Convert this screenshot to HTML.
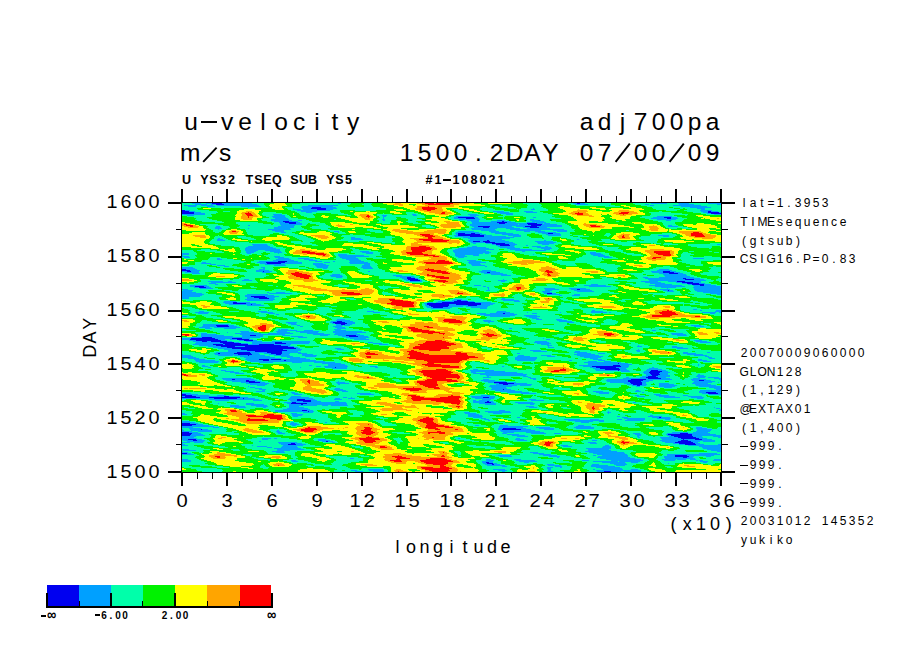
<!DOCTYPE html>
<html><head><meta charset="utf-8"><style>
html,body{margin:0;padding:0;background:#fff;}
body{width:904px;height:654px;position:relative;overflow:hidden;}
.t{position:absolute;white-space:nowrap;font-family:"Liberation Sans", "DejaVu Sans", sans-serif;color:#000;}
.t i{display:inline-block;font-style:normal;text-align:center;}
.t i.inf{font-size:13px;line-height:10px;font-weight:700;transform:translateY(-1px) scaleY(1.25)}
</style></head><body>
<svg width="904" height="654" style="position:absolute;left:0;top:0" shape-rendering="crispEdges"><g fill="none" stroke-width="1"><path stroke="#0000f0" d="M209 202.5h8m500 0h4M212 203.5h10m355 0h3M216 204.5h8M312 207.5h9M311 208.5h15M317 209.5h9M181 210.5h4M181 211.5h8m519 0h3M181 212.5h13m514 0h11M181 213.5h13m517 0h10M458 217.5h16m190 0h7M466 218.5h9m192 0h4M283 221.5h6m213 0h2M285 222.5h11m201 0h10M289 223.5h7m203 0h6m22 0h10M528 224.5h14M531 225.5h10M478 226.5h12m35 0h12M483 227.5h6m41 0h9M458 233.5h7m6 0h4m73 0h5M458 234.5h22M458 235.5h26M470 236.5h14M487 240.5h2M473 241.5h7m3 0h7M485 242.5h10M492 243.5h13M496 244.5h13M500 245.5h10M278 261.5h9M266 262.5h19M267 263.5h14M181 269.5h5M181 270.5h9M187 271.5h4m72 0h1m399 0h7M487 272.5h3m173 0h11M669 273.5h9M407 277.5h4M407 278.5h8m268 0h3M408 279.5h10m267 0h9M410 280.5h10M677 281.5h8M682 282.5h11M687 283.5h12M692 284.5h12M700 285.5h4M195 286.5h9M199 287.5h7M577 289.5h3M668 290.5h1M547 293.5h5M251 296.5h14M254 297.5h13M259 298.5h10M457 300.5h4M454 301.5h14M233 302.5h4m205 0h33M233 303.5h13m181 0h54M251 304.5h1m175 0h22m7 0h25M429 305.5h20m19 0h9M431 306.5h17M433 307.5h10M503 313.5h2M337 321.5h5M333 322.5h12M335 323.5h12M341 324.5h4M216 325.5h12M217 326.5h12M250 335.5h6m90 0h10M349 336.5h9M202 337.5h10M191 338.5h24m17 0h10M190 339.5h28m19 0h12M196 340.5h25m23 0h9M202 341.5h5m4 0h16M220 342.5h14m41 0h7M223 343.5h18m34 0h11M213 344.5h10m2 0h23m11 0h15M216 345.5h65M221 346.5h14m10 0h43M227 347.5h67M232 348.5h64M241 349.5h42M247 350.5h40M255 351.5h27M237 352.5h13m17 0h15M218 353.5h2m14 0h17m20 0h11M238 354.5h14m24 0h5M248 355.5h1M259 359.5h10m2 0h10M263 360.5h6m15 0h2M618 363.5h1M613 365.5h7M592 366.5h29M335 367.5h1m260 0h20M600 368.5h19M605 369.5h15M618 370.5h1m32 0h7M650 371.5h12M649 372.5h11M650 373.5h9M651 374.5h9M652 375.5h6M648 376.5h8M646 377.5h12M648 378.5h13M232 379.5h3m396 0h15M246 380.5h3m379 0h15m56 0h5M246 381.5h9m373 0h13M249 382.5h11m234 0h13m123 0h12M499 383.5h15m117 0h11M503 384.5h5m125 0h9M637 385.5h3M503 389.5h1M706 392.5h10M708 393.5h10M181 394.5h5M182 395.5h10M185 396.5h11m28 0h5M181 397.5h19m9 0h31m243 0h6M214 398.5h23m6 0h1M297 399.5h8M297 400.5h14M303 401.5h8m176 0h2M292 402.5h4m189 0h6M291 403.5h16M301 404.5h2M302 410.5h5M308 411.5h1M659 417.5h2M181 423.5h9M181 424.5h15M181 425.5h11M503 428.5h13M201 429.5h1m300 0h19M181 432.5h8M181 433.5h11m488 0h8M181 434.5h10m477 0h24M181 435.5h9m481 0h21M674 436.5h19M678 437.5h18M681 438.5h18M188 439.5h8m487 0h1m11 0h7M193 440.5h4m484 0h7M326 441.5h2m350 0h13M675 442.5h18M291 443.5h4m384 0h16M288 444.5h8m389 0h11M181 452.5h1M181 453.5h6M675 455.5h12M675 456.5h14M683 457.5h4M486 462.5h3M487 463.5h6M492 464.5h2M604 471.5h7"/><path stroke="#00a0ff" d="M189 202.5h11m3 0h6m8 0h26m3 0h5m83 0h11m229 0h8m66 0h18m10 0h10m15 0h16M192 203.5h9m5 0h6m10 0h30m86 0h3m232 0h4m3 0h5m66 0h16m11 0h11m19 0h13M195 204.5h12m4 0h5m8 0h33m318 0h13m57 0h4m30 0h15m23 0h4M184 205.5h13m4 0h12m4 0h42m49 0h30m271 0h1m40 0h4m19 0h28M188 206.5h8m11 0h8m26 0h20m41 0h31m348 0h26M248 207.5h1m52 0h11m9 0h15m354 0h21M293 208.5h1m8 0h9m15 0h11m196 0h1m163 0h8M181 209.5h1m111 0h8m2 0h14m9 0h7m198 0h4m166 0h4M185 210.5h5m107 0h33m370 0h12M189 211.5h6m106 0h16m176 0h11m20 0h9m168 0h7m3 0h7M194 212.5h7m105 0h6m185 0h12m17 0h11m166 0h5m11 0h2M194 213.5h11m295 0h13m194 0h4M181 214.5h24m68 0h9m130 0h4m52 0h9m29 0h7m201 0h7M187 215.5h7m80 0h11m97 0h5m26 0h4m53 0h9M272 216.5h13m98 0h3m70 0h20m181 0h15M273 217.5h13m97 0h1m70 0h4m16 0h4m55 0h3m117 0h11m7 0h6M275 218.5h13m95 0h1m70 0h12m9 0h4m172 0h16m4 0h7M271 219.5h18m93 0h3m74 0h21m50 0h4m123 0h19M271 220.5h21m6 0h4m81 0h2m82 0h12m18 0h8m25 0h10m126 0h5M274 221.5h9m6 0h9m173 0h8m12 0h11m2 0h7m21 0h12M279 222.5h6m11 0h4m172 0h25m10 0h9m11 0h8m1 0h10M280 223.5h9m7 0h6m170 0h27m6 0h22m10 0h6m1 0h6M280 224.5h22m168 0h48m1 0h9m14 0h15M248 225.5h2m31 0h14m175 0h61m10 0h21m106 0h4M216 226.5h4m58 0h16m178 0h6m12 0h22m4 0h9m12 0h25m106 0h10M215 227.5h6m53 0h20m180 0h9m6 0h25m9 0h7m9 0h8M215 228.5h7m26 0h1m25 0h16m181 0h26m9 0h14m7 0h23M218 229.5h1m49 0h23m181 0h23m15 0h54M272 230.5h12m197 0h15m20 0h25m12 0h14M275 231.5h9m50 0h5m119 0h16m15 0h10m25 0h6m5 0h10m12 0h10M281 232.5h5m52 0h1m117 0h23m12 0h15m32 0h18M455 233.5h3m7 0h6m4 0h7m13 0h18m29 0h6m5 0h7M456 234.5h2m22 0h6m16 0h17m27 0h15M454 235.5h4m26 0h8m16 0h13m27 0h13m97 0h11M455 236.5h15m14 0h22m7 0h8m142 0h6M351 237.5h4m108 0h51M218 238.5h2m131 0h10m107 0h42M217 239.5h6m128 0h12m107 0h32m75 0h2M217 240.5h8m243 0h19m2 0h16m39 0h2M469 241.5h4m7 0h3m7 0h19m26 0h18M471 242.5h14m10 0h18m24 0h19M473 243.5h3m10 0h6m13 0h10m23 0h16M252 244.5h15m225 0h4m13 0h8m25 0h7m168 0h4M253 245.5h15m228 0h4m10 0h5m11 0h2M248 246.5h22m202 0h5m21 0h16m18 0h9m4 0h3M246 247.5h27m194 0h19m14 0h15m22 0h14M245 248.5h31m182 0h31m18 0h13m21 0h11M245 249.5h35m175 0h39m16 0h22m12 0h6M245 250.5h13m7 0h15m173 0h33m29 0h31M246 251.5h10m14 0h11m79 0h9m84 0h36m33 0h3M246 252.5h8m20 0h8m80 0h11m81 0h37m99 0h6M181 253.5h8m58 0h4m27 0h1m87 0h7m82 0h28m2 0h4m101 0h11M181 254.5h8m149 0h9m108 0h24m54 0h1m57 0h12M181 255.5h2m155 0h26m91 0h10m8 0h6m114 0h12M181 256.5h8m85 0h6m59 0h30m87 0h11m131 0h11M184 257.5h6m85 0h9m56 0h16m102 0h6m140 0h8M217 258.5h3m58 0h11m9 0h11m33 0h16m335 0h11M217 259.5h5m54 0h15m13 0h9m33 0h13M273 260.5h21m15 0h8m32 0h12m106 0h9M259 261.5h19m9 0h11m17 0h7m11 0h2m15 0h14m105 0h12M202 262.5h4m51 0h9m19 0h17m22 0h6m19 0h19m100 0h18M201 263.5h10m49 0h7m14 0h21m11 0h10m27 0h20m99 0h11M210 264.5h6m49 0h20m28 0h13m38 0h6m101 0h10M217 265.5h8m49 0h12m29 0h14m33 0h8m102 0h13M224 266.5h5m87 0h12m34 0h9m114 0h2M181 267.5h12m68 0h4m52 0h11m33 0h11M181 268.5h14m68 0h2m58 0h4m36 0h10M186 269.5h11m62 0h6m394 0h10M190 270.5h10m56 0h13m213 0h9m166 0h15M181 271.5h6m4 0h8m57 0h7m1 0h8m96 0h2m109 0h17m155 0h12m7 0h6M185 272.5h14m63 0h8m211 0h6m3 0h10m152 0h11m11 0h6M192 273.5h8m284 0h19m156 0h10m9 0h5M332 274.5h8m151 0h16m156 0h23M330 275.5h12m51 0h9m99 0h10m153 0h23M331 276.5h12m53 0h18m251 0h25M336 277.5h6m58 0h7m4 0h4m228 0h5m11 0h35M402 278.5h5m8 0h3m227 0h38m3 0h14M244 279.5h5m155 0h4m10 0h2m83 0h1m144 0h37m9 0h10M242 280.5h10m154 0h4m10 0h2m76 0h9m142 0h57M208 281.5h15m5 0h4m178 0h12m79 0h4m136 0h17m10 0h9m8 0h16M211 282.5h25m409 0h16m15 0h6m11 0h8M209 283.5h7m434 0h15m17 0h5m12 0h6M215 284.5h3m373 0h7m57 0h17m16 0h4m12 0h7M190 285.5h17m267 0h7m103 0h22m43 0h33m11 0h7m4 0h12M190 286.5h5m9 0h5m274 0h3m103 0h22m44 0h30m9 0h27M194 287.5h5m7 0h5m276 0h2m172 0h15m17 0h28M200 288.5h13m275 0h1m55 0h11m14 0h17m81 0h1m26 0h27M182 289.5h6m300 0h1m56 0h14m12 0h6m3 0h10m70 0h10m24 0h27M183 290.5h10m293 0h4m55 0h7m22 0h18m71 0h5m1 0h4m22 0h26M181 291.5h11m350 0h8m27 0h17m73 0h7m23 0h24M181 292.5h15m71 0h2m7 0h9m258 0h9m151 0h18M181 293.5h21m67 0h23m252 0h3m5 0h4m154 0h11M181 294.5h23m43 0h21m279 0h13m14 0h6m137 0h4M181 295.5h21m43 0h29m285 0h3m10 0h8M181 296.5h19m45 0h6m14 0h14M181 297.5h8m58 0h7m13 0h8M181 298.5h8m58 0h12m10 0h5m228 0h3M245 299.5h30m179 0h8m39 0h13M247 300.5h26m179 0h5m4 0h6m36 0h16M224 301.5h12m202 0h16m14 0h6m40 0h6M223 302.5h10m4 0h13m178 0h5m3 0h6m33 0h16M225 303.5h8m13 0h10m168 0h3m54 0h14M229 304.5h22m1 0h9m164 0h2m22 0h7m25 0h12M247 305.5h17m161 0h4m20 0h19m9 0h13M426 306.5h5m17 0h15m3 0h22M427 307.5h6m10 0h9m19 0h16M431 308.5h19m30 0h7M693 309.5h4M592 310.5h3m105 0h2m14 0h5M199 311.5h5m54 0h9m100 0h7m123 0h9m85 0h12m112 0h6M195 312.5h14m52 0h12m100 0h7m78 0h1m37 0h14m17 0h1m32 0h1m30 0h16m2 0h2m91 0h14m3 0h2M198 313.5h10m60 0h7m202 0h9m4 0h13m2 0h9m18 0h5m173 0h5M276 314.5h3m201 0h37M484 315.5h31m9 0h13M181 316.5h6m303 0h20m16 0h14M529 317.5h8M532 318.5h7M337 319.5h8m191 0h6m14 0h6M336 320.5h14m133 0h8m66 0h10M331 321.5h6m5 0h11m131 0h10m65 0h13M286 322.5h11m33 0h3m12 0h10m133 0h2m77 0h7M288 323.5h8m36 0h3m12 0h8M203 324.5h26m62 0h6m39 0h5m4 0h7M203 325.5h13m12 0h6m63 0h3m36 0h7m1 0h6m341 0h10M202 326.5h15m12 0h8m63 0h3m30 0h9m352 0h10M199 327.5h11m4 0h26m95 0h10M205 328.5h7m12 0h12m101 0h9m163 0h3M278 329.5h2m1 0h7m46 0h7M278 330.5h19m7 0h9m22 0h11m306 0h4M240 331.5h9m27 0h11m9 0h23m14 0h29M227 332.5h1m13 0h13m23 0h13m10 0h18m15 0h33M201 333.5h6m28 0h26m7 0h25m14 0h17m11 0h22m314 0h12M201 334.5h16m23 0h45m28 0h17m4 0h26m312 0h14M201 335.5h23m18 0h8m6 0h7m19 0h8m30 0h8m10 0h8m10 0h8m313 0h10M201 336.5h32m9 0h21m28 0h12m39 0h7m9 0h10M191 337.5h11m10 0h48m38 0h9m39 0h23M182 338.5h9m24 0h17m10 0h8m100 0h16m177 0h1M181 339.5h9m28 0h7m5 0h7m12 0h4m101 0h15m177 0h4M189 340.5h7m25 0h6m12 0h5m9 0h4m437 0h8M193 341.5h9m5 0h4m16 0h5m14 0h16m10 0h38m225 0h12m149 0h11M196 342.5h24m14 0h5m13 0h23m7 0h28m58 0h5m161 0h15m151 0h11M195 343.5h28m18 0h7m4 0h23m11 0h23m64 0h9m155 0h14M193 344.5h20m10 0h2m23 0h11m15 0h17m88 0h9m153 0h8M199 345.5h17m65 0h9m257 0h5m86 0h1M208 346.5h13m14 0h10m43 0h6m254 0h1m88 0h5m30 0h5M213 347.5h14m67 0h4m250 0h6m118 0h11M218 348.5h14m64 0h4m35 0h6m336 0h11M224 349.5h17m42 0h19m35 0h7m294 0h1M228 350.5h19m40 0h14m229 0h11m95 0h4M228 351.5h27m27 0h16m235 0h14m28 0h5m57 0h3M216 352.5h21m13 0h17m15 0h19m273 0h13m96 0h5m19 0h3M214 353.5h4m2 0h14m17 0h8m5 0h7m11 0h8m8 0h9m210 0h3m57 0h14m7 0h7m78 0h13M181 354.5h2m32 0h23m14 0h8m9 0h7m5 0h8m13 0h11m261 0h21m92 0h16M181 355.5h10m27 0h15m1 0h14m1 0h16m9 0h16m12 0h15m201 0h6m17 0h10m26 0h22m95 0h13M181 356.5h12m47 0h30m11 0h12m12 0h11m201 0h13m17 0h8m25 0h23m102 0h4M181 357.5h15m48 0h31m12 0h13m215 0h22m47 0h17m107 0h4M188 358.5h11m47 0h36m8 0h16m209 0h22m53 0h8m111 0h6M194 359.5h11m40 0h14m10 0h2m10 0h29m205 0h21m57 0h9m96 0h4M195 360.5h20m32 0h16m6 0h15m2 0h30m201 0h18m34 0h3m26 0h7m93 0h9M196 361.5h23m31 0h75m263 0h9m7 0h7m92 0h8M199 362.5h19m41 0h14m19 0h10m12 0h21m249 0h37M322 363.5h19m247 0h30m1 0h9M328 364.5h17m243 0h44m66 0h1M202 365.5h3m104 0h3m16 0h19m232 0h34m7 0h9m69 0h1M202 366.5h6m108 0h5m3 0h24m22 0h7m125 0h2m79 0h9m29 0h8M208 367.5h3m89 0h1m24 0h10m1 0h11m28 0h3m212 0h6m20 0h12m24 0h2M332 368.5h15m246 0h7m19 0h7m23 0h9M473 369.5h5m117 0h10m15 0h7m20 0h15M221 370.5h5m244 0h24m102 0h22m1 0h10m17 0h5m7 0h8M225 371.5h9m237 0h34m116 0h9m14 0h6m12 0h6M230 372.5h9m232 0h5m9 0h32m126 0h6m11 0h10M235 373.5h9m229 0h50m121 0h6m9 0h9M480 374.5h47m119 0h5m9 0h8m30 0h2M486 375.5h40m120 0h6m6 0h12m27 0h7M487 376.5h2m34 0h5m114 0h6m8 0h14m26 0h10M483 377.5h8m37 0h3m95 0h3m11 0h6m12 0h8m32 0h7m3 0h11M222 378.5h29m279 0h6m87 0h25m13 0h9m23 0h7m14 0h7M223 379.5h9m3 0h19m229 0h6m44 0h3m71 0h24m15 0h26m19 0h15m13 0h2M226 380.5h20m3 0h8m224 0h14m111 0h22m15 0h10m39 0h7m5 0h7m9 0h1M232 381.5h14m9 0h6m77 0h1m145 0h22m101 0h21m13 0h8m45 0h21m5 0h1M241 382.5h8m11 0h5m71 0h9m143 0h6m13 0h9m94 0h20m12 0h4m47 0h19m6 0h1M246 383.5h23m68 0h12m145 0h5m15 0h13m97 0h7m11 0h4m13 0h10m23 0h16M250 384.5h17m71 0h2m156 0h7m5 0h24m95 0h6m9 0h5m12 0h15m21 0h16M257 385.5h8m225 0h27m3 0h11m101 0h5m3 0h6m13 0h18m19 0h20M248 386.5h1m240 0h23m124 0h4m19 0h16m24 0h22M250 387.5h5m236 0h15m158 0h8m37 0h12M255 388.5h7m73 0h5m152 0h15m207 0h7M259 389.5h7m68 0h9m148 0h12m1 0h7m205 0h5M262 390.5h3m71 0h10m149 0h20m121 0h3m61 0h21M256 391.5h9m77 0h6m152 0h22m71 0h10m32 0h6m58 0h22M291 392.5h4m212 0h22m67 0h13m33 0h2m55 0h7m10 0h5M181 393.5h10m101 0h6m59 0h14m150 0h15m63 0h10m93 0h6m10 0h3M186 394.5h12m96 0h8m58 0h14m280 0h7m48 0h12M181 395.5h1m10 0h17m8 0h9m255 0h9m145 0h4m17 0h13m14 0h5M181 396.5h4m11 0h28m5 0h11m51 0h10m170 0h24m142 0h8m14 0h16m13 0h14M200 397.5h9m31 0h8m42 0h19m34 0h4m4 0h1m120 0h11m6 0h6m169 0h16m11 0h13M181 398.5h33m23 0h6m1 0h11m34 0h24m22 0h5m8 0h7m120 0h19m203 0h6M209 399.5h50m29 0h9m8 0h10m19 0h8m140 0h9m38 0h7M215 400.5h14m24 0h9m28 0h7m14 0h6m156 0h3m3 0h11m41 0h13M291 401.5h12m8 0h10m14 0h4m134 0h14m2 0h4M284 402.5h8m4 0h50m127 0h12m6 0h3m21 0h18m100 0h3M218 403.5h1m27 0h8m33 0h4m16 0h40m132 0h17m22 0h17M246 404.5h18m25 0h12m2 0h44m138 0h11m34 0h4M230 405.5h9m12 0h16m22 0h28m5 0h6m3 0h17M230 406.5h15m11 0h12m21 0h10m227 0h8M235 407.5h11m17 0h3m23 0h15m225 0h8m177 0h1M287 408.5h21m408 0h4M283 409.5h27m410 0h1M275 410.5h27m5 0h6m186 0h6m214 0h2M275 411.5h33m1 0h5m171 0h25m98 0h1M303 412.5h10m151 0h6m18 0h23m96 0h4M181 413.5h4m106 0h6m168 0h11m17 0h9m106 0h1M181 414.5h6m105 0h11m165 0h11M292 415.5h10m166 0h14m168 0h3M293 416.5h5m170 0h15m134 0h3m28 0h14M473 417.5h9m35 0h3m102 0h6m24 0h7m2 0h9M481 418.5h5m138 0h21m12 0h14M484 419.5h5m75 0h16m10 0h9m18 0h5m5 0h18m20 0h5M488 420.5h2m78 0h36m21 0h19M181 421.5h9m385 0h18m6 0h5M181 422.5h14m96 0h3m31 0h2m254 0h8M190 423.5h8m92 0h7M196 424.5h7m87 0h9M192 425.5h17m83 0h4m179 0h4m21 0h8m70 0h6M181 426.5h33m285 0h29m48 0h15M181 427.5h12m20 0h6m280 0h24m13 0h14m24 0h20m102 0h6M181 428.5h1m7 0h12m297 0h5m13 0h10m13 0h15m22 0h18m102 0h11M181 429.5h2m7 0h11m1 0h6m290 0h4m19 0h10m13 0h10m143 0h15M181 430.5h3m7 0h21m65 0h2m221 0h35m162 0h14M181 431.5h11m6 0h14m64 0h4m221 0h39m156 0h14M189 432.5h9m79 0h5m221 0h11m12 0h18m128 0h16m5 0h15M192 433.5h9m77 0h7m217 0h5m24 0h15m8 0h7m72 0h7m27 0h13m8 0h22M191 434.5h12m304 0h12m116 0h6m25 0h2m24 0h24M190 435.5h15m307 0h13m112 0h4m26 0h4m21 0h29M181 436.5h15m321 0h11m109 0h2m30 0h5m19 0h9m11 0h8M181 437.5h13m444 0h2m20 0h18m18 0h7m15 0h3M181 438.5h16m65 0h9m3 0h3m181 0h2m56 0h4m141 0h20m18 0h8M181 439.5h7m8 0h6m60 0h6m50 0h8m189 0h9m138 0h21m1 0h11m7 0h10M183 440.5h10m4 0h8m113 0h12m187 0h10m65 0h5m63 0h21m7 0h27M181 441.5h1m5 0h17m55 0h2m61 0h4m2 0h5m329 0h16m13 0h9m3 0h12M181 442.5h9m4 0h9m75 0h19m35 0h3m253 0h8m69 0h10m18 0h5M181 443.5h2m96 0h12m4 0h7m288 0h7m76 0h6m16 0h5M181 444.5h4m96 0h7m8 0h10m373 0h6m11 0h8m14 0h3M181 445.5h7m64 0h1m30 0h20m258 0h7m37 0h4m79 0h33M257 446.5h10m15 0h15m266 0h9m31 0h8m88 0h22M267 447.5h5m9 0h17m304 0h9m91 0h19M274 448.5h27m285 0h25m92 0h18M181 449.5h8m88 0h27m284 0h21m98 0h14M183 450.5h13m81 0h13m298 0h23m100 0h10M181 451.5h2m89 0h12m301 0h32m100 0h4M182 452.5h6m88 0h9m245 0h8m51 0h35M187 453.5h4m342 0h11m49 0h32m74 0h18M181 454.5h13m345 0h12m46 0h30m40 0h53M498 455.5h13m32 0h14m36 0h3m6 0h26m39 0h8m12 0h27M500 456.5h12m37 0h11m38 0h30m36 0h11m14 0h5m12 0h5M557 457.5h2m38 0h33m34 0h19m4 0h6M350 458.5h4m246 0h35m30 0h30M181 459.5h7m298 0h5m23 0h7m85 0h35m21 0h14m1 0h9m4 0h6m18 0h7M181 460.5h10m100 0h5m190 0h8m22 0h19m47 0h7m22 0h32m21 0h11m21 0h2m1 0h4m10 0h8M181 461.5h10m101 0h6m184 0h11m26 0h18m56 0h25m1 0h21m60 0h8M482 462.5h4m3 0h4m31 0h5m73 0h23m6 0h7m65 0h4M483 463.5h4m6 0h4m113 0h16m42 0h1M485 464.5h7m2 0h6m47 0h7m38 0h7m15 0h13M487 465.5h18m43 0h13m30 0h17m8 0h9M502 466.5h5m48 0h7m29 0h24M547 467.5h6m7 0h2m34 0h24M547 468.5h4m50 0h21M368 469.5h15m110 0h12m43 0h3m42 0h2m8 0h20m8 0h7M351 470.5h6m12 0h15m114 0h9m41 0h3m45 0h45M355 471.5h8m10 0h11m118 0h3m42 0h6m44 0h7m7 0h10m3 0h17"/><path stroke="#00ffaa" d="M181 202.5h8m11 0h3m40 0h3m5 0h18m45 0h20m11 0h4m15 0h9m145 0h24m26 0h6m8 0h11m1 0h20m15 0h19m18 0h10m10 0h15M181 203.5h11m9 0h5m46 0h12m36 0h38m3 0h10m13 0h8m151 0h16m29 0h5m12 0h26m22 0h18m16 0h11m11 0h19M181 204.5h14m12 0h4m46 0h7m28 0h58m12 0h9m156 0h14m30 0h4m13 0h23m24 0h10m4 0h30m15 0h23M181 205.5h3m13 0h4m12 0h4m42 0h6m27 0h16m30 0h9m17 0h8m118 0h12m26 0h14m34 0h33m1 0h5m26 0h9m4 0h19m28 0h20M181 206.5h7m8 0h11m8 0h26m20 0h5m26 0h10m31 0h15m16 0h9m122 0h13m19 0h14m64 0h15m27 0h34m26 0h14M181 207.5h20m7 0h40m1 0h19m17 0h16m35 0h17m2 0h25m102 0h5m13 0h14m13 0h16m109 0h17m4 0h17m21 0h10M181 208.5h16m24 0h3m24 0h7m32 0h6m1 0h8m35 0h49m94 0h13m15 0h8m5 0h12m1 0h12m107 0h21m6 0h3m2 0h12m8 0h16M182 209.5h16m90 0h5m8 0h2m30 0h53m66 0h7m21 0h15m22 0h1m1 0h12m4 0h13m108 0h24m7 0h14m4 0h16M190 210.5h19m82 0h6m33 0h10m15 0h21m78 0h9m19 0h22m15 0h29m118 0h11m7 0h16m12 0h9M195 211.5h22m6 0h7m65 0h6m16 0h23m116 0h11m21 0h5m11 0h6m9 0h5m9 0h7m119 0h3m25 0h14m17 0h3M201 212.5h17m45 0h13m21 0h9m6 0h29m65 0h8m44 0h14m21 0h4m12 0h17m11 0h6m106 0h22m22 0h10M205 213.5h11m46 0h20m17 0h17m15 0h13m39 0h1m22 0h12m42 0h18m19 0h3m13 0h35m103 0h31m19 0h6M205 214.5h6m51 0h11m9 0h5m13 0h13m25 0h10m29 0h15m15 0h5m4 0h5m40 0h7m9 0h7m17 0h5m7 0h39m99 0h37m18 0h8M181 215.5h6m7 0h18m51 0h11m11 0h4m12 0h13m33 0h4m26 0h5m5 0h26m4 0h7m30 0h16m9 0h7m17 0h51m96 0h24m11 0h2M187 216.5h25m54 0h6m13 0h5m14 0h11m64 0h4m3 0h39m26 0h5m20 0h8m14 0h7m18 0h29m90 0h15m15 0h5M194 217.5h13m62 0h4m13 0h5m16 0h8m65 0h3m1 0h12m5 0h24m23 0h6m24 0h4m21 0h1m22 0h7m3 0h19m85 0h13m24 0h5M196 218.5h13m54 0h12m13 0h10m80 0h5m1 0h13m9 0h11m32 0h5m25 0h5m19 0h1m22 0h35m84 0h6m27 0h9M195 219.5h17m49 0h10m18 0h17m28 0h2m41 0h5m3 0h11m12 0h14m29 0h8m21 0h6m6 0h14m18 0h6m4 0h16m99 0h8m19 0h8M197 220.5h20m45 0h9m21 0h6m4 0h7m70 0h4m2 0h6m17 0h17m33 0h9m12 0h18m8 0h4m17 0h4m10 0h11m102 0h13m5 0h12M202 221.5h20m45 0h7m24 0h14m67 0h12m15 0h10m49 0h6m8 0h12m20 0h4m11 0h6m12 0h12m60 0h3m39 0h24M215 222.5h9m12 0h22m14 0h7m21 0h20m57 0h13m18 0h10m49 0h5m44 0h11m8 0h1m10 0h16m100 0h13M236 223.5h27m11 0h6m22 0h6m2 0h15m57 0h8m23 0h8m45 0h6m71 0h1m6 0h15m98 0h12M200 224.5h18m20 0h33m2 0h7m22 0h5m9 0h10m140 0h4m48 0h1m38 0h10m96 0h13M206 225.5h17m17 0h8m2 0h31m14 0h11m13 0h9m94 0h8m37 0h3m92 0h7m95 0h4m4 0h6M208 226.5h8m4 0h9m10 0h39m16 0h7m11 0h18m92 0h11m36 0h3m40 0h4m46 0h9m94 0h3m10 0h5M207 227.5h8m6 0h9m7 0h37m20 0h8m8 0h21m95 0h9m34 0h5m40 0h9m24 0h24m95 0h22M209 228.5h6m7 0h6m12 0h8m1 0h25m16 0h14m8 0h16m137 0h6m26 0h9m14 0h7m23 0h22m97 0h8m5 0h10M211 229.5h7m1 0h7m19 0h23m23 0h16m14 0h9m37 0h6m93 0h6m23 0h15m54 0h11M213 230.5h9m24 0h26m12 0h17m3 0h7m17 0h12m27 0h14m74 0h26m15 0h20m25 0h12m14 0h7m52 0h3M213 231.5h8m25 0h29m9 0h12m34 0h4m5 0h3m28 0h13m71 0h4m16 0h15m10 0h25m6 0h5m10 0h12m10 0h8M215 232.5h4m28 0h34m5 0h6m42 0h4m1 0h6m30 0h8m69 0h4m23 0h12m15 0h32m18 0h14M247 233.5h26m6 0h16m43 0h8m19 0h6m81 0h3m27 0h13m18 0h18m4 0h7m18 0h10m36 0h4m52 0h10M248 234.5h22m14 0h14m52 0h3m99 0h4m30 0h16m17 0h8m12 0h7m15 0h11m33 0h6m40 0h25M218 235.5h1m34 0h16m20 0h14m39 0h23m82 0h7m38 0h16m13 0h6m15 0h6m13 0h9m3 0h10m21 0h6m40 0h8m11 0h8M215 236.5h7m15 0h9m47 0h13m35 0h29m15 0h7m57 0h6m51 0h7m8 0h8m13 0h31m5 0h11m18 0h2m32 0h22m6 0h6M214 237.5h10m14 0h13m44 0h13m36 0h7m4 0h21m9 0h10m57 0h11m51 0h17m12 0h9m9 0h19m59 0h34M214 238.5h4m2 0h6m16 0h12m43 0h14m32 0h8m10 0h31m69 0h7m42 0h32m2 0h8m15 0h15m57 0h22M212 239.5h5m6 0h5m20 0h8m43 0h14m28 0h10m12 0h29m71 0h7m32 0h49m20 0h6m2 0h8m14 0h9m31 0h17M211 240.5h6m8 0h6m71 0h13m22 0h56m72 0h3m37 0h39m2 0h7m21 0h17m11 0h13m29 0h14M210 241.5h25m56 0h10m2 0h11m34 0h11m14 0h19m74 0h3m40 0h26m18 0h4m17 0h14m10 0h23m6 0h30M209 242.5h40m42 0h19m72 0h13m73 0h3m42 0h24m19 0h5m10 0h18m16 0h31m4 0h17M210 243.5h60m24 0h18m80 0h3m75 0h3m3 0h10m29 0h23m16 0h8m9 0h21m22 0h19m18 0h2m1 0h7m3 0h8m38 0h11M215 244.5h37m15 0h6m28 0h15m154 0h22m25 0h25m7 0h9m16 0h22m22 0h15m30 0h15m10 0h29M221 245.5h32m15 0h6m38 0h6m150 0h28m19 0h11m2 0h27m26 0h18m23 0h14m32 0h1m19 0h33M234 246.5h14m22 0h6m188 0h8m5 0h21m16 0h18m9 0h4m3 0h8m41 0h10m84 0h21m8 0h1M239 247.5h7m27 0h10m176 0h8m19 0h14m15 0h8m6 0h8m14 0h7m44 0h17m78 0h15M240 248.5h5m31 0h10m64 0h5m97 0h6m31 0h18m13 0h21m11 0h7m44 0h15m91 0h2M201 249.5h9m30 0h5m35 0h5m67 0h7m89 0h7m39 0h5m5 0h6m22 0h12m6 0h8m47 0h16M181 250.5h12m4 0h20m24 0h4m13 0h7m15 0h5m68 0h18m76 0h6m33 0h29m31 0h11m51 0h15M181 251.5h13m11 0h17m19 0h5m10 0h14m11 0h4m66 0h9m9 0h9m69 0h6m36 0h11m8 0h14m3 0h29m30 0h12m19 0h8m66 0h5m15 0h3M181 252.5h15m19 0h9m17 0h5m8 0h9m3 0h8m8 0h4m52 0h1m12 0h11m11 0h8m67 0h6m37 0h7m17 0h20m50 0h5m6 0h9m16 0h5m57 0h5m26 0h5M189 253.5h8m43 0h7m4 0h10m9 0h8m1 0h8m47 0h15m6 0h11m7 0h7m69 0h6m28 0h2m4 0h8m23 0h16m50 0h4m11 0h8m15 0h10m48 0h9M189 254.5h8m45 0h10m5 0h5m6 0h16m50 0h4m9 0h33m69 0h6m24 0h18m27 0h9m1 0h6m46 0h5m12 0h6m18 0h14m40 0h13M183 255.5h12m50 0h4m15 0h21m50 0h3m26 0h18m68 0h5m10 0h8m6 0h12m38 0h16m38 0h10m12 0h5m22 0h11m38 0h9M189 256.5h7m70 0h8m6 0h12m44 0h3m30 0h7m76 0h4m11 0h24m46 0h12m33 0h16m11 0h4m68 0h12m11 0h8M181 257.5h3m6 0h7m13 0h11m48 0h6m9 0h26m26 0h4m16 0h26m72 0h4m6 0h31m52 0h2m30 0h25m8 0h4m64 0h40M184 258.5h11m14 0h8m3 0h7m43 0h8m11 0h9m11 0h6m19 0h8m16 0h8m7 0h13m70 0h40m80 0h26m1 0h15m59 0h16m11 0h17M208 259.5h9m5 0h12m33 0h9m15 0h13m9 0h7m16 0h10m13 0h8m90 0h21m7 0h11m80 0h26m79 0h40M202 260.5h39m13 0h19m21 0h15m8 0h32m12 0h10m86 0h10m9 0h6m75 0h5m13 0h29m78 0h31M201 261.5h45m5 0h8m39 0h17m7 0h11m2 0h15m14 0h10m84 0h11m12 0h8m63 0h49m78 0h22M195 262.5h7m4 0h38m7 0h6m45 0h22m6 0h19m19 0h7m87 0h6m18 0h7m61 0h46m82 0h19M195 263.5h6m10 0h28m16 0h5m42 0h11m10 0h27m20 0h7m87 0h5m11 0h16m61 0h18m12 0h20m79 0h15M195 264.5h15m6 0h17m26 0h6m20 0h28m13 0h38m6 0h8m88 0h5m10 0h12m67 0h16m14 0h25m75 0h13M189 265.5h18m5 0h5m8 0h7m27 0h15m12 0h29m14 0h33m8 0h7m89 0h6m13 0h8m73 0h11m15 0h28m75 0h8M181 266.5h28m8 0h7m5 0h8m16 0h46m6 0h11m12 0h13m14 0h7m9 0h7m80 0h27m2 0h8m98 0h28m42 0h7m16 0h4m23 0h3M193 267.5h23m4 0h21m13 0h7m4 0h8m15 0h18m3 0h8m11 0h13m16 0h4m11 0h6m80 0h41m96 0h23m38 0h18m35 0h12M195 268.5h28m11 0h12m5 0h12m2 0h9m24 0h10m6 0h9m4 0h12m19 0h5m10 0h6m88 0h38m13 0h1m82 0h16m36 0h24m34 0h10M197 269.5h28m19 0h15m6 0h8m35 0h4m10 0h18m20 0h22m88 0h38m96 0h14m32 0h9m10 0h9m32 0h11M200 270.5h30m16 0h10m13 0h5m55 0h11m18 0h27m83 0h14m9 0h20m95 0h11m26 0h14m15 0h11m25 0h13M199 271.5h39m9 0h9m16 0h4m57 0h8m18 0h9m2 0h15m87 0h7m17 0h17m94 0h11m26 0h7m25 0h11m22 0h12M181 272.5h4m14 0h6m12 0h45m8 0h7m55 0h9m21 0h28m85 0h6m19 0h12m130 0h10m28 0h11m12 0h15M182 273.5h10m8 0h5m29 0h32m59 0h18m21 0h32m83 0h5m19 0h10m115 0h31m24 0h7m10 0h21M192 274.5h13m35 0h26m58 0h8m8 0h5m23 0h43m70 0h10m16 0h9m115 0h12m3 0h17m23 0h5m10 0h20M244 275.5h25m53 0h8m12 0h4m28 0h19m9 0h14m57 0h28m10 0h10m113 0h13m7 0h10m23 0h7m13 0h14M245 276.5h21m53 0h12m12 0h4m32 0h17m18 0h6m52 0h53m110 0h30m25 0h7m22 0h2M241 277.5h23m56 0h16m6 0h5m32 0h21m15 0h4m52 0h47m82 0h7m30 0h6m5 0h11m35 0h7M239 278.5h16m68 0h24m32 0h23m16 0h3m50 0h41m90 0h11m25 0h7m55 0h7m11 0h3M200 279.5h10m13 0h7m3 0h11m5 0h6m78 0h10m56 0h5m16 0h3m49 0h31m1 0h9m47 0h1m30 0h27m12 0h18m56 0h7m5 0h5M201 280.5h41m10 0h4m109 0h7m30 0h4m16 0h3m46 0h13m2 0h12m9 0h7m74 0h61m57 0h8m2 0h5M201 281.5h7m15 0h5m4 0h25m147 0h6m12 0h6m40 0h17m6 0h10m4 0h9m72 0h29m12 0h14m17 0h10m33 0h12m6 0h2M198 282.5h13m25 0h22m151 0h14m47 0h39m77 0h34m16 0h9m16 0h15m25 0h8M194 283.5h15m7 0h30m224 0h32m84 0h33m7 0h7m3 0h14m15 0h17m23 0h6M181 284.5h34m3 0h8m14 0h6m92 0h4m126 0h35m43 0h9m21 0h15m7 0h10m22 0h25m17 0h16m23 0h6M181 285.5h9m17 0h20m41 0h5m61 0h15m34 0h1m78 0h12m7 0h18m48 0h12m18 0h7m22 0h7m19 0h17m33 0h11m23 0h5M181 286.5h9m19 0h19m22 0h4m22 0h2m60 0h11m29 0h13m75 0h17m3 0h8m41 0h27m12 0h15m22 0h5m18 0h21m30 0h9M181 287.5h13m17 0h4m36 0h6m122 0h20m73 0h15m2 0h6m41 0h82m22 0h21m15 0h17M181 288.5h19m13 0h5m162 0h8m89 0h11m1 0h9m36 0h10m11 0h14m17 0h32m34 0h15m1 0h14m4 0h8M181 289.5h1m6 0h34m17 0h17m18 0h7m102 0h2m92 0h11m1 0h11m33 0h12m14 0h12m19 0h26m40 0h4m10 0h5m14 0h5M181 290.5h2m10 0h15m16 0h8m6 0h27m7 0h14m194 0h6m4 0h9m33 0h13m7 0h22m18 0h16m51 0h4m10 0h4m13 0h5M192 291.5h17m21 0h60m93 0h1m100 0h13m38 0h7m8 0h9m8 0h10m17 0h16m53 0h4m7 0h6m11 0h6M196 292.5h10m29 0h32m2 0h7m9 0h12m85 0h6m151 0h4m9 0h4m15 0h43m51 0h15m8 0h15M202 293.5h6m30 0h31m23 0h10m80 0h9m127 0h1m22 0h3m12 0h3m10 0h33m7 0h10m23 0h1m5 0h33m9 0h20M204 294.5h12m23 0h8m21 0h30m85 0h12m120 0h7m22 0h3m13 0h14m6 0h21m42 0h5m5 0h29m3 0h3m6 0h12m5 0h6M202 295.5h20m18 0h5m29 0h16m27 0h8m68 0h5m115 0h9m25 0h12m3 0h10m8 0h19m53 0h2m9 0h4m21 0h22m6 0h5M200 296.5h22m18 0h5m34 0h7m37 0h1m143 0h3m42 0h11m37 0h28m65 0h2m37 0h21M189 297.5h30m21 0h7m28 0h12m179 0h13m35 0h12m37 0h4m5 0h7m118 0h19M189 298.5h30m21 0h7m27 0h8m64 0h8m99 0h28m16 0h5m3 0h30m25 0h6m148 0h7M181 299.5h39m20 0h5m30 0h6m69 0h6m94 0h4m8 0h6m3 0h12m12 0h6m13 0h12m1 0h8m26 0h7m54 0h9m87 0h3M186 300.5h7m19 0h18m10 0h7m26 0h9m152 0h8m3 0h7m15 0h20m7 0h9m16 0h6m38 0h9m46 0h7m26 0h4m36 0h2M216 301.5h8m12 0h44m153 0h5m36 0h18m5 0h17m6 0h7m43 0h8m43 0h5m18 0h18m28 0h8M218 302.5h5m27 0h29m30 0h2m113 0h4m5 0h3m55 0h7m6 0h23m34 0h3m10 0h9m64 0h37m9 0h10M220 303.5h5m31 0h8m158 0h2m71 0h6m8 0h13m39 0h11m7 0h7m62 0h47m5 0h7M221 304.5h8m32 0h7m154 0h3m68 0h10m11 0h10m37 0h18m44 0h1m59 0h1m6 0h22M221 305.5h26m17 0h5m56 0h6m91 0h3m65 0h12m4 0h20m33 0h20m104 0h1m16 0h8M227 306.5h43m61 0h6m86 0h3m37 0h3m22 0h13m6 0h16m33 0h24m100 0h11M181 307.5h11m41 0h26m58 0h12m38 0h2m54 0h4m25 0h19m16 0h14m7 0h15m35 0h24m98 0h17M184 308.5h11m41 0h29m53 0h14m31 0h8m12 0h3m38 0h7m19 0h8m8 0h14m7 0h37m34 0h38m84 0h21m8 0h2M188 309.5h11m40 0h20m2 0h11m18 0h12m14 0h20m22 0h15m11 0h5m27 0h44m10 0h54m33 0h16m8 0h22m77 0h13m4 0h24M190 310.5h17m37 0h24m1 0h8m9 0h21m7 0h17m25 0h22m39 0h15m15 0h15m5 0h56m9 0h16m10 0h16m9 0h9m3 0h12m74 0h19m2 0h14M189 311.5h10m5 0h9m16 0h10m12 0h7m9 0h65m10 0h25m7 0h11m42 0h2m20 0h16m3 0h29m9 0h60m17 0h8m12 0h14m67 0h31M190 312.5h5m14 0h7m39 0h6m12 0h35m1 0h26m9 0h29m7 0h9m62 0h7m1 0h37m14 0h17m1 0h32m1 0h6m16 0h8m16 0h2m2 0h13m66 0h12m14 0h3M192 313.5h6m10 0h12m39 0h9m7 0h10m8 0h1m22 0h11m15 0h49m64 0h7m9 0h6m9 0h4m24 0h18m5 0h34m15 0h15m2 0h24m76 0h7m5 0h6M196 314.5h26m34 0h10m3 0h7m3 0h6m35 0h6m17 0h30m7 0h14m82 0h4m37 0h38m7 0h11m19 0h3m20 0h6m89 0h11M181 315.5h8m13 0h9m45 0h11m7 0h15m34 0h5m19 0h16m24 0h15m78 0h4m31 0h9m13 0h22m155 0h7M187 316.5h9m8 0h13m42 0h7m11 0h16m34 0h5m17 0h14m18 0h25m79 0h5m20 0h16m14 0h22M181 317.5h14m11 0h15m62 0h12m34 0h14m8 0h13m20 0h19m84 0h28m7 0h7m8 0h23M213 318.5h12m43 0h4m15 0h10m34 0h33m29 0h7m86 0h17m24 0h5m7 0h25M223 319.5h9m39 0h8m9 0h13m31 0h5m8 0h13m119 0h23m30 0h6m6 0h14m6 0h6m38 0h6M202 320.5h5m21 0h9m38 0h29m26 0h6m14 0h13m113 0h7m8 0h6m34 0h26m10 0h5m32 0h12M201 321.5h11m19 0h9m38 0h29m19 0h5m22 0h10m111 0h10m10 0h4m33 0h28m13 0h4m27 0h15M200 322.5h18m62 0h6m11 0h13m16 0h4m25 0h8m112 0h13m2 0h11m31 0h35m7 0h6m24 0h14m83 0h2M197 323.5h34m51 0h6m8 0h17m16 0h3m23 0h10m115 0h26m30 0h31m2 0h18m14 0h16m87 0h7M196 324.5h7m26 0h7m50 0h5m6 0h17m15 0h7m16 0h16m121 0h24m18 0h12m11 0h13m9 0h20m5 0h14m71 0h13m10 0h2M196 325.5h7m31 0h5m49 0h9m3 0h12m16 0h8m7 0h1m6 0h18m128 0h30m2 0h42m11 0h19m85 0h6m10 0h6M193 326.5h9m35 0h5m49 0h9m3 0h8m17 0h5m9 0h27m128 0h68m22 0h13m88 0h6m10 0h6M195 327.5h4m11 0h4m26 0h6m48 0h18m16 0h7m10 0h4m14 0h7m129 0h65m91 0h10m31 0h15M199 328.5h6m7 0h12m12 0h13m27 0h15m3 0h19m15 0h9m9 0h7m149 0h7m3 0h10m26 0h16m78 0h9m1 0h19M181 329.5h5m19 0h45m25 0h3m2 0h1m7 0h27m13 0h6m7 0h18m145 0h20m30 0h12m77 0h16m11 0h19M181 330.5h15m14 0h41m23 0h4m19 0h7m9 0h9m4 0h9m11 0h18m148 0h14m33 0h12m75 0h6m4 0h8m10 0h12M213 331.5h27m9 0h5m19 0h3m11 0h9m23 0h14m29 0h7m137 0h1m11 0h12m33 0h18m69 0h18m8 0h11M195 332.5h12m10 0h10m1 0h13m13 0h5m10 0h8m13 0h10m18 0h15m33 0h7m133 0h12m2 0h15m34 0h13m71 0h3m5 0h27M196 333.5h5m6 0h9m4 0h15m26 0h7m25 0h14m17 0h11m22 0h17m134 0h30m35 0h6m86 0h6m12 0h6M198 334.5h3m16 0h23m45 0h28m17 0h4m26 0h11m141 0h24m21 0h18m66 0h16m10 0h5m14 0h4M198 335.5h3m23 0h18m21 0h19m8 0h30m8 0h10m26 0h6m146 0h18m18 0h14m2 0h1m74 0h23m3 0h8m10 0h4M197 336.5h4m32 0h9m21 0h5m15 0h8m12 0h39m26 0h5m145 0h20m16 0h10m94 0h31M181 337.5h10m69 0h8m22 0h8m9 0h39m23 0h7m148 0h22m13 0h4m105 0h10M181 338.5h1m68 0h11m33 0h21m29 0h6m16 0h10m153 0h14m1 0h10M225 339.5h5m23 0h4m34 0h23m33 0h7m15 0h9m148 0h20m4 0h7m133 0h9M181 340.5h8m38 0h12m18 0h5m10 0h41m39 0h28m145 0h36m31 0h9m89 0h4m8 0h7M181 341.5h12m39 0h14m16 0h10m38 0h5m44 0h22m143 0h11m12 0h19m28 0h12m17 0h7m63 0h3m11 0h8M181 342.5h15m43 0h13m58 0h6m48 0h4m5 0h10m144 0h7m15 0h7m6 0h8m29 0h7m21 0h8m32 0h5m23 0h5m11 0h6M181 343.5h14m53 0h4m57 0h8m51 0h5m9 0h7m84 0h1m42 0h7m7 0h7m14 0h6m74 0h7m36 0h5m19 0h22M189 344.5h4m98 0h30m52 0h6m9 0h5m121 0h10m10 0h7m8 0h9m71 0h15m33 0h10m19 0h12M192 345.5h7m91 0h7m8 0h23m51 0h19m111 0h38m5 0h6m71 0h9m1 0h9m17 0h27M194 346.5h14m86 0h6m19 0h25m46 0h10m114 0h34m1 0h13m69 0h6m5 0h8m14 0h8m5 0h19M192 347.5h2m12 0h7m85 0h7m8 0h34m16 0h7m111 0h7m34 0h26m6 0h11m68 0h16m15 0h8m11 0h9m2 0h4M213 348.5h5m82 0h35m6 0h8m19 0h2m112 0h11m33 0h14m6 0h23m62 0h12m17 0h17m11 0h5M217 349.5h7m78 0h35m7 0h7m136 0h4m30 0h20m14 0h21m54 0h8m1 0h4m33 0h25M219 350.5h9m73 0h25m6 0h21m157 0h20m11 0h6m15 0h28m27 0h5m2 0h12m4 0h5m35 0h31M181 351.5h8m25 0h14m70 0h25m15 0h12m161 0h22m14 0h5m15 0h8m5 0h17m28 0h12m3 0h6m30 0h16m3 0h26M181 352.5h14m15 0h6m85 0h20m190 0h47m11 0h5m13 0h20m21 0h16m34 0h5m5 0h19m3 0h11M181 353.5h19m9 0h5m45 0h5m26 0h8m9 0h15m12 0h8m170 0h5m3 0h57m14 0h7m7 0h6m21 0h8m40 0h3m13 0h25M183 354.5h20m2 0h10m45 0h9m20 0h13m11 0h15m8 0h12m165 0h39m13 0h9m21 0h17m68 0h7m16 0h18M191 355.5h27m15 0h1m31 0h9m16 0h12m15 0h34m162 0h5m6 0h17m10 0h6m13 0h7m22 0h10m72 0h13m13 0h14M193 356.5h47m30 0h11m12 0h12m11 0h23m169 0h9m13 0h17m8 0h7m9 0h9m23 0h5m82 0h15m4 0h12M196 357.5h8m3 0h18m12 0h7m31 0h12m13 0h26m181 0h8m22 0h31m3 0h13m17 0h10m48 0h15m24 0h10m4 0h9M181 358.5h7m11 0h8m8 0h8m17 0h6m36 0h8m16 0h9m193 0h7m22 0h38m3 0h12m8 0h14m80 0h17m6 0h6M181 359.5h13m11 0h14m22 0h4m65 0h6m16 0h7m169 0h7m21 0h46m4 0h7m9 0h5m85 0h6m4 0h19M181 360.5h14m20 0h5m24 0h3m69 0h7m11 0h7m168 0h8m18 0h7m19 0h8m3 0h26m7 0h6m30 0h15m39 0h3m9 0h14M185 361.5h11m23 0h3m25 0h3m75 0h19m128 0h3m33 0h32m29 0h19m9 0h7m7 0h6m29 0h16m35 0h6m8 0h10M192 362.5h7m19 0h4m29 0h8m14 0h19m10 0h12m21 0h12m123 0h10m24 0h19m8 0h3m43 0h7m37 0h4m24 0h14m35 0h2m3 0h18M196 363.5h25m39 0h62m19 0h9m43 0h1m76 0h14m23 0h15m11 0h1m43 0h11m40 0h4m20 0h5m35 0h9M198 364.5h16m31 0h13m29 0h41m17 0h6m5 0h12m101 0h19m10 0h7m12 0h21m36 0h14m44 0h7m5 0h15m31 0h8m1 0h6M198 365.5h4m3 0h5m38 0h15m26 0h20m3 0h16m19 0h7m5 0h19m93 0h37m17 0h10m40 0h4m50 0h37m26 0h6m1 0h6M199 366.5h3m6 0h5m44 0h6m27 0h26m5 0h3m24 0h10m4 0h8m7 0h10m85 0h30m2 0h7m19 0h5m39 0h9m46 0h43m23 0h9M201 367.5h7m3 0h8m8 0h14m49 0h10m1 0h24m22 0h28m3 0h12m82 0h4m8 0h28m20 0h2m41 0h15m38 0h10m1 0h13m2 0h24m20 0h3M203 368.5h45m43 0h23m11 0h7m15 0h50m73 0h12m7 0h25m18 0h3m42 0h16m33 0h11m3 0h9m9 0h8m7 0h9M199 369.5h6m6 0h38m43 0h21m20 0h67m68 0h5m5 0h40m8 0h8m48 0h13m32 0h6m8 0h6m15 0h7M198 370.5h23m5 0h15m51 0h21m43 0h45m62 0h7m24 0h41m50 0h11m33 0h7m5 0h5m20 0h6M208 371.5h17m9 0h9m45 0h8m67 0h40m59 0h9m34 0h30m51 0h35m9 0h14m24 0h6m34 0h3M211 372.5h19m9 0h8m41 0h8m86 0h18m65 0h6m5 0h9m32 0h18m55 0h24m7 0h22m27 0h6m15 0h5m10 0h15M212 373.5h23m9 0h8m28 0h17m90 0h13m69 0h4m50 0h9m45 0h9m54 0h4m24 0h10m13 0h30M215 374.5h41m25 0h17m92 0h12m69 0h9m47 0h6m45 0h10m33 0h5m16 0h4m22 0h6m18 0h6m2 0h21M218 375.5h18m14 0h2m29 0h17m92 0h17m64 0h15m40 0h14m14 0h25m42 0h5m16 0h4m24 0h5m14 0h8m7 0h17M218 376.5h29m37 0h12m88 0h31m55 0h17m2 0h34m5 0h27m7 0h17m41 0h13m3 0h6m28 0h8m12 0h6m10 0h15M215 377.5h38m135 0h5m3 0h19m56 0h12m8 0h20m9 0h8m3 0h11m7 0h15m53 0h9m3 0h11m26 0h14m8 0h10m7 0h3m11 0h2M215 378.5h7m29 0h5m216 0h41m9 0h8m6 0h5m13 0h21m29 0h19m47 0h10m5 0h8m7 0h14M216 379.5h7m31 0h5m77 0h5m51 0h7m74 0h10m6 0h10m13 0h21m3 0h6m15 0h24m21 0h5m65 0h10m2 0h7m15 0h13M220 380.5h6m31 0h5m73 0h10m49 0h7m72 0h8m14 0h10m10 0h27m19 0h17m23 0h5m47 0h39m19 0h9M224 381.5h8m29 0h7m62 0h8m1 0h10m47 0h6m75 0h7m22 0h31m62 0h8m42 0h16m4 0h25m21 0h5M227 382.5h14m24 0h7m59 0h5m9 0h7m130 0h6m28 0h23m63 0h8m36 0h47m19 0h6m1 0h2M225 383.5h21m23 0h6m57 0h5m12 0h9m127 0h9m33 0h16m63 0h18m22 0h7m1 0h5m10 0h7m4 0h12m16 0h13M227 384.5h23m17 0h8m57 0h6m2 0h21m96 0h7m20 0h12m36 0h9m64 0h22m20 0h4m4 0h4m15 0h9m2 0h10m16 0h6M232 385.5h25m8 0h8m61 0h21m128 0h7m27 0h3m11 0h11m54 0h25m6 0h5m14 0h13m18 0h19m20 0h5M239 386.5h9m1 0h24m63 0h19m129 0h5m23 0h31m48 0h30m8 0h7m4 0h13m1 0h5m16 0h12m1 0h11M244 387.5h6m5 0h19m57 0h25m130 0h5m15 0h40m8 0h8m29 0h8m8 0h12m12 0h13m14 0h6m8 0h8m18 0h11M246 388.5h9m7 0h17m49 0h7m5 0h18m126 0h8m15 0h17m10 0h16m3 0h17m16 0h12m30 0h18m18 0h13m29 0h8M243 389.5h16m7 0h16m48 0h4m9 0h17m125 0h6m20 0h7m1 0h8m12 0h11m8 0h13m15 0h15m25 0h22m44 0h24M244 390.5h18m3 0h23m45 0h3m10 0h18m125 0h6m20 0h13m16 0h6m37 0h22m17 0h10m3 0h6m43 0h12M181 391.5h1m11 0h1m53 0h9m9 0h9m5 0h16m41 0h6m6 0h22m125 0h5m22 0h10m56 0h5m10 0h9m15 0h8m6 0h7m17 0h6m13 0h15M181 392.5h23m49 0h18m14 0h6m4 0h4m39 0h37m126 0h6m22 0h8m51 0h8m13 0h6m16 0h11m2 0h9m14 0h10m8 0h14M191 393.5h19m49 0h8m21 0h4m6 0h6m35 0h18m14 0h8m129 0h13m15 0h6m46 0h11m10 0h8m20 0h23m8 0h15m6 0h13M198 394.5h26m9 0h6m23 0h7m19 0h6m8 0h5m32 0h21m14 0h7m94 0h12m36 0h25m43 0h24m14 0h11m6 0h8m7 0h48M209 395.5h8m9 0h26m13 0h8m13 0h24m28 0h44m88 0h11m9 0h5m38 0h1m2 0h25m35 0h18m16 0h5m4 0h6m4 0h7m13 0h14m5 0h18m2 0h13M240 396.5h18m10 0h10m2 0h11m10 0h13m14 0h29m12 0h5m94 0h3m24 0h3m34 0h5m9 0h18m36 0h13m20 0h4m8 0h14m16 0h13m14 0h5m12 0h2M248 397.5h13m10 0h19m19 0h13m3 0h18m4 0h4m1 0h7m110 0h3m23 0h5m31 0h9m28 0h3m34 0h7m25 0h27m16 0h11m13 0h6M255 398.5h10m13 0h11m24 0h22m5 0h8m7 0h9m107 0h4m19 0h5m24 0h20m101 0h53m6 0h10M181 399.5h5m10 0h13m50 0h9m15 0h5m27 0h19m8 0h22m106 0h12m9 0h6m27 0h5m7 0h13m89 0h1m12 0h38m5 0h27M182 400.5h2m24 0h7m14 0h24m9 0h10m15 0h3m27 0h34m117 0h5m3 0h3m11 0h4m33 0h4m13 0h15m83 0h3m5 0h14m40 0h17M212 401.5h66m2 0h11m30 0h14m4 0h13m117 0h4m20 0h3m14 0h55m60 0h10m14 0h17m43 0h12M212 402.5h15m7 0h39m7 0h4m62 0h9m115 0h3m21 0h4m11 0h6m18 0h34m60 0h6m3 0h6m11 0h15m44 0h9M210 403.5h8m1 0h12m5 0h10m8 0h18m10 0h5m60 0h10m114 0h8m17 0h4m11 0h7m17 0h5m92 0h15m58 0h11M213 404.5h33m18 0h6m14 0h5m58 0h13m111 0h14m11 0h6m11 0h17m4 0h6m99 0h13m54 0h15M218 405.5h12m9 0h12m16 0h5m12 0h5m28 0h5m6 0h3m17 0h5m118 0h67m155 0h2m4 0h22M224 406.5h6m15 0h11m12 0h6m12 0h3m10 0h55m118 0h54m8 0h5m143 0h39M184 407.5h5m41 0h5m11 0h17m3 0h9m7 0h7m15 0h36m7 0h8m88 0h1m27 0h7m5 0h46m8 0h5m19 0h6m110 0h37m1 0h6M188 408.5h7m42 0h18m8 0h24m21 0h32m132 0h9m7 0h58m17 0h8m108 0h37m4 0h1M244 409.5h6m19 0h14m27 0h12m3 0h4m146 0h50m14 0h9m59 0h5m72 0h36M181 410.5h5m82 0h7m38 0h4m31 0h9m122 0h20m6 0h18m83 0h10m18 0h7m48 0h30M181 411.5h11m79 0h4m39 0h4m31 0h14m93 0h13m11 0h5m25 0h15m77 0h6m1 0h10m17 0h8m46 0h31M181 412.5h11m86 0h25m10 0h7m30 0h14m90 0h10m6 0h7m3 0h8m23 0h12m78 0h6m4 0h12m13 0h11m42 0h32M185 413.5h6m94 0h6m6 0h25m31 0h11m91 0h10m11 0h17m9 0h20m81 0h5m1 0h43m40 0h19m8 0h2M187 414.5h6m95 0h4m11 0h25m25 0h11m92 0h12m11 0h43m16 0h10m56 0h14m2 0h49m26 0h14M181 415.5h11m98 0h2m10 0h26m20 0h12m91 0h17m14 0h8m21 0h9m19 0h15m50 0h21m3 0h22m3 0h20m24 0h12M291 416.5h2m5 0h30m22 0h12m89 0h17m15 0h13m13 0h13m18 0h18m43 0h16m3 0h7m4 0h17m14 0h14m22 0h13M292 417.5h36m48 0h7m68 0h22m9 0h21m8 0h6m3 0h5m17 0h23m38 0h19m6 0h24m18 0h6m33 0h12M292 418.5h9m10 0h19m50 0h8m60 0h18m7 0h8m5 0h6m9 0h26m19 0h78m21 0h12m14 0h9m34 0h7M316 419.5h16m51 0h1m63 0h22m10 0h5m5 0h4m14 0h13m32 0h12m16 0h10m9 0h18m5 0h5m18 0h20m5 0h16m31 0h4M181 420.5h8m129 0h12m43 0h11m64 0h24m10 0h6m2 0h6m16 0h8m37 0h11m36 0h21m19 0h8m11 0h26M190 421.5h6m94 0h4m21 0h16m45 0h9m71 0h23m6 0h14m16 0h8m24 0h2m17 0h9m18 0h6m5 0h48m22 0h17m26 0h4M195 422.5h5m86 0h5m3 0h5m19 0h7m2 0h9m42 0h10m73 0h6m31 0h7m13 0h7m21 0h10m16 0h9m8 0h51m43 0h11m23 0h4M198 423.5h5m83 0h4m7 0h4m22 0h16m41 0h12m69 0h12m30 0h17m27 0h11m16 0h25m17 0h19M203 424.5h5m78 0h4m9 0h4m78 0h15m68 0h17m13 0h29m50 0h19m28 0h17M209 425.5h5m73 0h5m4 0h6m80 0h15m71 0h7m4 0h7m6 0h8m8 0h22m39 0h9m6 0h13m23 0h15M214 426.5h5m72 0h6m176 0h15m3 0h8m29 0h22m17 0h9m15 0h11m20 0h17m24 0h6m21 0h12M193 427.5h20m6 0h5m268 0h7m24 0h13m14 0h5m11 0h8m20 0h13m21 0h12m6 0h26m19 0h5m6 0h5m11 0h3M182 428.5h7m12 0h26m51 0h1m194 0h4m17 0h4m28 0h13m15 0h5m9 0h8m18 0h20m35 0h23m21 0h3m11 0h5m5 0h4M183 429.5h7m18 0h18m44 0h14m210 0h4m33 0h13m10 0h7m12 0h29m11 0h7m34 0h19m20 0h4m15 0h9M184 430.5h7m21 0h15m41 0h9m2 0h8m208 0h5m35 0h28m27 0h4m26 0h7m35 0h13m16 0h6m14 0h10M192 431.5h6m14 0h14m6 0h5m34 0h5m4 0h6m210 0h5m39 0h33m51 0h17m23 0h19m4 0h9m14 0h11M198 432.5h36m39 0h4m5 0h6m104 0h12m90 0h9m11 0h12m18 0h34m48 0h17m20 0h9m16 0h5m15 0h13M201 433.5h38m36 0h3m7 0h6m32 0h18m56 0h13m86 0h6m5 0h24m15 0h8m7 0h21m46 0h5m7 0h4m18 0h5m43 0h11M203 434.5h6m18 0h12m37 0h20m27 0h5m7 0h7m155 0h10m12 0h59m52 0h5m6 0h5m16 0h4m50 0h5M205 435.5h6m72 0h11m29 0h1m173 0h15m13 0h6m13 0h11m73 0h9m4 0h7m15 0h4M196 436.5h15m52 0h1m235 0h18m11 0h4m98 0h7m2 0h14m2 0h14m33 0h11M194 437.5h16m47 0h24m117 0h1m56 0h6m43 0h29m100 0h5m2 0h20m43 0h15M197 438.5h7m48 0h10m9 0h3m3 0h12m25 0h11m68 0h8m53 0h4m2 0h6m42 0h8m4 0h12m60 0h3m42 0h24m46 0h14M202 439.5h5m39 0h16m6 0h29m16 0h5m8 0h5m63 0h7m55 0h14m39 0h6m9 0h7m57 0h12m43 0h19m50 0h9M181 440.5h2m22 0h4m39 0h54m12 0h4m12 0h5m61 0h6m62 0h10m34 0h9m10 0h5m51 0h9m5 0h7m45 0h11m55 0h6M182 441.5h5m17 0h6m41 0h8m2 0h41m17 0h3m11 0h4m60 0h6m69 0h7m2 0h25m7 0h17m51 0h25m47 0h9m38 0h3m12 0h6M190 442.5h4m9 0h4m46 0h25m19 0h8m18 0h9m3 0h3m59 0h3m40 0h8m41 0h21m52 0h8m12 0h6m8 0h11m47 0h11m33 0h23M183 443.5h25m45 0h26m23 0h6m90 0h2m43 0h6m46 0h17m50 0h13m9 0h6m7 0h12m47 0h17m27 0h21M185 444.5h27m29 0h40m25 0h4m174 0h3m18 0h9m46 0h52m49 0h18m25 0h14M188 445.5h6m10 0h14m24 0h10m1 0h30m20 0h12m36 0h3m113 0h9m82 0h3m7 0h37m4 0h5m54 0h20M181 446.5h16m16 0h12m20 0h12m10 0h15m15 0h24m31 0h8m109 0h22m38 0h9m22 0h3m9 0h31m8 0h4m59 0h25M181 447.5h20m18 0h9m17 0h22m5 0h9m17 0h5m52 0h8m110 0h22m33 0h12m22 0h40m9 0h4m64 0h23M181 448.5h23m43 0h27m27 0h5m54 0h3m122 0h11m34 0h11m30 0h15m25 0h5m64 0h23M189 449.5h21m21 0h8m13 0h25m27 0h7m219 0h15m32 0h11m21 0h11m57 0h30M181 450.5h2m13 0h7m30 0h7m24 0h13m13 0h24m54 0h1m153 0h30m24 0h12m23 0h22m29 0h6m6 0h11m19 0h7M183 451.5h21m62 0h6m12 0h13m157 0h6m61 0h34m21 0h9m32 0h19m25 0h25m21 0h10M188 452.5h4m7 0h4m64 0h9m9 0h10m160 0h6m62 0h7m8 0h13m30 0h8m35 0h7m28 0h62M191 453.5h3m74 0h27m162 0h4m56 0h16m11 0h7m25 0h2m9 0h6m32 0h5m31 0h38m18 0h4M194 454.5h3m46 0h9m36 0h7m163 0h3m28 0h21m10 0h19m12 0h6m24 0h16m30 0h4m32 0h4m53 0h1M181 455.5h18m47 0h6m39 0h4m30 0h4m30 0h5m94 0h1m33 0h6m13 0h32m14 0h9m18 0h9m3 0h6m26 0h4m30 0h5m47 0h7M181 456.5h15m54 0h1m40 0h6m29 0h21m14 0h8m89 0h3m34 0h5m12 0h37m11 0h11m15 0h12m30 0h6m24 0h6m30 0h12m5 0h10M181 457.5h14m57 0h4m35 0h7m32 0h28m141 0h39m10 0h9m2 0h15m14 0h9m33 0h7m21 0h6m29 0h6m4 0h18M181 458.5h16m57 0h10m29 0h3m38 0h16m4 0h9m119 0h9m12 0h38m12 0h29m8 0h10m35 0h9m13 0h8m30 0h5m6 0h15M188 459.5h11m59 0h12m19 0h9m38 0h27m118 0h5m5 0h5m12 0h6m7 0h85m35 0h7m8 0h6m14 0h1m9 0h4m6 0h18M191 460.5h10m67 0h2m13 0h8m5 0h8m32 0h27m113 0h10m8 0h4m14 0h4m19 0h28m11 0h8m7 0h22m32 0h6m9 0h6m11 0h21m2 0h1m4 0h10M191 461.5h13m83 0h5m6 0h10m26 0h25m117 0h6m11 0h8m13 0h5m18 0h32m13 0h11m25 0h1m21 0h7m13 0h40m8 0h13M181 462.5h26m84 0h20m22 0h18m126 0h5m11 0h8m14 0h9m5 0h24m3 0h16m15 0h15m23 0h6m7 0h7m16 0h21m14 0h7m4 0h14M181 463.5h24m88 0h4m10 0h8m16 0h17m130 0h5m14 0h4m13 0h19m4 0h18m15 0h2m14 0h24m16 0h18m18 0h6m1 0h6m26 0h14M181 464.5h27m55 0h1m49 0h11m8 0h11m137 0h5m15 0h5m12 0h10m16 0h4m7 0h5m26 0h7m7 0h15m13 0h9m28 0h11m33 0h5M181 465.5h8m11 0h15m46 0h4m41 0h5m3 0h28m139 0h6m18 0h5m35 0h3m13 0h6m17 0h7m17 0h8m9 0h8M181 466.5h11m20 0h11m37 0h6m42 0h7m9 0h22m136 0h20m5 0h8m27 0h13m7 0h10m12 0h7m24 0h17m33 0h6M184 467.5h17m16 0h12m31 0h9m61 0h18m134 0h37m22 0h6m6 0h7m2 0h9m11 0h14m24 0h15m32 0h6M191 468.5h26m46 0h5m67 0h15m12 0h22m98 0h29m32 0h4m4 0h20m12 0h18m21 0h18M196 469.5h26m115 0h22m2 0h7m15 0h4m99 0h7m12 0h5m34 0h4m3 0h19m17 0h6m2 0h8m20 0h8m7 0h6M197 470.5h26m111 0h8m3 0h6m6 0h12m15 0h4m101 0h9m9 0h5m30 0h6m3 0h9m29 0h7m45 0h6M202 471.5h20m112 0h21m8 0h10m11 0h4m99 0h15m3 0h8m30 0h4m6 0h11m23 0h10m24 0h3m17 0h8"/><path stroke="#00f200" d="M269 202.5h5m12 0h28m35 0h15m9 0h15m82 0h12m27 0h9m24 0h15m2 0h2m3 0h4m25 0h1m20 0h15M264 203.5h10m11 0h15m51 0h13m8 0h11m91 0h14m23 0h12m16 0h29m43 0h22M264 204.5h6m16 0h6m58 0h12m9 0h16m22 0h7m65 0h46m14 0h30m40 0h24M265 205.5h4m18 0h5m55 0h17m8 0h22m19 0h2m70 0h5m12 0h26m14 0h34m39 0h6m5 0h15M266 206.5h4m12 0h10m56 0h16m9 0h25m61 0h36m13 0h19m14 0h19m4 0h41m15 0h4m6 0h17M201 207.5h7m60 0h4m10 0h3m68 0h2m25 0h24m58 0h20m5 0h13m14 0h13m16 0h15m12 0h20m6 0h33m7 0h16m17 0h4M197 208.5h6m8 0h10m3 0h24m7 0h17m11 0h4m99 0h21m39 0h12m11 0h11m13 0h15m8 0h5m25 0h14m20 0h12m13 0h6m12 0h8m11 0h11m21 0h6m3 0h2M198 209.5h46m11 0h20m9 0h4m98 0h8m9 0h7m37 0h5m7 0h5m10 0h6m15 0h22m1 0h1m29 0h15m26 0h11m6 0h3m35 0h12m24 0h7M209 210.5h30m22 0h30m49 0h15m21 0h20m10 0h9m35 0h4m9 0h6m8 0h5m22 0h15m29 0h17m31 0h16m27 0h27m11 0h7M217 211.5h6m7 0h7m22 0h36m45 0h10m3 0h13m4 0h20m6 0h22m34 0h4m11 0h7m6 0h8m22 0h9m21 0h26m36 0h8m30 0h19m3 0h25M218 212.5h19m22 0h4m13 0h21m44 0h14m22 0h13m10 0h6m8 0h7m33 0h4m14 0h8m9 0h4m50 0h20m80 0h6m22 0h22M216 213.5h21m21 0h4m20 0h11m1 0h5m17 0h15m13 0h10m22 0h7m1 0h10m8 0h4m12 0h6m32 0h4m18 0h6m10 0h3m51 0h5m92 0h6m31 0h19M211 214.5h25m23 0h3m25 0h6m1 0h6m13 0h25m10 0h6m19 0h4m15 0h15m14 0h5m28 0h7m23 0h17m51 0h7m42 0h1m5 0h2m36 0h6m37 0h18M212 215.5h23m25 0h3m26 0h12m13 0h8m3 0h22m4 0h4m19 0h3m47 0h11m14 0h5m32 0h17m51 0h14m34 0h9m25 0h14m24 0h11m2 0h9m7 0h18M181 216.5h6m25 0h24m26 0h4m24 0h3m3 0h8m11 0h6m8 0h7m9 0h12m19 0h3m46 0h14m7 0h5m33 0h14m7 0h18m29 0h19m30 0h11m19 0h11m35 0h21m12 0h11M181 217.5h13m13 0h28m27 0h7m22 0h16m8 0h8m5 0h10m12 0h8m18 0h4m16 0h5m24 0h7m9 0h7m34 0h5m6 0h10m1 0h10m6 0h6m29 0h18m31 0h6m20 0h10m42 0h21M181 218.5h15m13 0h26m22 0h6m35 0h43m33 0h4m19 0h9m11 0h15m13 0h4m35 0h19m1 0h22m35 0h13m31 0h7m18 0h15m42 0h14m3 0h1M181 219.5h14m17 0h23m22 0h4m45 0h28m2 0h9m28 0h4m19 0h12m14 0h4m22 0h3m35 0h6m14 0h10m3 0h5m26 0h26m27 0h13m9 0h24m35 0h26M181 220.5h16m20 0h23m18 0h4m47 0h40m24 0h6m12 0h17m17 0h6m21 0h6m51 0h8m2 0h7m25 0h26m27 0h18m4 0h27m30 0h33M181 221.5h21m20 0h45m45 0h40m18 0h9m12 0h6m4 0h5m10 0h21m23 0h5m50 0h11m30 0h12m21 0h9m4 0h14m3 0h39m24 0h39M185 222.5h30m9 0h12m22 0h14m48 0h10m15 0h12m13 0h7m13 0h7m6 0h5m10 0h7m6 0h8m23 0h5m95 0h6m21 0h43m9 0h21m13 0h46M190 223.5h46m27 0h11m34 0h2m15 0h6m22 0h15m1 0h13m8 0h8m2 0h13m8 0h5m36 0h4m99 0h6m37 0h26m11 0h18m12 0h22m7 0h14M195 224.5h5m18 0h20m33 0h2m34 0h9m10 0h5m28 0h17m5 0h17m2 0h31m32 0h3m101 0h7m44 0h24m15 0h6m13 0h7m10 0h3m15 0h10M199 225.5h7m17 0h17m66 0h13m9 0h4m34 0h14m29 0h13m8 0h5m29 0h3m102 0h9m46 0h19m17 0h4m14 0h6m31 0h6M203 226.5h5m21 0h10m62 0h11m18 0h4m39 0h10m32 0h7m11 0h4m28 0h4m102 0h7m52 0h14m17 0h4m18 0h4m30 0h4M203 227.5h4m23 0h7m65 0h8m21 0h7m17 0h8m14 0h11m30 0h8m9 0h4m22 0h8m102 0h8m33 0h17m5 0h10m19 0h3m22 0h4m25 0h4M204 228.5h5m19 0h12m64 0h8m16 0h46m7 0h6m14 0h35m25 0h4m107 0h8m32 0h29m24 0h4m8 0h5m10 0h5m12 0h7m4 0h1M206 229.5h5m15 0h5m6 0h8m62 0h14m9 0h22m3 0h12m6 0h10m24 0h12m32 0h15m109 0h7m19 0h41m26 0h1m2 0h11m4 0h11m13 0h11M181 230.5h5m19 0h8m9 0h4m15 0h5m55 0h3m7 0h17m12 0h27m14 0h6m64 0h4m119 0h13m13 0h26m3 0h17m22 0h1m47 0h5M181 231.5h32m8 0h4m18 0h3m50 0h23m7 0h4m12 0h6m7 0h15m13 0h7m60 0h4m121 0h17m3 0h54m18 0h2m40 0h7M181 232.5h11m13 0h10m4 0h5m19 0h4m45 0h8m4 0h13m13 0h4m11 0h4m7 0h19m8 0h8m58 0h3m118 0h23m1 0h27m12 0h40m35 0h13M182 233.5h7m16 0h18m19 0h5m26 0h6m16 0h4m33 0h6m8 0h19m6 0h19m59 0h3m79 0h4m35 0h36m4 0h6m23 0h23m10 0h5m33 0h11M206 234.5h18m20 0h4m22 0h14m14 0h5m27 0h20m3 0h38m53 0h8m75 0h12m33 0h12m2 0h19m6 0h5m24 0h11m25 0h4m37 0h4M209 235.5h9m1 0h34m16 0h8m5 0h7m14 0h4m25 0h10m23 0h30m47 0h5m80 0h15m28 0h3m10 0h10m1 0h10m6 0h4m22 0h14m27 0h5M210 236.5h5m7 0h15m9 0h31m10 0h6m13 0h5m23 0h7m29 0h15m7 0h8m45 0h4m80 0h13m31 0h5m11 0h18m2 0h4m20 0h8m34 0h8M210 237.5h4m10 0h14m13 0h15m23 0h6m13 0h5m23 0h8m32 0h9m10 0h7m45 0h5m79 0h12m9 0h9m19 0h32m22 0h5m34 0h7M209 238.5h5m12 0h7m2 0h7m12 0h9m27 0h7m14 0h5m19 0h8m49 0h11m47 0h11m81 0h2m8 0h8m1 0h6m15 0h29m24 0h4m22 0h20M206 239.5h6m16 0h4m9 0h7m8 0h6m27 0h10m14 0h5m14 0h9m51 0h12m55 0h4m88 0h9m6 0h5m16 0h14m9 0h5m21 0h5m17 0h28m6 0h2M205 240.5h6m20 0h6m11 0h17m7 0h30m13 0h6m8 0h8m56 0h10m59 0h3m88 0h9m5 0h7m17 0h11m13 0h29m14 0h6m20 0h20M204 241.5h6m25 0h16m1 0h39m10 0h2m11 0h9m1 0h24m11 0h14m19 0h10m61 0h3m91 0h17m14 0h10m23 0h6m30 0h8m29 0h21M204 242.5h5m40 0h26m5 0h11m19 0h57m7 0h8m13 0h8m61 0h4m93 0h10m18 0h16m31 0h4m17 0h16m13 0h35M205 243.5h5m60 0h7m6 0h11m18 0h32m9 0h19m9 0h11m3 0h10m60 0h5m92 0h9m21 0h22m19 0h18m2 0h1m7 0h3m8 0h38M191 244.5h4m13 0h7m58 0h5m9 0h14m15 0h27m21 0h14m13 0h14m58 0h7m88 0h16m22 0h7m10 0h5m15 0h8m15 0h7m15 0h10M192 245.5h7m14 0h8m53 0h9m12 0h17m6 0h24m27 0h12m80 0h7m87 0h7m9 0h10m18 0h23m14 0h8m16 0h8m1 0h19M181 246.5h1m15 0h5m14 0h18m42 0h11m15 0h51m20 0h11m73 0h7m92 0h5m17 0h19m10 0h40m17 0h27m21 0h8M181 247.5h10m27 0h21m44 0h9m14 0h57m17 0h4m66 0h9m64 0h6m29 0h7m27 0h10m17 0h12m10 0h6m27 0h23m15 0h9M181 248.5h30m8 0h13m2 0h6m46 0h8m17 0h15m17 0h7m5 0h12m10 0h5m62 0h8m107 0h16m22 0h6m15 0h11m51 0h29m2 0h10M181 249.5h20m9 0h10m5 0h3m7 0h5m45 0h7m25 0h8m21 0h6m7 0h13m7 0h10m53 0h6m51 0h5m54 0h26m15 0h6m16 0h5m56 0h39M193 250.5h4m20 0h7m11 0h6m44 0h5m52 0h11m18 0h22m48 0h6m110 0h8m9 0h34m15 0h8m48 0h42M194 251.5h11m17 0h7m7 0h5m44 0h4m49 0h13m27 0h17m45 0h7m53 0h8m46 0h16m9 0h5m12 0h19m8 0h15m40 0h11m5 0h15m3 0h9M196 252.5h19m9 0h9m1 0h7m22 0h3m20 0h3m40 0h9m1 0h12m30 0h10m49 0h8m50 0h17m20 0h40m6 0h4m20 0h16m5 0h15m37 0h5m5 0h26m5 0h2M197 253.5h13m2 0h28m21 0h9m17 0h3m40 0h4m15 0h6m25 0h10m52 0h7m48 0h6m9 0h8m16 0h6m10 0h26m1 0h7m23 0h15m10 0h9m35 0h4m9 0h30M197 254.5h36m2 0h7m10 0h5m5 0h6m16 0h9m38 0h3m46 0h14m50 0h5m48 0h5m12 0h10m16 0h6m19 0h21m23 0h18m14 0h5m30 0h5m13 0h27M195 255.5h50m4 0h15m21 0h15m32 0h3m47 0h18m46 0h4m41 0h12m12 0h14m16 0h20m6 0h12m27 0h22m11 0h4m30 0h4m9 0h31M196 256.5h63m2 0h5m26 0h17m24 0h3m40 0h30m42 0h4m39 0h9m16 0h21m12 0h9m5 0h19m31 0h31m34 0h3m12 0h11m8 0h9M197 257.5h13m11 0h48m41 0h6m14 0h6m46 0h30m38 0h4m41 0h8m14 0h30m2 0h9m8 0h13m37 0h25m31 0h8m40 0h1M181 258.5h3m11 0h14m18 0h6m4 0h14m1 0h18m45 0h5m8 0h6m32 0h7m13 0h30m36 0h4m40 0h11m16 0h36m9 0h8m26 0h1m15 0h5m2 0h16m31 0h5M181 259.5h3m2 0h22m26 0h8m3 0h22m53 0h16m31 0h25m11 0h12m37 0h5m21 0h7m11 0h9m28 0h43m26 0h25m1 0h14m31 0h8M181 260.5h7m6 0h8m39 0h13m117 0h21m20 0h4m37 0h4m25 0h22m36 0h17m5 0h13m29 0h8m12 0h10m3 0h2m34 0h9m31 0h8M181 261.5h20m45 0h5m123 0h23m58 0h3m31 0h12m45 0h6m49 0h16m9 0h13m34 0h6m22 0h20M188 262.5h7m49 0h7m124 0h8m1 0h19m55 0h4m31 0h10m46 0h5m46 0h43m33 0h6m19 0h6M187 263.5h8m44 0h16m122 0h6m4 0h27m47 0h3m32 0h11m45 0h5m18 0h12m20 0h19m8 0h12m32 0h8m15 0h7M182 264.5h13m38 0h14m3 0h9m119 0h36m47 0h5m27 0h19m40 0h8m16 0h14m25 0h11m23 0h8m20 0h13m13 0h10M181 265.5h8m18 0h5m20 0h27m118 0h24m53 0h12m27 0h15m46 0h12m11 0h15m28 0h9m22 0h44m8 0h18M209 266.5h8m20 0h16m46 0h6m36 0h14m23 0h24m49 0h7m37 0h22m40 0h36m28 0h12m18 0h12m7 0h16m4 0h23m3 0h5M216 267.5h4m21 0h13m19 0h15m18 0h3m32 0h16m21 0h12m60 0h8m41 0h26m34 0h7m13 0h16m23 0h19m12 0h7m18 0h35M223 268.5h11m12 0h5m23 0h6m9 0h9m10 0h6m25 0h19m21 0h12m61 0h15m38 0h13m1 0h10m33 0h4m16 0h19m16 0h36m24 0h34M225 269.5h19m29 0h5m21 0h9m4 0h10m18 0h20m22 0h7m66 0h15m38 0h23m65 0h8m14 0h5m10 0h17m28 0h11m11 0h10M230 270.5h16m28 0h6m26 0h23m11 0h18m27 0h5m69 0h9m43 0h22m67 0h6m11 0h10m10 0h6m40 0h9m10 0h6M238 271.5h9m29 0h5m43 0h9m8 0h7m7 0h4m26 0h8m72 0h7m41 0h23m67 0h4m11 0h26m43 0h8m5 0h9M205 272.5h12m60 0h5m36 0h14m9 0h6m10 0h5m28 0h9m71 0h5m37 0h24m69 0h37m49 0h12m15 0h3M181 273.5h1m23 0h8m7 0h14m32 0h17m36 0h6m18 0h5m11 0h5m32 0h17m57 0h9m34 0h24m45 0h8m15 0h23m62 0h10M181 274.5h11m13 0h6m23 0h6m26 0h7m4 0h7m36 0h4m21 0h4m13 0h6m43 0h5m51 0h14m35 0h22m47 0h24m16 0h6m12 0h3m45 0h10M181 275.5h28m29 0h6m25 0h5m42 0h6m24 0h4m19 0h5m42 0h4m47 0h6m48 0h19m50 0h10m29 0h5m13 0h7m40 0h13M181 276.5h27m29 0h8m21 0h13m37 0h3m28 0h4m21 0h7m41 0h4m43 0h5m53 0h13m55 0h13m25 0h4m62 0h22M181 277.5h35m18 0h7m23 0h12m41 0h3m27 0h5m17 0h10m40 0h6m41 0h5m47 0h16m24 0h24m12 0h6m7 0h7m4 0h3m7 0h9m64 0h20M189 278.5h50m16 0h20m43 0h5m24 0h32m42 0h3m43 0h4m41 0h16m24 0h50m11 0h25m69 0h11M194 279.5h6m10 0h13m7 0h3m22 0h5m15 0h4m42 0h12m10 0h56m24 0h2m42 0h5m41 0h8m32 0h7m1 0h30m27 0h12m81 0h5M197 280.5h4m55 0h4m18 0h8m40 0h39m7 0h13m4 0h13m23 0h2m36 0h8m13 0h2m28 0h6m34 0h20m5 0h9m126 0h2M194 281.5h7m56 0h6m15 0h11m42 0h12m3 0h37m17 0h4m24 0h2m33 0h5m17 0h6m23 0h6m36 0h19m4 0h7m29 0h12m86 0h6M181 282.5h6m2 0h9m60 0h15m4 0h14m39 0h15m10 0h21m2 0h7m19 0h5m14 0h12m29 0h6m39 0h11m44 0h22m34 0h16m73 0h12M181 283.5h13m52 0h45m30 0h28m12 0h29m22 0h18m34 0h6m32 0h10m21 0h24m11 0h18m33 0h7m7 0h3m75 0h10M226 284.5h14m6 0h40m37 0h15m4 0h12m16 0h27m23 0h11m25 0h12m35 0h6m20 0h17m9 0h7m8 0h6m32 0h22m87 0h4M227 285.5h5m6 0h30m5 0h12m42 0h7m15 0h8m16 0h10m1 0h18m22 0h9m21 0h8m37 0h9m21 0h18m12 0h18m36 0h5m7 0h7M228 286.5h6m8 0h8m4 0h22m2 0h6m48 0h6m11 0h11m13 0h5m13 0h15m22 0h8m24 0h6m28 0h13m23 0h5m27 0h12m42 0h5m8 0h5M215 287.5h36m6 0h30m52 0h21m13 0h6m20 0h11m49 0h13m23 0h7m27 0h7m82 0h5m11 0h6M218 288.5h72m57 0h10m18 0h5m8 0h21m51 0h17m21 0h4m28 0h4m84 0h6m15 0h13m30 0h4M222 289.5h17m17 0h18m7 0h11m85 0h6m2 0h8m8 0h9m54 0h13m23 0h5m24 0h4m83 0h13m20 0h7m19 0h14M208 290.5h16m8 0h6m27 0h7m14 0h7m85 0h15m24 0h14m36 0h13m19 0h9m17 0h7m76 0h31m16 0h4m18 0h6m2 0h5M209 291.5h21m60 0h10m78 0h5m1 0h10m24 0h15m36 0h15m13 0h7m19 0h12m24 0h8m43 0h8m4 0h26m9 0h6m17 0h11M206 292.5h11m9 0h9m62 0h8m73 0h4m6 0h10m25 0h12m38 0h26m12 0h14m10 0h4m17 0h15m43 0h8m4 0h39m15 0h8M208 293.5h14m11 0h5m64 0h6m2 0h1m12 0h1m54 0h4m9 0h10m13 0h8m54 0h14m22 0h6m1 0h5m14 0h3m18 0h10m33 0h7m10 0h23m1 0h5m33 0h9M216 294.5h11m8 0h4m59 0h29m52 0h4m12 0h11m9 0h7m54 0h13m21 0h5m7 0h4m14 0h4m57 0h42m5 0h5m29 0h3m3 0h6m12 0h5M222 295.5h10m3 0h5m50 0h10m12 0h5m8 0h5m53 0h1m1 0h8m5 0h12m50 0h2m18 0h9m19 0h5m9 0h7m10 0h8m52 0h13m4 0h36m2 0h9m4 0h21m22 0h6M222 296.5h18m46 0h13m16 0h8m1 0h9m62 0h22m41 0h9m3 0h19m19 0h4m11 0h9m9 0h19m28 0h21m8 0h36m2 0h20m12 0h5m21 0h8M219 297.5h11m4 0h6m47 0h9m21 0h13m10 0h14m8 0h9m32 0h19m33 0h11m13 0h6m6 0h23m12 0h12m14 0h11m4 0h5m7 0h36m4 0h60m11 0h7m19 0h5M219 298.5h7m10 0h4m42 0h9m14 0h23m12 0h6m8 0h9m39 0h6m4 0h3m33 0h5m28 0h7m3 0h6m38 0h5m16 0h4m6 0h24m7 0h41m6 0h15m6 0h49M220 299.5h8m8 0h4m41 0h8m18 0h19m19 0h5m6 0h7m68 0h9m5 0h5m18 0h3m12 0h12m31 0h1m8 0h5m17 0h4m7 0h6m30 0h18m9 0h29m13 0h45M181 300.5h5m7 0h19m18 0h10m42 0h9m19 0h11m26 0h18m64 0h5m8 0h3m42 0h7m31 0h10m23 0h5m9 0h5m34 0h7m7 0h26m4 0h12m11 0h13m2 0h28M183 301.5h17m7 0h9m64 0h38m21 0h28m60 0h6m59 0h5m30 0h6m21 0h16m8 0h6m30 0h7m5 0h9m4 0h5m18 0h28m8 0h23M190 302.5h6m16 0h6m61 0h12m7 0h11m2 0h11m15 0h33m50 0h4m74 0h6m23 0h7m20 0h7m3 0h10m9 0h17m10 0h23m9 0h5m37 0h9m10 0h18M211 303.5h9m44 0h26m15 0h25m3 0h40m47 0h2m79 0h8m13 0h15m17 0h7m11 0h7m7 0h16m12 0h18m11 0h5m47 0h5m7 0h14M181 304.5h9m20 0h11m47 0h22m22 0h46m4 0h17m40 0h3m81 0h11m10 0h6m13 0h1m10 0h7m18 0h14m24 0h6m1 0h9m13 0h37m1 0h6m22 0h9M182 305.5h14m18 0h7m48 0h6m21 0h12m8 0h9m6 0h50m38 0h3m80 0h4m20 0h5m17 0h11m20 0h8m33 0h23m1 0h13m14 0h12m1 0h16m8 0h13M181 306.5h16m24 0h6m43 0h5m23 0h33m6 0h46m37 0h3m78 0h6m16 0h7m20 0h6m24 0h8m35 0h31m20 0h6m11 0h30M192 307.5h6m29 0h6m26 0h16m18 0h24m12 0h38m2 0h16m35 0h3m78 0h7m15 0h5m25 0h5m24 0h12m37 0h22m22 0h5m17 0h24M181 308.5h3m11 0h7m27 0h7m29 0h13m7 0h33m14 0h31m8 0h12m3 0h4m19 0h15m34 0h8m58 0h6m22 0h6m38 0h7m21 0h5m8 0h13m25 0h5m21 0h8m2 0h10M181 309.5h7m11 0h40m20 0h2m11 0h18m12 0h14m20 0h22m15 0h11m5 0h7m13 0h7m44 0h10m54 0h33m16 0h8m22 0h9m10 0h17m35 0h6M181 310.5h9m17 0h37m24 0h1m8 0h9m21 0h7m17 0h25m22 0h25m9 0h5m15 0h15m15 0h5m56 0h9m16 0h10m16 0h9m24 0h35m34 0h5M181 311.5h8m24 0h16m10 0h12m81 0h10m43 0h7m9 0h5m10 0h11m2 0h10m6 0h4m16 0h3m98 0h17m34 0h29m34 0h4M183 312.5h7m26 0h39m53 0h1m26 0h9m45 0h4m38 0h1m15 0h4m116 0h16m41 0h26m34 0h6M188 313.5h4m28 0h39m26 0h8m1 0h14m1 0h7m11 0h15m49 0h7m51 0h6m7 0h9m100 0h6m2 0h7m15 0h2m24 0h20m42 0h14M181 314.5h15m26 0h34m10 0h3m16 0h17m13 0h5m6 0h17m30 0h7m14 0h9m51 0h13m3 0h6m79 0h7m11 0h19m3 0h20m6 0h20m61 0h8M189 315.5h13m9 0h45m11 0h7m15 0h6m24 0h4m5 0h6m8 0h5m16 0h24m15 0h6m69 0h3m79 0h22m9 0h14m10 0h25m69 0h6M196 316.5h8m13 0h6m13 0h23m7 0h11m16 0h3m25 0h6m5 0h8m4 0h5m14 0h18m25 0h6m16 0h1m52 0h4m77 0h19m23 0h28m79 0h10M195 317.5h11m15 0h4m26 0h32m12 0h4m23 0h7m14 0h8m13 0h20m19 0h28m49 0h7m28 0h7m38 0h28m15 0h37m72 0h9M181 318.5h32m12 0h9m22 0h12m4 0h15m10 0h4m24 0h6m33 0h29m7 0h32m41 0h13m17 0h24m37 0h12m2 0h14m5 0h48m36 0h5m27 0h8M193 319.5h30m9 0h8m22 0h9m8 0h9m13 0h4m22 0h5m26 0h52m6 0h16m39 0h6m23 0h13m9 0h8m38 0h10m6 0h22m6 0h36m24 0h17m12 0h20M195 320.5h7m5 0h9m7 0h5m9 0h6m24 0h8m29 0h6m15 0h5m33 0h8m26 0h3m22 0h11m37 0h6m21 0h11m15 0h8m41 0h10m13 0h9m12 0h40m18 0h21m8 0h18M195 321.5h6m11 0h6m9 0h4m9 0h6m26 0h6m29 0h19m37 0h10m95 0h6m24 0h5m22 0h6m45 0h10m12 0h5m15 0h46m18 0h39M193 322.5h7m18 0h30m25 0h7m30 0h16m37 0h13m95 0h4m26 0h7m18 0h6m48 0h12m2 0h10m14 0h48m24 0h11m2 0h11M190 323.5h7m34 0h17m25 0h9m31 0h10m1 0h5m36 0h9m98 0h8m26 0h8m10 0h12m31 0h2m18 0h14m16 0h5m7 0h75m7 0h6M190 324.5h6m40 0h8m32 0h10m28 0h15m39 0h8m25 0h1m69 0h18m24 0h18m12 0h11m13 0h9m20 0h5m14 0h6m11 0h25m4 0h25m13 0h10m2 0h9M190 325.5h6m43 0h6m33 0h10m24 0h16m40 0h12m5 0h7m77 0h27m30 0h2m42 0h11m19 0h20m13 0h26m12 0h14m22 0h14M188 326.5h5m49 0h5m34 0h10m20 0h17m41 0h13m2 0h13m75 0h13m4 0h8m68 0h22m13 0h10m20 0h43m5 0h10m22 0h11M189 327.5h6m51 0h4m25 0h19m18 0h16m21 0h14m7 0h30m72 0h9m12 0h6m65 0h45m18 0h28m10 0h31m15 0h10M181 328.5h18m50 0h3m21 0h3m15 0h3m19 0h15m25 0h29m2 0h19m71 0h5m17 0h6m20 0h26m16 0h28m4 0h14m20 0h12m9 0h1m19 0h29m6 0h15M186 329.5h19m45 0h3m19 0h3m40 0h13m31 0h24m3 0h16m96 0h6m20 0h18m7 0h5m12 0h24m12 0h14m19 0h8m16 0h11m19 0h9M196 330.5h14m41 0h3m17 0h3m48 0h4m38 0h38m62 0h10m24 0h14m14 0h19m10 0h4m12 0h18m17 0h18m16 0h6m18 0h10m12 0h12M181 331.5h32m41 0h3m13 0h3m96 0h8m5 0h20m59 0h17m22 0h6m1 0h11m12 0h20m9 0h4m18 0h8m24 0h16m14 0h7m18 0h8m11 0h5M181 332.5h14m12 0h10m42 0h10m104 0h6m10 0h12m56 0h20m24 0h5m12 0h2m15 0h34m13 0h8m27 0h18m10 0h8m3 0h5m27 0h4M191 333.5h5m20 0h4m154 0h7m17 0h3m57 0h18m26 0h6m30 0h35m6 0h9m31 0h46m24 0h5M195 334.5h3m173 0h11m81 0h15m28 0h6m24 0h21m18 0h11m36 0h19m16 0h10m23 0h5M196 335.5h2m172 0h8m7 0h12m73 0h7m33 0h6m18 0h18m14 0h2m1 0h14m40 0h2m13 0h5m23 0h3m22 0h4m23 0h3M181 336.5h6m5 0h5m71 0h15m90 0h5m11 0h19m103 0h7m20 0h16m10 0h4m8 0h1m45 0h7m13 0h16m31 0h8m23 0h1M268 337.5h7m6 0h9m86 0h6m13 0h18m45 0h1m47 0h18m22 0h13m4 0h6m74 0h8m11 0h6m10 0h17m21 0h5M261 338.5h13m10 0h10m21 0h29m32 0h14m12 0h12m44 0h1m44 0h26m25 0h14m28 0h9m34 0h14m20 0h26m13 0h9M257 339.5h6m1 0h12m4 0h11m23 0h8m3 0h22m31 0h19m58 0h5m47 0h19m31 0h7m26 0h31m16 0h23m25 0h5m9 0h22M262 340.5h10m41 0h10m7 0h22m28 0h21m54 0h10m36 0h1m9 0h14m36 0h8m19 0h4m9 0h67m19 0h3m19 0h12M315 341.5h7m15 0h22m22 0h23m56 0h21m26 0h17m42 0h7m16 0h5m12 0h17m7 0h43m15 0h5m22 0h6M316 342.5h4m40 0h4m19 0h16m66 0h11m8 0h2m23 0h18m29 0h6m8 0h7m13 0h9m7 0h21m8 0h32m5 0h7m9 0h7m22 0h4M317 343.5h4m44 0h3m21 0h11m67 0h6m1 0h5m13 0h3m14 0h7m7 0h7m27 0h24m15 0h35m7 0h36m5 0h19m22 0h1M181 344.5h8m132 0h6m6 0h13m21 0h6m20 0h7m68 0h12m17 0h6m1 0h10m10 0h10m24 0h9m4 0h15m26 0h17m15 0h33m10 0h19m12 0h3M182 345.5h10m105 0h8m23 0h24m12 0h15m19 0h4m66 0h14m20 0h7m49 0h7m17 0h10m26 0h11m19 0h17m27 0h29M181 346.5h13m106 0h19m25 0h46m10 0h4m66 0h17m20 0h7m48 0h5m19 0h10m27 0h8m19 0h14m32 0h25M181 347.5h11m2 0h12m99 0h8m34 0h16m7 0h19m6 0h9m69 0h8m7 0h4m21 0h9m43 0h7m8 0h8m37 0h8m16 0h15m28 0h2m4 0h23M181 348.5h21m4 0h7m136 0h4m7 0h8m2 0h18m89 0h5m11 0h6m20 0h7m14 0h6m23 0h20m36 0h6m12 0h17m33 0h28M181 349.5h8m8 0h5m9 0h6m134 0h5m13 0h19m90 0h9m4 0h30m20 0h14m21 0h17m16 0h21m13 0h5m9 0h19m25 0h20M181 350.5h10m16 0h12m107 0h6m21 0h5m21 0h14m84 0h17m10 0h6m37 0h15m28 0h8m13 0h6m5 0h2m21 0h3m17 0h15m31 0h10M189 351.5h7m11 0h7m109 0h15m12 0h8m27 0h14m83 0h9m15 0h5m41 0h15m30 0h28m21 0h3m23 0h4m16 0h3M195 352.5h6m5 0h4m111 0h33m36 0h10m107 0h4m47 0h11m38 0h21m16 0h8m23 0h3M200 353.5h9m113 0h12m8 0h9m45 0h3m108 0h5m99 0h21m8 0h12m24 0h4M203 354.5h2m123 0h8m12 0h5m155 0h5m39 0h13m47 0h5m8 0h24m25 0h6M351 355.5h4m142 0h16m44 0h13m39 0h8m14 0h37m1 0h12M339 356.5h17m143 0h9m54 0h9m37 0h6m31 0h45M204 357.5h3m18 0h12m89 0h17m158 0h6m61 0h3m40 0h4m33 0h11m15 0h24M207 358.5h8m8 0h7m5 0h5m75 0h27m157 0h9m67 0h3m34 0h9m10 0h7m12 0h42M219 359.5h7m12 0h3m75 0h16m7 0h4m155 0h10m74 0h4m21 0h76m4 0h5M220 360.5h4m17 0h3m79 0h11m7 0h5m150 0h13m33 0h19m50 0h30m15 0h11m3 0h13m7 0h5M181 361.5h4m37 0h3m20 0h2m97 0h4m20 0h4m95 0h5m3 0h5m16 0h12m32 0h29m48 0h29m16 0h5m19 0h11M181 362.5h11m30 0h5m18 0h6m96 0h6m20 0h19m74 0h4m10 0h4m12 0h8m19 0h8m3 0h12m7 0h24m48 0h24m14 0h12m11 0h12m2 0h3M181 363.5h6m2 0h7m25 0h6m14 0h19m90 0h15m13 0h15m1 0h7m64 0h5m14 0h5m5 0h13m15 0h11m1 0h12m21 0h10m55 0h20m5 0h26m1 0h8m9 0h20M192 364.5h6m16 0h11m14 0h6m13 0h29m64 0h5m12 0h38m59 0h4m19 0h10m7 0h12m21 0h10m21 0h5m65 0h5m15 0h31m15 0h7M194 365.5h4m12 0h16m15 0h7m15 0h10m6 0h10m65 0h5m19 0h33m55 0h5m37 0h17m10 0h18m17 0h5m91 0h10m9 0h7m13 0h5M193 366.5h6m14 0h5m3 0h20m5 0h11m6 0h8m12 0h7m68 0h4m25 0h28m52 0h5m39 0h3m8 0h8m5 0h6m28 0h5m98 0h5m12 0h6m9 0h5M194 367.5h7m18 0h8m14 0h8m5 0h18m12 0h6m100 0h25m51 0h6m4 0h8m28 0h5m5 0h10m2 0h6m30 0h5m63 0h1m39 0h4m9 0h7m3 0h10M181 368.5h2m9 0h11m45 0h7m5 0h14m10 0h7m23 0h11m72 0h14m54 0h5m12 0h7m25 0h18m3 0h6m32 0h4m60 0h3m26 0h7m9 0h33M181 369.5h18m6 0h6m38 0h8m11 0h24m21 0h20m67 0h8m54 0h6m50 0h8m8 0h8m35 0h5m51 0h8m28 0h51M181 370.5h17m43 0h12m22 0h17m21 0h43m45 0h6m49 0h7m72 0h5m40 0h5m51 0h5m31 0h40M181 371.5h27m35 0h8m20 0h3m4 0h10m8 0h46m12 0h9m40 0h5m50 0h4m73 0h5m39 0h7m88 0h34m3 0h7M183 372.5h5m4 0h19m36 0h9m11 0h21m8 0h20m10 0h21m13 0h22m18 0h10m52 0h3m70 0h8m29 0h18m24 0h7m55 0h7m1 0h7m5 0h10M207 373.5h5m40 0h8m9 0h11m17 0h7m26 0h17m17 0h23m13 0h7m58 0h4m63 0h20m18 0h7m9 0h17m2 0h35m38 0h5m1 0h7M211 374.5h4m41 0h7m5 0h13m17 0h7m64 0h21m12 0h6m59 0h4m62 0h45m10 0h5m22 0h6m5 0h7m6 0h3m32 0h18M213 375.5h5m18 0h14m2 0h13m4 0h12m17 0h9m64 0h19m17 0h8m52 0h4m69 0h14m25 0h15m23 0h4m5 0h16m33 0h7m2 0h5M209 376.5h9m29 0h16m11 0h10m12 0h15m64 0h9m31 0h5m46 0h4m85 0h7m17 0h11m25 0h5m13 0h3m42 0h5m1 0h6M207 377.5h8m38 0h9m18 0h28m1 0h8m24 0h3m35 0h9m5 0h3m19 0h7m46 0h3m40 0h9m22 0h7m15 0h24m8 0h21m63 0h8M208 378.5h7m41 0h6m24 0h9m17 0h13m7 0h13m37 0h37m50 0h3m41 0h9m19 0h13m21 0h13m9 0h7m76 0h5M181 379.5h2m27 0h6m43 0h4m12 0h4m5 0h5m26 0h21m5 0h6m37 0h8m7 0h9m1 0h8m51 0h5m26 0h13m30 0h5m6 0h4m24 0h9m6 0h6m80 0h2M181 380.5h10m21 0h8m42 0h32m25 0h16m10 0h6m30 0h13m7 0h5m60 0h7m32 0h10m27 0h6m7 0h6m17 0h23M181 381.5h16m17 0h10m44 0h27m29 0h6m19 0h13m22 0h12m6 0h6m61 0h8m60 0h11m1 0h5m6 0h24m5 0h10m66 0h4M181 382.5h19m17 0h10m45 0h24m31 0h4m21 0h14m24 0h19m67 0h6m57 0h8m11 0h6m31 0h7M181 383.5h19m20 0h5m50 0h21m30 0h6m26 0h8m30 0h13m45 0h10m15 0h6m58 0h8m39 0h16m47 0h1m22 0h4M181 384.5h17m25 0h4m48 0h20m32 0h5m29 0h5m81 0h10m7 0h5m9 0h6m57 0h14m34 0h16m46 0h4m28 0h2m32 0h4M181 385.5h22m11 0h3m10 0h5m41 0h22m34 0h5m21 0h11m82 0h24m5 0h6m59 0h22m21 0h11m25 0h6M200 386.5h25m6 0h8m34 0h21m34 0h8m19 0h6m90 0h11m13 0h9m59 0h16m2 0h12m10 0h8m30 0h8m24 0h1m33 0h1M207 387.5h26m2 0h9m30 0h16m35 0h6m25 0h6m114 0h10m60 0h8m8 0h29m8 0h8m12 0h12m13 0h6m4 0h4m22 0h18M215 388.5h31m33 0h11m34 0h4m30 0h6m114 0h6m40 0h10m16 0h3m17 0h16m12 0h30m18 0h6m8 0h4m13 0h29M181 389.5h1m42 0h3m7 0h9m39 0h11m33 0h4m30 0h8m102 0h15m33 0h1m8 0h12m11 0h8m13 0h15m15 0h25m22 0h44M181 390.5h12m12 0h8m23 0h8m44 0h9m32 0h4m31 0h14m92 0h19m39 0h16m6 0h27m3 0h7m22 0h17m19 0h43M182 391.5h11m1 0h7m4 0h14m20 0h8m27 0h5m16 0h6m31 0h4m34 0h18m85 0h22m37 0h30m19 0h7m24 0h15m21 0h17m6 0h13M204 392.5h29m12 0h8m18 0h14m14 0h6m28 0h5m37 0h17m81 0h3m1 0h24m36 0h6m7 0h12m20 0h6m27 0h8m1 0h7m22 0h14m10 0h8M210 393.5h31m10 0h8m8 0h8m8 0h5m16 0h7m22 0h6m40 0h13m79 0h14m1 0h2m1 0h5m7 0h7m34 0h7m5 0h10m19 0h5m29 0h20m23 0h8m15 0h6M224 394.5h9m6 0h23m7 0h7m4 0h8m19 0h12m12 0h8m42 0h15m74 0h5m12 0h9m13 0h14m25 0h18m20 0h5m24 0h14m11 0h6M252 395.5h13m8 0h13m24 0h28m44 0h17m65 0h6m25 0h4m16 0h18m1 0h2m25 0h11m16 0h8m18 0h8m2 0h6m15 0h4m57 0h2M258 396.5h10m10 0h2m34 0h14m29 0h12m5 0h19m2 0h6m64 0h3m30 0h4m19 0h11m5 0h9m18 0h36m13 0h5m10 0h5m74 0h12M261 397.5h10m51 0h3m34 0h22m8 0h10m68 0h2m31 0h4m14 0h13m9 0h28m3 0h34m7 0h6m13 0h6m73 0h11M265 398.5h13m86 0h16m15 0h6m66 0h4m28 0h6m12 0h6m20 0h76m11 0h14m69 0h8M186 399.5h10m72 0h7m4 0h4m81 0h17m84 0h5m27 0h6m17 0h4m25 0h74m2 0h13m1 0h12m38 0h5M181 400.5h1m2 0h7m10 0h7m64 0h15m64 0h21m93 0h3m26 0h8m3 0h22m32 0h13m13 0h16m14 0h27m3 0h5m14 0h40M181 401.5h12m13 0h6m66 0h2m72 0h7m108 0h2m27 0h5m4 0h5m55 0h6m19 0h13m17 0h5m10 0h14m17 0h17m9 0h17M187 402.5h8m11 0h6m15 0h7m39 0h7m75 0h4m35 0h6m68 0h2m28 0h4m3 0h4m58 0h5m21 0h9m22 0h3m15 0h11m15 0h13m19 0h12M189 403.5h12m4 0h5m21 0h5m36 0h10m75 0h6m34 0h5m65 0h4m29 0h11m29 0h33m55 0h4m15 0h42m10 0h6m11 0h5M181 404.5h1m11 0h9m3 0h8m57 0h14m76 0h7m100 0h4m31 0h11m27 0h7m7 0h21m32 0h6m21 0h5m13 0h10m11 0h33M181 405.5h9m10 0h18m54 0h4m4 0h4m69 0h18m55 0h6m34 0h5m67 0h7m6 0h9m1 0h6m2 0h9m31 0h6m21 0h26m15 0h16m2 0h4M181 406.5h13m12 0h18m50 0h4m1 0h7m68 0h30m42 0h18m23 0h5m67 0h7m7 0h27m51 0h11m30 0h10M181 407.5h3m5 0h9m10 0h13m1 0h8m45 0h7m58 0h7m8 0h11m65 0h12m1 0h4m19 0h4m7 0h5m59 0h6m5 0h8m6 0h14m27 0h2m20 0h16m26 0h5M181 408.5h7m7 0h7m11 0h5m16 0h3m18 0h8m77 0h31m72 0h9m15 0h5m9 0h7m58 0h17m8 0h10m22 0h17m4 0h25m8 0h8m6 0h8M181 409.5h36m22 0h5m6 0h19m53 0h3m4 0h46m89 0h11m50 0h14m9 0h33m23 0h3m5 0h7m6 0h25m10 0h24M186 410.5h35m22 0h13m8 0h4m49 0h31m9 0h21m77 0h24m44 0h9m9 0h40m21 0h4m10 0h6m6 0h6m7 0h9m17 0h22M192 411.5h28m25 0h9m14 0h3m47 0h4m10 0h17m14 0h17m68 0h8m13 0h11m45 0h6m22 0h29m16 0h4m17 0h17m8 0h10m19 0h17M192 412.5h24m31 0h8m18 0h5m42 0h6m20 0h4m14 0h12m19 0h9m14 0h1m28 0h7m23 0h3m43 0h14m21 0h26m14 0h3m22 0h13m11 0h18m15 0h9M191 413.5h28m62 0h4m37 0h10m15 0h6m11 0h7m21 0h14m16 0h10m2 0h21m67 0h24m17 0h5m6 0h14m11 0h4m49 0h21m15 0h4m19 0h8M193 414.5h8m3 0h19m62 0h3m40 0h8m7 0h10m11 0h9m21 0h14m22 0h1m9 0h16m66 0h16m10 0h6m14 0h1m19 0h5m1 0h10m14 0h2m49 0h7m15 0h4m14 0h12M192 415.5h8m10 0h17m60 0h3m38 0h9m4 0h7m12 0h18m19 0h14m33 0h7m39 0h21m9 0h19m15 0h5m33 0h12m21 0h3m45 0h4m15 0h5m12 0h12M181 416.5h17m19 0h11m60 0h3m37 0h8m5 0h9m12 0h22m13 0h2m36 0h16m45 0h13m13 0h9m4 0h5m18 0h8m5 0h8m15 0h7m26 0h4m45 0h4m13 0h5m13 0h10M181 417.5h12m95 0h4m36 0h9m3 0h36m7 0h20m37 0h11m52 0h8m14 0h7m2 0h8m23 0h38m73 0h10m10 0h13M181 418.5h16m17 0h3m72 0h3m9 0h10m19 0h50m8 0h11m42 0h7m18 0h7m19 0h9m26 0h5m5 0h9m134 0h12m12 0h10M181 419.5h17m15 0h8m70 0h25m16 0h51m1 0h14m43 0h6m22 0h10m14 0h5m6 0h3m13 0h12m9 0h11m134 0h10m13 0h8M189 420.5h9m16 0h14m65 0h25m12 0h43m11 0h11m47 0h6m24 0h10m14 0h3m9 0h4m8 0h6m13 0h18m95 0h11m26 0h8m11 0h13M196 421.5h5m15 0h18m49 0h7m4 0h21m16 0h12m25 0h8m9 0h6m54 0h11m23 0h6m14 0h6m6 0h4m8 0h4m13 0h7m2 0h17m86 0h22m17 0h26M200 422.5h5m17 0h16m45 0h3m13 0h6m7 0h6m18 0h9m27 0h6m10 0h8m56 0h9m6 0h31m7 0h13m7 0h5m11 0h5m10 0h16m68 0h26m7 0h10m11 0h23M203 423.5h6m19 0h13m42 0h3m15 0h5m13 0h4m16 0h9m27 0h5m12 0h13m49 0h7m12 0h30m17 0h10m13 0h4m11 0h16m25 0h17m19 0h34m11 0h41M208 424.5h5m19 0h13m37 0h4m17 0h4m16 0h26m28 0h4m15 0h15m40 0h13m17 0h13m29 0h5m17 0h28m19 0h28m17 0h6m10 0h15m12 0h41M214 425.5h4m20 0h8m13 0h9m14 0h5m15 0h4m72 0h4m15 0h17m43 0h11m18 0h6m38 0h3m1 0h35m28 0h23m15 0h14m5 0h17m10 0h40M219 426.5h4m37 0h15m8 0h8m6 0h6m77 0h35m49 0h9m15 0h3m59 0h17m35 0h20m17 0h24m6 0h5m11 0h5m12 0h19M224 427.5h4m30 0h26m4 0h9m85 0h36m48 0h26m63 0h11m41 0h21m12 0h6m26 0h5m11 0h3m16 0h11M227 428.5h6m27 0h18m1 0h8m106 0h28m46 0h6m4 0h7m6 0h4m65 0h9m46 0h35m23 0h7m11 0h3m19 0h5M226 429.5h10m23 0h11m14 0h5m106 0h21m52 0h19m3 0h4m67 0h12m29 0h11m7 0h34m19 0h5m9 0h6M227 430.5h12m24 0h5m19 0h5m40 0h8m49 0h27m52 0h18m4 0h5m68 0h27m4 0h14m3 0h9m7 0h35m13 0h8m1 0h7M226 431.5h6m5 0h5m24 0h5m15 0h10m26 0h26m35 0h23m64 0h26m77 0h10m3 0h12m18 0h8m17 0h23m19 0h4M234 432.5h12m23 0h4m15 0h12m20 0h27m36 0h9m12 0h8m60 0h22m84 0h7m3 0h10m21 0h7m17 0h6m7 0h7M239 433.5h9m23 0h4m16 0h12m15 0h5m18 0h6m41 0h9m13 0h6m51 0h2m20 0h7m86 0h17m22 0h7m16 0h5m9 0h4M209 434.5h18m12 0h13m18 0h6m20 0h10m9 0h8m5 0h7m7 0h7m42 0h27m71 0h8m81 0h22m18 0h12m16 0h5m7 0h4M211 435.5h5m5 0h62m11 0h13m2 0h14m1 0h29m37 0h26m42 0h13m19 0h7m34 0h13m11 0h29m3 0h14m17 0h10m20 0h15M211 436.5h4m12 0h16m1 0h19m1 0h37m10 0h41m35 0h19m47 0h22m17 0h7m33 0h29m20 0h3m7 0h8m26 0h5m23 0h2M210 437.5h5m17 0h25m24 0h17m13 0h31m43 0h13m1 0h6m45 0h5m6 0h16m18 0h9m29 0h22m29 0h14m32 0h3M204 438.5h9m24 0h15m37 0h11m9 0h5m11 0h20m43 0h5m8 0h6m43 0h4m12 0h6m23 0h13m24 0h20m33 0h7m3 0h13m25 0h4M207 439.5h7m20 0h12m51 0h16m18 0h18m41 0h4m7 0h7m43 0h5m14 0h11m13 0h15m22 0h13m36 0h8m12 0h14m22 0h7M209 440.5h6m22 0h11m54 0h12m21 0h18m39 0h4m6 0h6m46 0h10m10 0h34m24 0h7m34 0h10m21 0h8m26 0h11M210 441.5h5m26 0h10m51 0h17m18 0h9m45 0h6m6 0h6m24 0h16m10 0h13m7 0h2m25 0h7m17 0h8m20 0h13m4 0h6m25 0h6m25 0h16M207 442.5h6m12 0h14m4 0h10m52 0h18m15 0h7m43 0h9m3 0h10m24 0h6m8 0h6m10 0h25m21 0h23m26 0h3m8 0h12m25 0h5m29 0h13M208 443.5h6m8 0h31m55 0h41m40 0h9m2 0h8m31 0h4m6 0h8m4 0h34m17 0h19m28 0h3m13 0h9m25 0h5m29 0h13M212 444.5h6m2 0h21m69 0h16m9 0h21m35 0h17m15 0h6m16 0h39m3 0h18m9 0h20m22 0h4m52 0h5m31 0h13M194 445.5h10m14 0h24m73 0h9m17 0h10m3 0h7m33 0h14m16 0h12m16 0h15m9 0h63m17 0h2m56 0h5m14 0h13m14 0h8M197 446.5h16m12 0h8m3 0h9m76 0h8m16 0h7m8 0h6m30 0h15m15 0h16m12 0h15m22 0h38m9 0h5m14 0h3m55 0h5m10 0h25m15 0h4M201 447.5h18m9 0h17m58 0h29m17 0h6m8 0h7m27 0h29m3 0h15m8 0h21m22 0h8m18 0h7m12 0h6m12 0h4m53 0h5m8 0h31m14 0h6M204 448.5h9m6 0h28m59 0h9m9 0h8m20 0h8m3 0h8m26 0h10m5 0h19m22 0h32m11 0h5m19 0h10m11 0h7m9 0h14m45 0h6m4 0h40m4 0h10M210 449.5h7m6 0h8m8 0h13m59 0h6m38 0h17m29 0h31m21 0h49m15 0h13m15 0h13m4 0h15m43 0h57M203 450.5h30m7 0h24m50 0h7m37 0h10m1 0h7m31 0h19m23 0h24m6 0h11m26 0h6m30 0h7m8 0h9m57 0h29m6 0h6m11 0h19M204 451.5h6m9 0h29m11 0h7m31 0h26m14 0h5m19 0h19m25 0h26m18 0h5m6 0h5m49 0h7m34 0h6m7 0h8m60 0h25m25 0h21M192 452.5h7m4 0h9m14 0h41m28 0h20m48 0h13m31 0h27m17 0h4m6 0h5m44 0h13m28 0h30m50 0h28M194 453.5h7m1 0h7m22 0h37m27 0h7m8 0h8m20 0h1m12 0h9m5 0h9m38 0h2m39 0h4m4 0h7m13 0h21m9 0h6m34 0h25m2 0h9m43 0h6m19 0h6M197 454.5h5m34 0h7m9 0h36m7 0h6m12 0h13m7 0h9m9 0h16m87 0h4m3 0h9m12 0h7m21 0h10m37 0h24m50 0h4m22 0h6M199 455.5h5m37 0h5m6 0h13m17 0h9m4 0h6m15 0h9m4 0h30m5 0h7m56 0h2m23 0h6m1 0h13m14 0h6m74 0h9m4 0h5m48 0h4m20 0h6M196 456.5h9m40 0h5m1 0h8m26 0h6m6 0h8m15 0h6m21 0h14m8 0h4m81 0h4m3 0h19m9 0h6m76 0h5m4 0h6m48 0h4m17 0h3M195 457.5h9m41 0h7m4 0h8m23 0h4m7 0h14m14 0h4m28 0h17m83 0h13m3 0h25m39 0h10m26 0h14m49 0h12m5 0h4m41 0h4M197 458.5h4m36 0h17m10 0h7m16 0h6m3 0h21m12 0h5m29 0h11m101 0h7m9 0h12m38 0h12m29 0h8m54 0h13m43 0h6M199 459.5h5m33 0h21m12 0h19m9 0h21m12 0h5m27 0h6m99 0h13m15 0h12m140 0h8M201 460.5h6m28 0h33m2 0h13m21 0h13m10 0h9m27 0h5m102 0h6m22 0h5m3 0h6m51 0h11m75 0h9M204 461.5h7m28 0h19m3 0h17m1 0h8m21 0h14m3 0h9m25 0h9m98 0h10m25 0h13m55 0h13m65 0h13M207 462.5h7m32 0h24m14 0h7m20 0h22m18 0h17m99 0h10m24 0h14m38 0h3m16 0h15m58 0h8m1 0h7m21 0h14M205 463.5h11m37 0h15m21 0h4m4 0h10m8 0h16m17 0h8m57 0h2m59 0h4m23 0h13m19 0h4m18 0h15m2 0h14m58 0h8m3 0h7m13 0h8m1 0h17m14 0h6M208 464.5h9m37 0h9m1 0h5m23 0h21m11 0h8m11 0h13m101 0h6m13 0h4m25 0h12m10 0h16m16 0h26m51 0h15m4 0h9m11 0h4m24 0h5m5 0h7M189 465.5h11m15 0h8m29 0h9m4 0h5m21 0h15m5 0h3m28 0h18m96 0h12m8 0h5m29 0h21m4 0h10m22 0h17m49 0h16m7 0h22m33 0h8M192 466.5h20m11 0h7m11 0h19m6 0h6m17 0h19m7 0h9m22 0h21m16 0h7m67 0h14m5 0h6m33 0h9m12 0h6m30 0h12m48 0h21m3 0h9m6 0h6M181 467.5h3m17 0h16m12 0h12m8 0h11m9 0h61m18 0h43m73 0h9m1 0h8m37 0h7m12 0h3m30 0h11m53 0h32m6 0h9M184 468.5h7m26 0h31m5 0h10m5 0h39m6 0h22m15 0h12m22 0h7m84 0h7m29 0h19m9 0h4m28 0h12m57 0h8m7 0h41M186 469.5h10m26 0h78m25 0h12m22 0h2m26 0h4m17 0h9m61 0h8m24 0h8m4 0h6m9 0h7m26 0h7m3 0h7m57 0h5m13 0h44m12 0h3M181 470.5h16m26 0h75m30 0h6m8 0h3m43 0h3m18 0h11m59 0h10m23 0h5m20 0h5m18 0h18m2 0h9m58 0h4m14 0h11M181 471.5h21m20 0h11m3 0h62m32 0h4m54 0h3m21 0h3m63 0h9m26 0h4m22 0h4m21 0h10m7 0h6m62 0h6m11 0h9"/><path stroke="#ffff00" d="M274 202.5h12m102 0h8m15 0h4m49 0h6m12 0h27m48 0h2m2 0h3M274 203.5h11m98 0h12m6 0h16m52 0h5m14 0h23M270 204.5h16m101 0h6m10 0h6m7 0h6m37 0h22M269 205.5h18m107 0h5m4 0h10m2 0h10m29 0h31m136 0h5M270 206.5h12m116 0h19m37 0h5m101 0h4m60 0h6M272 207.5h10m122 0h13m25 0h20m96 0h12m20 0h6m33 0h7M203 208.5h8m61 0h6m1 0h4m124 0h8m27 0h4m12 0h11m91 0h20m12 0h13m6 0h12m8 0h11M244 209.5h11m20 0h9m110 0h9m7 0h6m27 0h4m17 0h10m89 0h15m1 0h10m11 0h6m3 0h35M239 210.5h22m135 0h10m9 0h5m23 0h7m19 0h8m88 0h12m10 0h9m16 0h7m10 0h10M237 211.5h9m6 0h7m91 0h3m13 0h4m20 0h6m22 0h6m23 0h5m22 0h6m86 0h7m15 0h14m8 0h8m16 0h6M237 212.5h5m12 0h5m96 0h13m1 0h8m13 0h10m21 0h8m22 0h3m26 0h9m74 0h8m15 0h28m23 0h6M237 213.5h4m14 0h3m35 0h1m60 0h22m18 0h8m22 0h11m17 0h4m28 0h10m59 0h16m19 0h25m25 0h7M236 214.5h6m14 0h3m34 0h1m60 0h6m9 0h4m53 0h13m9 0h6m105 0h13m17 0h12m1 0h5m2 0h7m16 0h13M235 215.5h7m15 0h3m62 0h3m30 0h4m12 0h3m61 0h14m119 0h9m15 0h10m9 0h9m6 0h10m60 0h7M236 216.5h5m17 0h4m31 0h3m25 0h8m7 0h9m12 0h4m12 0h3m63 0h7m125 0h18m5 0h7m11 0h19m67 0h12M235 217.5h6m12 0h9m61 0h5m10 0h12m8 0h4m11 0h3m56 0h9m46 0h6m21 0h6m53 0h31m6 0h20m73 0h18M235 218.5h6m11 0h5m84 0h23m6 0h4m58 0h13m129 0h31m7 0h18m71 0h3m1 0h12m2 0h2M235 219.5h8m9 0h5m88 0h20m5 0h3m53 0h22m68 0h3m57 0h27m13 0h9m85 0h11M240 220.5h18m91 0h24m58 0h21m65 0h2m58 0h27m18 0h4m90 0h5M352 221.5h18m27 0h4m36 0h7m6 0h10m108 0h21m9 0h4M181 222.5h4m145 0h15m12 0h13m27 0h6m22 0h6m8 0h7m13 0h3m106 0h21m43 0h9M186 223.5h4m141 0h22m15 0h1m29 0h2m26 0h21m12 0h3m109 0h13m2 0h22m26 0h11m52 0h7m14 0h3M191 224.5h4m136 0h7m1 0h11m3 0h6m17 0h5m17 0h2m31 0h10m19 0h3m111 0h9m14 0h21m24 0h15m26 0h10m3 0h15M181 225.5h1m14 0h3m133 0h4m6 0h24m14 0h29m26 0h5m21 0h3m114 0h6m18 0h22m19 0h10m1 0h6m24 0h31M181 226.5h3m15 0h4m131 0h4m7 0h28m10 0h32m22 0h4m20 0h4m113 0h8m19 0h25m14 0h5m8 0h4m26 0h30M181 227.5h7m10 0h5m135 0h17m8 0h14m11 0h30m21 0h4m13 0h5m118 0h10m15 0h8m17 0h5m10 0h5m9 0h5m29 0h25M181 228.5h23m170 0h7m6 0h14m35 0h25m119 0h32m29 0h9m9 0h6m32 0h12m7 0h4M181 229.5h25m25 0h6m115 0h3m28 0h10m7 0h7m12 0h15m12 0h5m131 0h19m41 0h7m9 0h10m1 0h2m11 0h4m11 0h13M186 230.5h19m21 0h5m5 0h5m146 0h5m16 0h19m20 0h4m136 0h13m46 0h5m7 0h10m1 0h47M225 231.5h4m10 0h4m76 0h7m22 0h7m35 0h5m18 0h11m22 0h4m142 0h3m54 0h18m2 0h10m22 0h8m7 0h5M192 232.5h13m19 0h5m9 0h5m57 0h4m13 0h13m19 0h7m35 0h8m47 0h3m144 0h1m27 0h12m40 0h6m24 0h5M181 233.5h1m7 0h16m18 0h7m7 0h5m57 0h33m58 0h16m28 0h4m7 0h4m167 0h7m1 0h15m38 0h5m24 0h4M181 234.5h25m18 0h20m59 0h27m61 0h23m20 0h10m140 0h2m30 0h5m9 0h10m40 0h5m26 0h6M181 235.5h12m12 0h4m68 0h5m25 0h4m14 0h7m63 0h22m21 0h4m151 0h1m20 0h5m10 0h7m46 0h4m30 0h5M181 236.5h14m11 0h4m67 0h10m24 0h4m13 0h6m66 0h20m20 0h5m168 0h4m12 0h4m50 0h6m27 0h5M181 237.5h19m6 0h4m56 0h23m24 0h5m11 0h7m66 0h21m20 0h4m165 0h6m12 0h4m46 0h14m21 0h6M181 238.5h28m24 0h2m28 0h27m26 0h5m6 0h8m68 0h7m36 0h4m110 0h1m50 0h8m11 0h5m46 0h21m11 0h8M181 239.5h25m26 0h9m21 0h27m29 0h14m72 0h10m37 0h8m101 0h6m49 0h21m50 0h6m2 0h27M181 240.5h24m32 0h11m17 0h7m49 0h8m74 0h13m43 0h3m100 0h5m97 0h20m20 0h17M181 241.5h23m47 0h1m71 0h1m78 0h15m43 0h3m202 0h29m21 0h6M181 242.5h23m71 0h5m87 0h7m29 0h11m46 0h4m209 0h13M181 243.5h24m72 0h6m61 0h9m19 0h9m24 0h6m7 0h31m3 0h5m2 0h6M182 244.5h9m4 0h13m70 0h9m56 0h21m14 0h13m14 0h6m11 0h41m140 0h10m28 0h15M181 245.5h11m7 0h14m70 0h12m47 0h27m12 0h30m18 0h32m101 0h9m73 0h5m6 0h5M182 246.5h15m5 0h14m71 0h15m51 0h20m11 0h23m27 0h23m104 0h17m69 0h17M191 247.5h27m74 0h14m57 0h17m4 0h22m29 0h15m115 0h27m39 0h10m6 0h27M211 248.5h8m13 0h2m60 0h17m15 0h17m24 0h10m5 0h24m31 0h7m131 0h22m32 0h51M220 249.5h5m3 0h7m57 0h8m5 0h12m8 0h21m26 0h7m10 0h17m31 0h5m142 0h15m27 0h24m14 0h18M224 250.5h11m55 0h6m16 0h30m51 0h10m30 0h8m124 0h9m57 0h14m27 0h7M229 251.5h7m53 0h6m22 0h21m57 0h6m31 0h8m130 0h9m59 0h7m29 0h4M233 252.5h1m55 0h4m31 0h5m62 0h10m31 0h8m135 0h6m60 0h6m27 0h4M210 253.5h2m78 0h3m34 0h3m60 0h12m30 0h10m61 0h9m30 0h10m26 0h1m64 0h6m25 0h4M233 254.5h2m58 0h10m4 0h3m19 0h2m63 0h8m34 0h8m58 0h12m32 0h19m81 0h4m23 0h3M300 255.5h18m12 0h2m68 0h7m34 0h5m57 0h12m50 0h6m76 0h4m23 0h3M259 256.5h2m48 0h13m7 0h4m73 0h9m30 0h3m52 0h16m42 0h5m81 0h6m20 0h8M316 257.5h14m82 0h17m18 0h3m53 0h14m41 0h8m75 0h6m19 0h6M233 258.5h4m14 0h1m68 0h8m88 0h15m16 0h5m55 0h16m36 0h9m55 0h2m16 0h5m20 0h6M184 259.5h2m56 0h3m147 0h11m12 0h13m19 0h5m53 0h28m94 0h1m14 0h6m17 0h8M188 260.5h6m198 0h20m4 0h7m26 0h4m51 0h18m12 0h6m72 0h12m10 0h3m2 0h13m4 0h17M397 261.5h22m33 0h3m46 0h12m28 0h5m71 0h9m13 0h34M181 262.5h7m195 0h1m19 0h15m37 0h3m45 0h5m37 0h4m94 0h33m31 0h14M181 263.5h6m196 0h4m27 0h8m35 0h4m46 0h6m14 0h1m6 0h18m74 0h8m12 0h32m30 0h13M181 264.5h1m65 0h3m164 0h11m25 0h11m51 0h9m7 0h24m74 0h23m8 0h20m36 0h8M401 265.5h24m22 0h7m54 0h46m75 0h5m8 0h9M402 266.5h17m25 0h7m66 0h29m3 0h8m76 0h6m4 0h8M390 267.5h27m29 0h4m75 0h16m11 0h7m7 0h13m58 0h12M280 268.5h9m102 0h25m32 0h4m77 0h12m14 0h7m4 0h16M278 269.5h21m90 0h28m32 0h6m76 0h8m19 0h38m27 0h10m56 0h11M280 270.5h8m9 0h9m84 0h7m6 0h17m27 0h12m74 0h6m16 0h45m27 0h10m55 0h10M281 271.5h7m15 0h21m24 0h7m38 0h5m10 0h15m26 0h16m71 0h5m15 0h30m12 0h5m92 0h5M282 272.5h4m23 0h9m29 0h10m42 0h23m30 0h18m66 0h8m14 0h33m7 0h7M213 273.5h7m63 0h3m27 0h6m29 0h11m54 0h5m38 0h14m67 0h6m17 0h22m8 0h15M211 274.5h23m39 0h4m7 0h4m24 0h8m29 0h13m54 0h4m39 0h8m71 0h4m16 0h27m24 0h16M209 275.5h29m36 0h16m22 0h4m34 0h19m51 0h4m37 0h6m73 0h4m15 0h31m10 0h17m8 0h4M208 276.5h8m9 0h12m42 0h9m25 0h3m35 0h21m52 0h3m33 0h7m71 0h9m9 0h37m13 0h17m2 0h6M216 277.5h18m42 0h12m25 0h4m35 0h17m56 0h6m30 0h5m68 0h24m24 0h12m20 0h4m3 0h7M181 278.5h8m86 0h14m24 0h5m106 0h11m27 0h5m61 0h8m9 0h7M189 279.5h5m66 0h15m4 0h15m21 0h6m104 0h3m31 0h8m54 0h15m12 0h5M192 280.5h5m63 0h18m8 0h17m15 0h8m59 0h4m38 0h2m27 0h7m57 0h12m14 0h8m20 0h5M181 281.5h13m69 0h15m11 0h15m9 0h18m12 0h3m37 0h17m30 0h4m23 0h6m57 0h36m19 0h4M187 282.5h2m84 0h4m14 0h39m15 0h10m21 0h2m7 0h19m31 0h4m19 0h6m56 0h44M291 283.5h30m28 0h12m29 0h11m3 0h8m18 0h15m8 0h11m48 0h21m24 0h11M286 284.5h37m31 0h16m27 0h8m10 0h5m11 0h11m2 0h12m53 0h7m6 0h7m33 0h8M232 285.5h6m47 0h8m12 0h22m30 0h16m29 0h6m12 0h4m9 0h7m6 0h8m54 0h6m10 0h5m89 0h7M234 286.5h8m42 0h14m13 0h21m28 0h13m33 0h7m9 0h6m8 0h24m47 0h6m11 0h6m91 0h8M287 287.5h6m1 0h9m13 0h23m21 0h13m37 0h9m3 0h37m43 0h10m13 0h4m94 0h11M290 288.5h18m13 0h26m10 0h8m4 0h6m34 0h51m42 0h7m18 0h3m94 0h15M292 289.5h19m16 0h15m3 0h16m11 0h5m16 0h8m9 0h54m41 0h4m15 0h5m100 0h20M293 290.5h21m44 0h1m15 0h4m15 0h24m14 0h17m11 0h8m41 0h7m5 0h5m114 0h16m28 0h2M300 291.5h29m45 0h4m16 0h24m15 0h16m14 0h6m35 0h19m95 0h4m26 0h9M217 292.5h9m79 0h27m41 0h5m20 0h25m12 0h15m16 0h7m26 0h12m14 0h10m87 0h4M222 293.5h11m75 0h2m1 0h12m1 0h8m40 0h6m23 0h13m8 0h29m17 0h8m14 0h12m2 0h8m12 0h6m5 0h3M227 294.5h8m92 0h6m37 0h9m27 0h9m7 0h10m11 0h12m16 0h5m13 0h4m12 0h5m16 0h4m6 0h4M232 295.5h3m65 0h12m18 0h5m24 0h24m1 0h1m25 0h21m20 0h9m2 0h18m9 0h5m11 0h3m21 0h4m1 0h5m73 0h4M299 296.5h9m1 0h6m18 0h62m22 0h15m21 0h5m31 0h12m3 0h4m24 0h9m68 0h8m58 0h12M230 297.5h4m62 0h21m13 0h10m14 0h8m9 0h32m19 0h17m6 0h10m30 0h6m47 0h14m63 0h4m60 0h11M226 298.5h10m55 0h14m23 0h12m23 0h15m17 0h7m6 0h4m3 0h33m40 0h3m49 0h4m8 0h4m34 0h7m41 0h6m15 0h6M228 299.5h8m53 0h18m19 0h19m18 0h15m22 0h17m5 0h9m9 0h5m95 0h5m8 0h4m17 0h30m56 0h13M291 300.5h19m11 0h26m18 0h9m34 0h8m9 0h4m106 0h11m4 0h8m19 0h34m56 0h11M181 301.5h2m17 0h7m111 0h21m28 0h7m42 0h11m106 0h7m9 0h5m30 0h30m21 0h4M181 302.5h9m6 0h16m79 0h7m24 0h15m33 0h6m41 0h3m114 0h7m8 0h5m46 0h10m23 0h9M181 303.5h30m79 0h15m25 0h3m40 0h8m36 0h3m117 0h17m48 0h12m18 0h11M190 304.5h20m80 0h22m46 0h4m17 0h8m29 0h3m111 0h13m1 0h10m39 0h24m16 0h13M181 305.5h1m14 0h5m4 0h9m61 0h21m12 0h8m65 0h11m24 0h3m112 0h17m39 0h33m23 0h1m13 0h14M197 306.5h6m7 0h11m54 0h23m85 0h11m23 0h3m110 0h10m2 0h8m38 0h11m15 0h9m31 0h9m7 0h4M198 307.5h5m4 0h20m48 0h18m92 0h7m23 0h5m108 0h5m14 0h6m41 0h8m14 0h15m22 0h12m5 0h5M202 308.5h27m49 0h7m105 0h4m9 0h6m121 0h22m51 0h21m5 0h8m13 0h25M396 309.5h5m2 0h6m203 0h10m17 0h24m6 0h5M403 310.5h9m230 0h13m18 0h3M392 311.5h9m5 0h10m23 0h6m201 0h8m22 0h4M181 312.5h2m210 0h38m1 0h15m203 0h5m25 0h4M181 313.5h7m120 0h1m89 0h10m3 0h38m128 0h2m68 0h8m27 0h7M302 314.5h13m88 0h6m10 0h35m13 0h3m171 0h9m35 0h17M295 315.5h8m10 0h6m15 0h8m66 0h35m2 0h32m104 0h9m14 0h10m25 0h8m53 0h8M223 316.5h13m60 0h4m16 0h5m19 0h4m68 0h16m1 0h21m13 0h18m100 0h23m28 0h11m63 0h5M225 317.5h26m48 0h4m13 0h6m109 0h4m10 0h7m15 0h13m108 0h15m37 0h6m29 0h16m15 0h6M234 318.5h22m45 0h5m9 0h10m107 0h6m28 0h7m103 0h2m14 0h5m48 0h5m9 0h22m5 0h27M181 319.5h12m47 0h22m43 0h22m83 0h6m16 0h6m27 0h6m42 0h9m56 0h6m64 0h24m17 0h12M181 320.5h1m5 0h8m21 0h7m20 0h24m43 0h15m46 0h26m3 0h22m11 0h5m26 0h6m38 0h15m59 0h13m61 0h18m21 0h8M181 321.5h3m5 0h6m23 0h9m19 0h26m101 0h5m9 0h51m27 0h3m35 0h22m61 0h12m66 0h18M181 322.5h12m55 0h25m103 0h6m7 0h26m9 0h4m5 0h9m25 0h4m37 0h18m66 0h2m72 0h24m24 0h7M181 323.5h9m58 0h12m7 0h6m50 0h1m50 0h41m22 0h11m18 0h6m42 0h10m98 0h7m88 0h4M181 324.5h9m54 0h16m12 0h4m100 0h25m1 0h8m28 0h16m8 0h9m150 0h11m25 0h4m59 0h1M181 325.5h9m55 0h10m19 0h4m102 0h5m7 0h18m28 0h20m2 0h9m151 0h13m26 0h12M181 326.5h7m59 0h5m22 0h7m101 0h2m13 0h5m38 0h32m13 0h4m121 0h20m43 0h5M181 327.5h8m61 0h3m17 0h5m125 0h3m45 0h24m9 0h12m116 0h18M252 328.5h3m14 0h4m109 0h2m19 0h3m47 0h21m5 0h17m96 0h4m14 0h20m70 0h6M253 329.5h3m13 0h3m111 0h3m16 0h5m23 0h7m18 0h32m4 0h7m44 0h7m41 0h12m14 0h19m63 0h23M254 330.5h3m11 0h3m131 0h5m27 0h10m11 0h9m10 0h9m10 0h5m47 0h10m34 0h17m18 0h16m58 0h23M257 331.5h5m3 0h5m107 0h5m20 0h6m40 0h13m17 0h5m12 0h5m50 0h9m30 0h8m10 0h6m16 0h14m49 0h29M379 332.5h10m12 0h12m37 0h7m20 0h8m11 0h5m89 0h7m15 0h5m18 0h10m47 0h5m6 0h11m5 0h2M181 333.5h10m190 0h17m3 0h20m32 0h5m18 0h4m17 0h5m86 0h10m18 0h3m75 0h4m9 0h9M192 334.5h3m187 0h35m38 0h8m15 0h3m19 0h6m80 0h7m26 0h3m73 0h4m9 0h13M193 335.5h3m182 0h7m12 0h19m38 0h16m7 0h5m20 0h8m73 0h16m19 0h5m2 0h13m57 0h23M187 336.5h5m186 0h11m19 0h9m31 0h35m18 0h10m57 0h8m1 0h28m11 0h6m7 0h13m55 0h23M275 337.5h6m101 0h13m18 0h8m30 0h7m1 0h22m17 0h8m63 0h5m8 0h61m8 0h11m33 0h21M274 338.5h10m106 0h12m12 0h10m28 0h6m1 0h22m16 0h6m65 0h5m14 0h9m9 0h34m14 0h20m26 0h13M263 339.5h1m12 0h4m42 0h3m72 0h30m18 0h10m5 0h16m14 0h17m57 0h9m10 0h7m31 0h16m23 0h12m7 0h6M323 340.5h7m71 0h18m29 0h7m10 0h21m3 0h12m1 0h9m58 0h7m8 0h4m80 0h8m8 0h3M322 341.5h15m67 0h11m36 0h9m21 0h26m66 0h16m84 0h15M320 342.5h40m39 0h15m42 0h9m11 0h8m2 0h23m68 0h13m89 0h9M321 343.5h30m9 0h5m35 0h9m52 0h6m12 0h13m3 0h14m72 0h15M327 344.5h6m13 0h7m2 0h12m33 0h10m52 0h6m12 0h17m6 0h1m63 0h4m15 0h26M181 345.5h1m170 0h12m38 0h7m53 0h6m14 0h20m63 0h17m10 0h15m3 0h8M404 346.5h5m54 0h7m17 0h8m2 0h10m60 0h19m10 0h27M389 347.5h6m9 0h5m54 0h10m19 0h8m5 0h8m59 0h8m8 0h37M202 348.5h4m147 0h7m28 0h20m49 0h20m22 0h20m70 0h36M189 349.5h8m5 0h9m145 0h13m19 0h12m54 0h24m115 0h16m39 0h9M191 350.5h16m151 0h8m4 0h9m14 0h7m51 0h26m17 0h10m94 0h13m37 0h4m4 0h9M196 351.5h11m151 0h7m13 0h7m14 0h4m60 0h19m9 0h15m143 0h3m15 0h5M201 352.5h5m148 0h6m22 0h8m10 0h4m69 0h34m145 0h3m17 0h3M351 353.5h8m23 0h14m3 0h4m78 0h26m145 0h8m11 0h5M353 354.5h7m24 0h20m81 0h23m109 0h8m24 0h25M355 355.5h4m29 0h15m80 0h14m120 0h14m37 0h1M356 356.5h4m35 0h5m83 0h16m115 0h8m5 0h18M343 357.5h19m123 0h16m114 0h8m1 0h24M230 358.5h5m107 0h7m10 0h6m120 0h14m122 0h10m7 0h12M226 359.5h6m2 0h4m105 0h6m15 0h19m1 0h11m89 0h14m185 0h4M224 360.5h3m11 0h3m105 0h3m13 0h21m6 0h15m65 0h15m5 0h7m171 0h3m13 0h7M225 361.5h3m14 0h3m103 0h4m11 0h5m4 0h20m12 0h10m50 0h3m13 0h7m3 0h6m171 0h19M227 362.5h3m10 0h5m108 0h7m1 0h12m19 0h9m7 0h7m48 0h3m18 0h12m50 0h7m122 0h11M187 363.5h2m38 0h6m1 0h7m124 0h13m23 0h7m53 0h4m24 0h5m52 0h21m116 0h1M181 364.5h11m33 0h14m167 0h7m48 0h4m83 0h21m143 0h9M181 365.5h13m32 0h15m32 0h6m132 0h6m44 0h5m87 0h10m1 0h6m106 0h9m25 0h11M181 366.5h12m25 0h3m20 0h5m25 0h12m132 0h6m41 0h5m47 0h8m19 0h22m1 0h5m108 0h12m20 0h4M181 367.5h13m55 0h5m18 0h12m131 0h8m40 0h3m51 0h5m18 0h7m19 0h4m112 0h9m20 0h5M183 368.5h9m63 0h5m14 0h10m127 0h10m40 0h4m76 0h7m21 0h4m142 0h6M257 369.5h11m140 0h8m37 0h9m80 0h5m25 0h5m143 0h1M253 370.5h22m132 0h5m40 0h4m84 0h4m31 0h5m132 0h9M251 371.5h20m3 0h4m64 0h12m54 0h5m42 0h3m82 0h5m24 0h10m139 0h3M181 372.5h2m5 0h4m64 0h11m49 0h10m21 0h13m50 0h5m43 0h4m81 0h7m16 0h6m111 0h1M184 373.5h23m53 0h9m35 0h26m17 0h17m43 0h9m45 0h4m87 0h18m33 0h2m78 0h1M191 374.5h8m6 0h6m52 0h5m37 0h64m39 0h8m46 0h5m126 0h6m11 0h5m18 0h6M197 375.5h5m3 0h8m52 0h4m38 0h48m4 0h12m44 0h5m43 0h4m127 0h5m14 0h4m65 0h2M181 376.5h5m11 0h12m54 0h11m37 0h43m15 0h6m45 0h4m39 0h3m124 0h25m68 0h1M181 377.5h26m55 0h18m28 0h1m8 0h24m3 0h13m16 0h6m43 0h4m38 0h4m120 0h8M181 378.5h27m54 0h24m9 0h17m13 0h7m13 0h18m13 0h6m37 0h7m38 0h5m119 0h9M183 379.5h27m53 0h12m4 0h5m5 0h11m10 0h5m32 0h37m24 0h1m8 0h6m39 0h6m79 0h6m37 0h6M191 380.5h21m82 0h6m14 0h5m32 0h30m25 0h11m44 0h5m82 0h7M197 381.5h17m81 0h7m17 0h5m38 0h22m24 0h6m50 0h5m79 0h1m5 0h6m24 0h5M200 382.5h17m79 0h6m17 0h8m39 0h24m19 0h5m37 0h9m9 0h7m71 0h11m6 0h31M200 383.5h20m76 0h8m16 0h6m40 0h11m12 0h7m13 0h6m29 0h10m10 0h15m72 0h22m10 0h7M198 384.5h25m72 0h10m19 0h3m39 0h11m17 0h21m27 0h5m22 0h9m77 0h18m11 0h5M203 385.5h11m3 0h10m68 0h12m17 0h5m37 0h8m22 0h21m26 0h5m24 0h5m87 0h14m1 0h6M181 386.5h19m25 0h6m63 0h11m6 0h17m33 0h13m71 0h6m11 0h13m84 0h2m12 0h10M181 387.5h26m26 0h2m55 0h13m9 0h13m37 0h6m6 0h5m69 0h28m174 0h4M181 388.5h3m4 0h1m17 0h9m75 0h13m13 0h8m40 0h7m6 0h21m56 0h24m174 0h8M182 389.5h42m3 0h7m59 0h10m19 0h4m42 0h33m49 0h20M193 390.5h12m8 0h23m61 0h9m19 0h4m49 0h27m22 0h17m5 0h21m107 0h3M201 391.5h4m14 0h20m62 0h10m15 0h6m56 0h22m16 0h20m6 0h21m89 0h19M233 392.5h12m60 0h12m10 0h6m59 0h21m14 0h21m12 0h13m3 0h1m66 0h7m12 0h20m41 0h1M241 393.5h10m24 0h8m28 0h10m3 0h9m59 0h10m7 0h43m12 0h7m14 0h1m2 0h1m5 0h7m48 0h5m10 0h10m5 0h4M276 394.5h4m39 0h12m65 0h5m16 0h21m22 0h10m26 0h13m57 0h11m2 0h7M399 395.5h5m16 0h16m24 0h4m35 0h16m57 0h16m34 0h2M393 396.5h2m6 0h6m18 0h9m28 0h3m37 0h19m97 0h10M381 397.5h8m10 0h8m57 0h3m37 0h14m100 0h5m1 0h7M380 398.5h15m6 0h5m57 0h4m38 0h12m102 0h11M275 399.5h4m102 0h26m55 0h3m38 0h17m103 0h2M191 400.5h10m171 0h32m59 0h2m37 0h3m67 0h13m16 0h14M193 401.5h13m153 0h42m63 0h3m34 0h4m66 0h7m1 0h11m13 0h17m63 0h9M181 402.5h6m8 0h11m153 0h18m10 0h7m6 0h6m58 0h4m34 0h3m67 0h6m4 0h11m9 0h22m57 0h19M181 403.5h8m12 0h4m158 0h13m15 0h6m5 0h10m29 0h4m18 0h4m106 0h14m8 0h33m61 0h10M182 404.5h11m9 0h3m162 0h13m16 0h37m6 0h13m11 0h4m80 0h7m21 0h12m14 0h6m6 0h21m28 0h11M190 405.5h10m76 0h4m91 0h14m19 0h7m4 0h11m6 0h16m14 0h4m79 0h6m9 0h1m6 0h2m9 0h7m20 0h4m6 0h21m26 0h15M194 406.5h12m72 0h1m105 0h6m26 0h10m18 0h5m14 0h4m79 0h7m27 0h6m19 0h26m11 0h30M198 407.5h10m13 0h1m144 0h26m10 0h3m12 0h14m17 0h4m11 0h4m81 0h5m28 0h5m13 0h9m2 0h20m16 0h26M202 408.5h11m5 0h16m137 0h11m21 0h14m2 0h24m9 0h5m3 0h7m114 0h6m12 0h4m17 0h4m25 0h8m8 0h6M217 409.5h8m11 0h3m136 0h5m27 0h36m1 0h20m117 0h8m11 0h4m15 0h6m25 0h10M221 410.5h4m15 0h3m13 0h8m114 0h4m11 0h13m6 0h43m77 0h9m40 0h9m5 0h7m20 0h6m22 0h17M220 411.5h7m15 0h3m9 0h14m54 0h10m48 0h68m83 0h22m29 0h7m5 0h4m56 0h19M216 412.5h11m15 0h5m8 0h5m7 0h6m53 0h20m30 0h19m9 0h14m1 0h28m90 0h6m4 0h11m26 0h6m5 0h3m67 0h15M219 413.5h5m22 0h15m15 0h5m51 0h15m24 0h21m14 0h16m10 0h2m112 0h17m5 0h6m14 0h5m1 0h5m74 0h15M201 414.5h3m19 0h4m27 0h6m22 0h3m51 0h7m30 0h8m6 0h7m14 0h22m1 0h9m114 0h14m1 0h19m5 0h1m82 0h7m1 0h7M200 415.5h10m17 0h5m53 0h2m50 0h4m37 0h19m14 0h33m115 0h33m85 0h5m5 0h5M198 416.5h19m11 0h8m50 0h2m48 0h5m43 0h13m2 0h19m11 0h6m96 0h4m31 0h5m8 0h15m86 0h13M193 417.5h46m46 0h3m49 0h3m63 0h14m17 0h6m92 0h2m152 0h10M197 418.5h17m3 0h9m3 0h10m47 0h3m110 0h14m24 0h4m91 0h5m155 0h12M198 419.5h15m8 0h10m57 0h3m107 0h14m26 0h3m57 0h6m28 0h9m155 0h13M198 420.5h16m14 0h8m45 0h12m102 0h18m25 0h4m57 0h9m18 0h13m158 0h11M201 421.5h15m18 0h6m39 0h4m60 0h25m23 0h25m22 0h7m60 0h6m16 0h13M205 422.5h17m16 0h5m36 0h4m22 0h7m33 0h27m24 0h21m21 0h14m78 0h11m125 0h7M209 423.5h19m13 0h6m15 0h21m23 0h13m29 0h8m15 0h4m30 0h11m24 0h14m76 0h13m126 0h11M213 424.5h19m13 0h37m25 0h16m26 0h9m15 0h4m34 0h7m27 0h6m77 0h5m1 0h11m98 0h10m15 0h12M218 425.5h20m8 0h13m9 0h14m24 0h54m13 0h5m36 0h6m29 0h8m76 0h1m115 0h5m17 0h10M223 426.5h37m15 0h8m20 0h4m14 0h36m16 0h7m35 0h4m36 0h9m210 0h11M228 427.5h30m26 0h4m9 0h6m25 0h17m3 0h8m18 0h8m36 0h4m38 0h6m211 0h6m1 0h4M233 428.5h12m4 0h11m27 0h12m35 0h4m1 0h4m1 0h11m22 0h16m28 0h4m37 0h5m17 0h6m189 0h11M236 429.5h7m10 0h6m30 0h4m30 0h33m24 0h15m21 0h12m35 0h5m19 0h3m188 0h9M239 430.5h5m13 0h6m29 0h5m23 0h12m8 0h17m20 0h12m27 0h11m36 0h5m18 0h4m118 0h3m72 0h1M242 431.5h5m15 0h4m30 0h4m17 0h5m26 0h9m20 0h6m23 0h17m41 0h6m113 0h3m12 0h18M246 432.5h6m12 0h5m31 0h5m11 0h4m27 0h9m23 0h4m29 0h7m32 0h21m113 0h3m10 0h5m9 0h7m30 0h7M248 433.5h23m32 0h15m29 0h9m22 0h10m28 0h6m31 0h14m2 0h20m110 0h6m9 0h7m28 0h9M252 434.5h18m36 0h9m34 0h8m21 0h13m27 0h6m29 0h36m111 0h7m2 0h9m33 0h7M216 435.5h5m86 0h2m44 0h6m17 0h14m26 0h7m25 0h10m13 0h19m94 0h3m14 0h7m3 0h7M215 436.5h12m16 0h1m57 0h10m41 0h9m13 0h13m19 0h16m24 0h7m22 0h17m69 0h20m3 0h7m8 0h9m11 0h6M215 437.5h6m5 0h6m66 0h13m31 0h13m24 0h6m20 0h19m21 0h5m27 0h18m60 0h29m14 0h17m11 0h4M213 438.5h5m4 0h15m63 0h9m36 0h6m33 0h4m19 0h11m1 0h7m19 0h5m22 0h23m57 0h9m6 0h8m4 0h6m23 0h11m9 0h5M214 439.5h20m115 0h6m32 0h3m18 0h16m5 0h4m12 0h6m30 0h13m50 0h36m34 0h8m6 0h8M215 440.5h22m116 0h5m29 0h5m16 0h46m85 0h34m39 0h9m4 0h13M215 441.5h26m105 0h13m23 0h9m18 0h24m16 0h10m79 0h4m12 0h4m13 0h4m37 0h5m13 0h7M213 442.5h12m14 0h4m102 0h11m24 0h8m22 0h24m20 0h10m69 0h7m16 0h3m53 0h5m17 0h7M214 443.5h8m127 0h8m22 0h10m19 0h31m18 0h4m70 0h7m17 0h4m55 0h5m18 0h6M218 444.5h2m106 0h9m21 0h4m15 0h16m17 0h15m6 0h16m89 0h5m14 0h3m61 0h4m7 0h20M324 445.5h17m20 0h5m21 0h7m14 0h16m12 0h16m87 0h3m11 0h3m63 0h4m1 0h9m13 0h14M233 446.5h3m93 0h16m21 0h6m18 0h6m15 0h15m16 0h12m89 0h3m7 0h4m63 0h10m25 0h15M332 447.5h17m21 0h5m17 0h5m29 0h3m15 0h8m51 0h18m25 0h12m62 0h8m31 0h8m2 0h4M213 448.5h6m96 0h9m8 0h20m19 0h7m14 0h5m10 0h5m19 0h22m48 0h19m28 0h9m65 0h4m40 0h4M217 449.5h6m94 0h38m17 0h9m13 0h7m31 0h21m49 0h15m41 0h4M321 450.5h37m18 0h31m19 0h23m24 0h6m11 0h26m43 0h8M210 451.5h9m29 0h11m64 0h14m5 0h9m3 0h7m19 0h25m26 0h7m7 0h4m16 0h29m12 0h8m47 0h7M212 452.5h5m3 0h6m89 0h48m13 0h31m27 0h5m8 0h4m15 0h32m8 0h4M201 453.5h1m7 0h8m8 0h6m71 0h8m8 0h20m1 0h12m9 0h5m9 0h19m8 0h11m2 0h26m9 0h4m15 0h13m21 0h9m125 0h19M202 454.5h12m17 0h5m65 0h12m13 0h7m9 0h9m16 0h17m22 0h26m15 0h7m16 0h12m153 0h22M204 455.5h5m28 0h4m24 0h17m19 0h15m55 0h14m27 0h15m2 0h5m13 0h5m20 0h14m89 0h4m57 0h20M205 456.5h4m16 0h9m3 0h8m14 0h13m8 0h5m20 0h15m53 0h10m38 0h16m12 0h5m26 0h9m87 0h4m58 0h17M204 457.5h7m15 0h19m19 0h4m13 0h6m25 0h14m49 0h8m69 0h6m13 0h3m175 0h5M201 458.5h12m12 0h12m34 0h5m3 0h8m30 0h12m45 0h11m64 0h26M204 459.5h33m82 0h12m38 0h15m68 0h16M207 460.5h28m82 0h10m41 0h17m72 0h13m33 0h3M211 461.5h28m19 0h3m17 0h1m43 0h3m43 0h20m19 0h8m44 0h7M214 462.5h32m24 0h14m84 0h23m15 0h12m42 0h7m186 0h1M216 463.5h37m15 0h8m6 0h7m67 0h40m10 0h7m2 0h6m32 0h21m178 0h3m28 0h1M217 464.5h37m15 0h4m11 0h8m64 0h5m12 0h52m27 0h5m6 0h13m175 0h4m24 0h24m17 0h1M223 465.5h29m18 0h4m11 0h6m69 0h5m12 0h50m24 0h5m12 0h8m55 0h4m114 0h7m22 0h6m5 0h22m8 0h2M230 466.5h11m31 0h17m78 0h16m7 0h27m35 0h5m14 0h5m48 0h12m117 0h3m21 0h10m8 0h26M241 467.5h8m142 0h26m38 0h9m9 0h1m52 0h7m1 0h4m144 0h39M181 468.5h3m64 0h5m54 0h6m78 0h26m40 0h18m55 0h3m1 0h5m109 0h7m41 0h25M181 469.5h5m114 0h25m66 0h5m5 0h7m9 0h4m37 0h20m40 0h4m6 0h9m40 0h3m69 0h13m44 0h12M298 470.5h30m63 0h3m9 0h6m11 0h5m33 0h21m38 0h20m41 0h2m71 0h14m11 0h45M233 471.5h3m62 0h32m61 0h4m12 0h5m3 0h10m32 0h3m1 0h17m39 0h11m7 0h4m35 0h7m74 0h11m9 0h46"/><path stroke="#ffa500" d="M396 202.5h15m4 0h10m29 0h10M395 203.5h6m16 0h8m9 0h2m17 0h16M393 204.5h10m19 0h6m22 0h9M399 205.5h4m22 0h29M417 206.5h11m1 0h25M417 207.5h5m13 0h7M278 208.5h1m136 0h7m15 0h5M416 209.5h7m12 0h8m135 0h1M420 210.5h7m4 0h12m134 0h10m32 0h10M246 211.5h6m172 0h23m126 0h15m30 0h16M242 212.5h6m1 0h5m114 0h1m60 0h13m3 0h6m120 0h7m1 0h7m28 0h7m8 0h8M241 213.5h4m6 0h4m180 0h6m4 0h7m117 0h6m8 0h5m25 0h6m9 0h10M242 214.5h4m6 0h4m104 0h9m70 0h9m124 0h5m6 0h6m27 0h7m1 0h8M242 215.5h5m6 0h4m102 0h8m2 0h2m206 0h15m28 0h6M241 216.5h7m1 0h9m103 0h5m4 0h3m216 0h5M241 217.5h7m1 0h4m109 0h6m1 0h4M241 218.5h11m112 0h6m347 0h2M243 219.5h9m113 0h5M444 221.5h6M446 222.5h13M181 223.5h5m261 0h12m125 0h2M181 224.5h3m3 0h4m147 0h1m11 0h3m88 0h19m123 0h14M182 225.5h4m7 0h3m140 0h6m98 0h21m123 0h6m6 0h6m51 0h1M184 226.5h6m3 0h6m139 0h7m96 0h20m125 0h5m9 0h5m44 0h8M188 227.5h10m245 0h13m133 0h15m45 0h9M650 228.5h9M393 229.5h7m34 0h12m203 0h9M231 230.5h5m156 0h16m19 0h20m204 0h7M229 231.5h3m4 0h3m156 0h18m11 0h22m233 0h22M229 232.5h9m161 0h47m233 0h14m6 0h4M230 233.5h7m169 0h28m4 0h7m178 0h1m58 0h9m11 0h4M414 234.5h6m10 0h4m187 0h9m55 0h6m12 0h8M193 235.5h12m106 0h14m92 0h5m11 0h5m181 0h4m1 0h5m57 0h5m13 0h12M195 236.5h11m109 0h13m92 0h5m10 0h5m177 0h5m2 0h5m60 0h6m10 0h11M200 237.5h6m112 0h11m94 0h5m4 0h11m175 0h4m3 0h5m64 0h21M321 238.5h6m83 0h18m5 0h13m173 0h11m72 0h11M414 239.5h5m24 0h8M416 240.5h7m26 0h10M417 241.5h14m16 0h13M414 242.5h46M411 243.5h7m31 0h3m5 0h2M181 244.5h1m229 0h11M411 245.5h18m220 0h6M407 246.5h12m7 0h8M406 247.5h5m19 0h5M406 248.5h5m21 0h5M300 249.5h5m101 0h5m20 0h6m213 0h14M296 250.5h16m91 0h9m15 0h6m212 0h27M295 251.5h7m8 0h7m84 0h11m13 0h7m213 0h9m16 0h4M293 252.5h9m13 0h9m77 0h5m16 0h10m215 0h7m16 0h4M293 253.5h14m17 0h3m75 0h5m16 0h9m217 0h7m14 0h4M303 254.5h4m3 0h6m10 0h3m73 0h8m18 0h8m214 0h8m13 0h2M318 255.5h5m2 0h5m77 0h17m11 0h6m210 0h12m8 0h3M322 256.5h7m86 0h18m6 0h6m205 0h20M429 257.5h18m200 0h6m8 0h5M431 258.5h16m199 0h6m4 0h10M428 259.5h19m201 0h17M423 260.5h15m7 0h4m73 0h12m118 0h4M419 261.5h18m12 0h3m61 0h28M418 262.5h6m11 0h1m16 0h3m53 0h37M422 263.5h4m27 0h4m56 0h14m1 0h6M425 264.5h25m71 0h7M425 265.5h22m187 0h8M419 266.5h25m102 0h3m90 0h4M417 267.5h29m95 0h11M416 268.5h12m1 0h19m93 0h14M417 269.5h8m9 0h15m90 0h19M288 270.5h9m100 0h6m17 0h7m14 0h6m92 0h7m3 0h6M288 271.5h15m95 0h10m15 0h8m15 0h3m92 0h4m7 0h4m30 0h12M286 272.5h9m4 0h10m113 0h15m11 0h4m92 0h3m6 0h5m33 0h7M286 273.5h5m11 0h11m105 0h24m8 0h6m87 0h5m1 0h11M288 274.5h4m15 0h5m108 0h7m2 0h30m83 0h5m3 0h8M290 275.5h4m16 0h2m112 0h3m8 0h26m83 0h4m3 0h8m58 0h8M216 276.5h9m63 0h8m15 0h2m114 0h5m12 0h16m87 0h9m67 0h2M288 277.5h12m9 0h4m118 0h5m13 0h12M289 278.5h15m5 0h4m122 0h5m9 0h13m74 0h9M181 279.5h8m105 0h21m113 0h31m77 0h12M181 280.5h11m111 0h15m111 0h5m12 0h10m76 0h14M304 281.5h9m121 0h4m10 0h9M439 282.5h4m2 0h13M401 283.5h3m41 0h8M405 284.5h10m27 0h2m72 0h6M293 285.5h12m103 0h12m20 0h6m68 0h10M298 286.5h13m102 0h9m91 0h11M293 287.5h1m9 0h13m103 0h3m90 0h4m5 0h4M308 288.5h13m44 0h4m140 0h8m4 0h6M311 289.5h16m15 0h3m16 0h11m137 0h8m2 0h5M314 290.5h44m1 0h15m74 0h11m56 0h5M329 291.5h45m75 0h14M332 292.5h9m13 0h19m77 0h8m1 0h7M332 293.5h10m18 0h12m79 0h6m6 0h5m34 0h2m26 0h5M333 294.5h14m15 0h8m62 0h11m12 0h16m22 0h12m25 0h6M335 295.5h24m72 0h12m1 0h7m43 0h11m28 0h1M308 296.5h1m123 0h21m48 0h3M439 297.5h6M378 298.5h17m149 0h4m1 0h3M378 299.5h11m6 0h5m17 0h5m123 0h8M374 300.5h16m13 0h5m8 0h9m121 0h4M374 301.5h18m19 0h5m124 0h9M376 302.5h15m23 0h3m124 0h8M381 303.5h6m27 0h3M387 304.5h4m22 0h3M201 305.5h4m187 0h4m18 0h2M203 306.5h7m184 0h8m12 0h3m123 0h2m57 0h15m49 0h7M203 307.5h4m185 0h23m118 0h14m55 0h14m49 0h5M394 308.5h9M401 309.5h2m260 0h6M655 310.5h12m2 0h4M654 311.5h8m10 0h4M655 312.5h4m16 0h5M408 313.5h3m244 0h5m16 0h6M409 314.5h10m231 0h12m16 0h7M303 315.5h10m130 0h2m202 0h5m20 0h28M300 316.5h6m4 0h6m134 0h13m180 0h9m18 0h25m5 0h6M303 317.5h5m1 0h7m119 0h10m7 0h15m179 0h29m16 0h15M306 318.5h9m123 0h28m184 0h9M438 319.5h6m12 0h9M182 320.5h5m251 0h5m17 0h4M184 321.5h5m189 0h9m51 0h6m18 0h3M382 322.5h7m26 0h9m4 0h5m9 0h7m13 0h5M260 323.5h7m148 0h22m11 0h18M260 324.5h12m138 0h28m16 0h8M255 325.5h7m4 0h8m136 0h28m20 0h2M252 326.5h8m6 0h8m128 0h22m5 0h11M253 327.5h5m8 0h4m133 0h5m7 0h12m6 0h15M255 328.5h3m8 0h3m137 0h3m9 0h35M256 329.5h3m7 0h3m138 0h4m11 0h8m7 0h18m32 0h4M257 330.5h4m4 0h3m139 0h4m18 0h5m10 0h11m28 0h10M262 331.5h3m143 0h5m22 0h13m35 0h12m102 0h10M413 332.5h9m18 0h10m35 0h11m101 0h15m85 0h6m11 0h5M421 333.5h7m5 0h6m6 0h8m27 0h7m2 0h8m101 0h6m8 0h4m82 0h9m9 0h5M189 334.5h3m225 0h26m1 0h11m26 0h2m11 0h6m93 0h11m10 0h5m80 0h9M181 335.5h4m4 0h4m223 0h38m28 0h4m11 0h5m97 0h8m4 0h7M417 336.5h31m35 0h5m4 0h9m104 0h11M421 337.5h22m1 0h7m30 0h17m76 0h8M424 338.5h28m29 0h16m76 0h14M427 339.5h18m31 0h14m83 0h10m89 0h7M419 340.5h16m7 0h6m38 0h3m87 0h8m92 0h8M415 341.5h11m20 0h5M414 342.5h11m24 0h7M351 343.5h9m49 0h14m31 0h7M353 344.5h2m55 0h8m38 0h6M409 345.5h11m31 0h11m145 0h3M409 346.5h6m32 0h16m32 0h2M409 347.5h4m36 0h14m37 0h5M408 348.5h5m36 0h8M400 349.5h19m22 0h13M366 350.5h4m30 0h11m3 0h15m11 0h11m201 0h4M365 351.5h13m25 0h4m10 0h46m189 0h15M360 352.5h7m3 0h12m22 0h5m12 0h35m5 0h12m182 0h13m1 0h3M359 353.5h6m10 0h7m21 0h6m15 0h31m12 0h14m179 0h11M360 354.5h6m12 0h6m20 0h4m21 0h27m11 0h18M359 355.5h29m15 0h7m58 0h15M360 356.5h6m5 0h24m5 0h10m65 0h8m139 0h5M362 357.5h5m4 0h36m71 0h7m138 0h1M349 358.5h10m6 0h44m60 0h16M232 359.5h2m115 0h15m19 0h1m11 0h21m51 0h17M227 360.5h5m3 0h3m111 0h13m21 0h6m15 0h20m38 0h7m15 0h5M228 361.5h3m7 0h4m110 0h11m29 0h12m10 0h13m33 0h4m23 0h3M230 362.5h3m1 0h6m120 0h1m40 0h7m7 0h13m31 0h4M233 363.5h1m174 0h19m7 0h27M413 364.5h9m19 0h20M417 365.5h8m25 0h11m102 0h1M421 366.5h7m31 0h3m101 0h1m149 0h8M423 367.5h19m17 0h4m84 0h19m150 0h5M421 368.5h40m87 0h15m1 0h5M416 369.5h20m10 0h7m94 0h13m6 0h6M412 370.5h10m26 0h4m92 0h10m12 0h9M413 371.5h6m32 0h4m90 0h6m8 0h10M415 372.5h6m32 0h5m92 0h16M181 373.5h3m232 0h7m28 0h10M186 374.5h5m8 0h6m211 0h7m35 0h4m137 0h11M181 375.5h3m4 0h9m5 0h3m150 0h4m61 0h4m35 0h4m136 0h8m2 0h4M186 376.5h11m157 0h15m55 0h3m33 0h3M357 377.5h10m2 0h4m53 0h4m30 0h4M363 378.5h13m50 0h6m14 0h11m2 0h5M300 379.5h10m113 0h4m25 0h10M300 380.5h8m2 0h4m103 0h8m32 0h4M302 381.5h5m3 0h9m95 0h3m20 0h10m11 0h6M302 382.5h6m2 0h9m95 0h3m20 0h14m9 0h9M304 383.5h5m1 0h10m57 0h12m26 0h4m18 0h7m129 0h10M305 384.5h19m53 0h17m21 0h5m18 0h4m131 0h11M307 385.5h17m50 0h22m21 0h6m15 0h5m135 0h1M305 386.5h6m63 0h51m11 0h9M303 387.5h9m56 0h6m5 0h34m1 0h14m11 0h9M184 388.5h4m1 0h17m97 0h13m55 0h6m21 0h5m18 0h13m6 0h14M303 389.5h19m79 0h5m16 0h28M306 390.5h19m80 0h5m9 0h8m17 0h5M311 391.5h15m84 0h16m20 0h6M317 392.5h10m86 0h14m21 0h12M321 393.5h3m78 0h7m43 0h12m110 0h5M401 394.5h16m21 0h22m117 0h2M404 395.5h4m8 0h4m16 0h15m2 0h7M407 396.5h4m9 0h5m9 0h14m12 0h2M407 397.5h5m12 0h16m21 0h3m159 0h1M406 398.5h5m48 0h4M407 399.5h5m47 0h3M404 400.5h9m8 0h10m29 0h3M401 401.5h35m25 0h3m114 0h1M377 402.5h10m19 0h38m16 0h4m114 0h4M376 403.5h15m21 0h29m4 0h6m9 0h3m124 0h8M380 404.5h16m37 0h6m13 0h5m2 0h4m124 0h14M385 405.5h19m7 0h4m33 0h14m123 0h20M390 406.5h26m33 0h7m4 0h3m123 0h7m1 0h11M392 407.5h10m3 0h12m35 0h6m1 0h4m123 0h6m2 0h5M382 408.5h21m14 0h2m38 0h3m127 0h5m3 0h4M225 409.5h11m144 0h27m36 0h1m145 0h4m1 0h6M225 410.5h5m6 0h4m142 0h11m13 0h6m178 0h5M227 411.5h4m6 0h5m347 0h5M227 412.5h15m18 0h7m276 0h4m43 0h5M224 413.5h22m15 0h15m317 0h1M227 414.5h27m6 0h7m7 0h8m99 0h6m296 0h1M232 415.5h14m10 0h8m18 0h3m397 0h5M236 416.5h12m34 0h4m132 0h11M239 417.5h24m19 0h3m132 0h9m3 0h5M226 418.5h3m10 0h9m2 0h20m13 0h3m127 0h10m10 0h4M231 419.5h16m18 0h12m4 0h7m124 0h8m14 0h4M236 420.5h11m21 0h13m132 0h5m15 0h5M240 421.5h39m137 0h4m13 0h5M243 422.5h36m138 0h6m11 0h4M247 423.5h15m94 0h15m45 0h10m10 0h4M358 424.5h10m1 0h4m45 0h9m11 0h7m88 0h1M360 425.5h13m47 0h6m18 0h5M307 426.5h14m36 0h16m46 0h7m23 0h6M303 427.5h5m2 0h18m17 0h3m8 0h8m6 0h4m48 0h3m11 0h9m8 0h7m223 0h1M245 428.5h4m50 0h6m11 0h18m4 0h1m4 0h1m11 0h10m7 0h5m48 0h3m10 0h24M243 429.5h10m40 0h8m16 0h6m33 0h8m7 0h9m48 0h7m5 0h15m3 0h5M244 430.5h13m40 0h4m13 0h6m37 0h4m10 0h6m50 0h36M247 431.5h15m38 0h4m9 0h4m40 0h6m10 0h4m46 0h14m4 0h23M252 432.5h12m41 0h11m40 0h5m14 0h4m40 0h9m17 0h6m152 0h9M356 433.5h6m11 0h5m44 0h6m2 0h9m6 0h8m152 0h9M357 434.5h9m5 0h7m46 0h29m154 0h2M359 435.5h17m47 0h25m160 0h3M361 436.5h7m1 0h5m48 0h24m162 0h11M221 437.5h5m129 0h11m6 0h7m45 0h8m2 0h11m170 0h11M218 438.5h4m129 0h8m20 0h5m34 0h1m7 0h19m116 0h6m8 0h4m40 0h9M355 439.5h5m20 0h7m37 0h5m4 0h12m177 0h6M358 440.5h5m12 0h12m234 0h4M359 441.5h5m12 0h6m160 0h6m1 0h5m63 0h5m2 0h6M356 442.5h9m8 0h7m160 0h5m8 0h3m61 0h4m8 0h5M357 443.5h22m159 0h7m6 0h4m64 0h4m2 0h12M360 444.5h15m164 0h5m6 0h3m68 0h7M366 445.5h21m155 0h4m4 0h3m70 0h1M372 446.5h8m5 0h5m156 0h7M375 447.5h5m7 0h5m275 0h2M378 448.5h14M381 449.5h13M351 451.5h3m84 0h7m49 0h12M217 452.5h3m219 0h4m1 0h3m51 0h8M217 453.5h8m168 0h8m39 0h9M214 454.5h17m153 0h22m26 0h15M209 455.5h28m148 0h13m1 0h13m22 0h8m2 0h3M209 456.5h6m5 0h5m9 0h3m35 0h8m103 0h9m10 0h19m16 0h4m4 0h4M211 457.5h6m3 0h6m42 0h13m102 0h12m11 0h46M213 458.5h12m51 0h3m106 0h12m13 0h20m15 0h4M384 459.5h12m4 0h26m21 0h5M385 460.5h5m11 0h19m31 0h6M388 461.5h6m8 0h5m8 0h6m32 0h6M391 462.5h15m12 0h6m24 0h12M276 463.5h6m114 0h10m15 0h5m22 0h5M273 464.5h11m77 0h12m52 0h8m13 0h6M274 465.5h4m1 0h6m80 0h12m50 0h13m4 0h7m233 0h5M417 466.5h23m6 0h6m235 0h8M417 467.5h4m12 0h7m9 0h6m78 0h1M417 468.5h5m30 0h5m76 0h1M396 469.5h5m20 0h4m24 0h9M394 470.5h9m22 0h4m21 0h8M395 471.5h3m1 0h8m18 0h7m16 0h9m3 0h1m67 0h7"/><path stroke="#ff0000" d="M425 202.5h29M425 203.5h9m2 0h17M428 204.5h22M428 206.5h1M422 207.5h13M422 208.5h15M423 209.5h12M427 210.5h4M248 212.5h1m193 0h3m133 0h1m42 0h8M245 213.5h6m190 0h4m130 0h8m36 0h9M246 214.5h6m325 0h6m40 0h1M247 215.5h6m114 0h2M248 216.5h1m117 0h4M248 217.5h1m119 0h1M184 224.5h3M186 225.5h7m397 0h6M190 226.5h3m398 0h9M232 231.5h4M693 232.5h6M691 233.5h11M420 234.5h10m261 0h12M422 235.5h11m190 0h1m67 0h13M425 236.5h10m187 0h2m71 0h10M428 237.5h4m190 0h3M428 238.5h5M419 239.5h24M423 240.5h26M431 241.5h16M419 246.5h7M411 247.5h19M411 248.5h21M411 249.5h20M412 250.5h15M302 251.5h8m102 0h13m229 0h16M302 252.5h13m91 0h16m232 0h16M307 253.5h17m83 0h16m233 0h14M316 254.5h10m84 0h18m230 0h13M323 255.5h2m99 0h11m228 0h8M433 256.5h6M653 257.5h8M652 258.5h4M438 260.5h7M437 261.5h12M424 262.5h11m1 0h16M426 263.5h27M428 268.5h1M425 269.5h9M427 270.5h14m105 0h3M431 271.5h15m99 0h7M295 272.5h4m138 0h11m99 0h6M291 273.5h11m140 0h8m98 0h1M292 274.5h15m120 0h2m118 0h3M294 275.5h16m117 0h8m113 0h3M296 276.5h15m121 0h12M300 277.5h9m127 0h13M304 278.5h5m131 0h9M434 280.5h12M438 281.5h10M443 282.5h2M516 287.5h5M517 288.5h4M517 289.5h2M341 292.5h13m104 0h1M342 293.5h18m97 0h6M347 294.5h15M443 295.5h1M548 298.5h1M389 299.5h6M390 300.5h13M392 301.5h19M391 302.5h23M387 303.5h27M391 304.5h22M396 305.5h18M402 306.5h12M667 310.5h2M662 311.5h10M659 312.5h16M660 313.5h16M662 314.5h16M652 315.5h20M306 316.5h4m342 0h18m25 0h5M308 317.5h1M444 319.5h12M443 320.5h17M444 321.5h18M449 322.5h13M262 325.5h4M260 326.5h6m158 0h5M258 327.5h8m142 0h7m12 0h6M258 328.5h8m143 0h9M259 329.5h7m145 0h11M261 330.5h4m146 0h18M413 331.5h22M422 332.5h18M428 333.5h5m6 0h6m42 0h2m115 0h8M181 334.5h8m254 0h1m39 0h11m110 0h10M185 335.5h4m297 0h11m110 0h4M488 336.5h4M443 337.5h1M435 340.5h7M426 341.5h20M425 342.5h24M423 343.5h31M418 344.5h38M420 345.5h31M415 346.5h32M413 347.5h36M413 348.5h36M419 349.5h22M411 350.5h3m15 0h11M407 351.5h10M367 352.5h3m39 0h12m35 0h5m207 0h1M365 353.5h10m34 0h15m31 0h12M366 354.5h12m30 0h21m27 0h11M410 355.5h58M366 356.5h5m39 0h65M367 357.5h4m36 0h71M409 358.5h60M416 359.5h51M232 360.5h3m189 0h38M231 361.5h7m189 0h33M233 362.5h1m194 0h31M427 363.5h7M422 364.5h19M425 365.5h25M428 366.5h31M442 367.5h17M563 368.5h1M436 369.5h10m114 0h6M422 370.5h26m106 0h12M419 371.5h32m100 0h8M421 372.5h32M423 373.5h28M181 374.5h5m237 0h35M184 375.5h4m236 0h35m148 0h2M427 376.5h33M367 377.5h2m61 0h30M432 378.5h14m11 0h2M427 379.5h25M308 380.5h2m115 0h32M307 381.5h3m107 0h20m10 0h11M308 382.5h2m107 0h20M309 383.5h1m109 0h18M420 384.5h18M423 385.5h15M425 386.5h11M413 387.5h1m14 0h11M403 388.5h18m13 0h6M406 389.5h16M410 390.5h9M408 395.5h8m35 0h2M411 396.5h9m28 0h12M412 397.5h12m16 0h21M411 398.5h48M412 399.5h47M413 400.5h8m10 0h29M436 401.5h25M444 402.5h16M451 403.5h9M457 404.5h2M456 406.5h4m133 0h1M458 407.5h1m133 0h2M592 408.5h3M593 409.5h1M230 410.5h6M231 411.5h6M267 414.5h7M246 415.5h10m8 0h18M248 416.5h34M263 417.5h19m144 0h3M248 418.5h2m20 0h13m140 0h10M247 419.5h18m12 0h4m139 0h14M247 420.5h21m150 0h15M420 421.5h13M423 422.5h11M426 423.5h10M368 424.5h1m58 0h11M426 425.5h18M426 426.5h23M308 427.5h2m54 0h6m55 0h11m9 0h8M305 428.5h11m49 0h7m56 0h10M301 429.5h16m47 0h7m64 0h5m15 0h3M301 430.5h13m47 0h10M304 431.5h9m50 0h10m64 0h4M361 432.5h14m53 0h17M362 433.5h11m55 0h2m9 0h6M366 434.5h5M368 436.5h1M366 437.5h6m60 0h2M359 438.5h20M360 439.5h20M363 440.5h12M364 441.5h12m172 0h1m73 0h2M365 442.5h8m172 0h8m68 0h8M545 443.5h6m72 0h2M544 444.5h6M546 445.5h4M380 446.5h5M380 447.5h7M443 452.5h1M398 455.5h1m43 0h2M215 456.5h5m172 0h10m39 0h4M217 457.5h3m175 0h11M397 458.5h13m20 0h15M396 459.5h4m26 0h21M390 460.5h11m19 0h31M394 461.5h8m19 0h32M424 462.5h24M426 463.5h22M433 464.5h13M278 465.5h1m161 0h4M440 466.5h6M421 467.5h12m7 0h9M422 468.5h30M425 469.5h24M429 470.5h21M398 471.5h1m33 0h16"/></g><g fill="#000"><rect x="181" y="202" width="541" height="1"/><rect x="181" y="472" width="541" height="1"/><rect x="181" y="202" width="1" height="271"/><rect x="721" y="202" width="1" height="271"/><rect x="181" y="189" width="2" height="13"/><rect x="181" y="472" width="2" height="14"/><rect x="197" y="196" width="1" height="6"/><rect x="197" y="473" width="1" height="6"/><rect x="212" y="196" width="1" height="6"/><rect x="212" y="473" width="1" height="6"/><rect x="226" y="189" width="2" height="13"/><rect x="226" y="472" width="2" height="14"/><rect x="242" y="196" width="1" height="6"/><rect x="242" y="473" width="1" height="6"/><rect x="257" y="196" width="1" height="6"/><rect x="257" y="473" width="1" height="6"/><rect x="271" y="189" width="2" height="13"/><rect x="271" y="472" width="2" height="14"/><rect x="287" y="196" width="1" height="6"/><rect x="287" y="473" width="1" height="6"/><rect x="302" y="196" width="1" height="6"/><rect x="302" y="473" width="1" height="6"/><rect x="316" y="189" width="2" height="13"/><rect x="316" y="472" width="2" height="14"/><rect x="332" y="196" width="1" height="6"/><rect x="332" y="473" width="1" height="6"/><rect x="347" y="196" width="1" height="6"/><rect x="347" y="473" width="1" height="6"/><rect x="361" y="189" width="2" height="13"/><rect x="361" y="472" width="2" height="14"/><rect x="377" y="196" width="1" height="6"/><rect x="377" y="473" width="1" height="6"/><rect x="392" y="196" width="1" height="6"/><rect x="392" y="473" width="1" height="6"/><rect x="406" y="189" width="2" height="13"/><rect x="406" y="472" width="2" height="14"/><rect x="422" y="196" width="1" height="6"/><rect x="422" y="473" width="1" height="6"/><rect x="437" y="196" width="1" height="6"/><rect x="437" y="473" width="1" height="6"/><rect x="450" y="189" width="2" height="13"/><rect x="450" y="472" width="2" height="14"/><rect x="466" y="196" width="1" height="6"/><rect x="466" y="473" width="1" height="6"/><rect x="481" y="196" width="1" height="6"/><rect x="481" y="473" width="1" height="6"/><rect x="495" y="189" width="2" height="13"/><rect x="495" y="472" width="2" height="14"/><rect x="511" y="196" width="1" height="6"/><rect x="511" y="473" width="1" height="6"/><rect x="526" y="196" width="1" height="6"/><rect x="526" y="473" width="1" height="6"/><rect x="540" y="189" width="2" height="13"/><rect x="540" y="472" width="2" height="14"/><rect x="556" y="196" width="1" height="6"/><rect x="556" y="473" width="1" height="6"/><rect x="571" y="196" width="1" height="6"/><rect x="571" y="473" width="1" height="6"/><rect x="585" y="189" width="2" height="13"/><rect x="585" y="472" width="2" height="14"/><rect x="601" y="196" width="1" height="6"/><rect x="601" y="473" width="1" height="6"/><rect x="616" y="196" width="1" height="6"/><rect x="616" y="473" width="1" height="6"/><rect x="630" y="189" width="2" height="13"/><rect x="630" y="472" width="2" height="14"/><rect x="646" y="196" width="1" height="6"/><rect x="646" y="473" width="1" height="6"/><rect x="661" y="196" width="1" height="6"/><rect x="661" y="473" width="1" height="6"/><rect x="675" y="189" width="2" height="13"/><rect x="675" y="472" width="2" height="14"/><rect x="691" y="196" width="1" height="6"/><rect x="691" y="473" width="1" height="6"/><rect x="706" y="196" width="1" height="6"/><rect x="706" y="473" width="1" height="6"/><rect x="720" y="189" width="2" height="13"/><rect x="720" y="472" width="2" height="14"/><rect x="168" y="202" width="13" height="2"/><rect x="722" y="202" width="13" height="2"/><rect x="176" y="229" width="5" height="1"/><rect x="722" y="229" width="6" height="1"/><rect x="168" y="256" width="13" height="2"/><rect x="722" y="256" width="13" height="2"/><rect x="176" y="283" width="5" height="1"/><rect x="722" y="283" width="6" height="1"/><rect x="168" y="310" width="13" height="2"/><rect x="722" y="310" width="13" height="2"/><rect x="176" y="336" width="5" height="1"/><rect x="722" y="336" width="6" height="1"/><rect x="168" y="363" width="13" height="2"/><rect x="722" y="363" width="13" height="2"/><rect x="176" y="390" width="5" height="1"/><rect x="722" y="390" width="6" height="1"/><rect x="168" y="417" width="13" height="2"/><rect x="722" y="417" width="13" height="2"/><rect x="176" y="444" width="5" height="1"/><rect x="722" y="444" width="6" height="1"/><rect x="168" y="471" width="13" height="2"/><rect x="722" y="471" width="13" height="2"/></g><rect x="47" y="585" width="32" height="21" fill="#0000f0"/><rect x="79" y="585" width="32" height="21" fill="#00a0ff"/><rect x="111" y="585" width="32" height="21" fill="#00ffaa"/><rect x="143" y="585" width="32" height="21" fill="#00f200"/><rect x="175" y="585" width="32" height="21" fill="#ffff00"/><rect x="207" y="585" width="33" height="21" fill="#ffa500"/><rect x="240" y="585" width="31" height="21" fill="#ff0000"/><rect x="46" y="606" width="227" height="2"/><rect x="46" y="593" width="2" height="14"/><rect x="110" y="593" width="2" height="14"/><rect x="174" y="593" width="2" height="14"/><rect x="271" y="593" width="2" height="14"/><rect x="79" y="601" width="1" height="6"/><rect x="142" y="601" width="1" height="6"/><rect x="207" y="601" width="1" height="6"/><rect x="239" y="601" width="1" height="6"/><g stroke="#000" stroke-width="1.9" shape-rendering="auto"><line x1="203.2" y1="161.8" x2="216.6" y2="147.6"/><line x1="615.6" y1="161.8" x2="629.8" y2="143.6"/><line x1="669.6" y1="161.8" x2="683.8" y2="143.6"/></g></svg>
<div class="t" style="left:182.00px;top:110.16px;font-size:24.5px;line-height:24.5px;font-weight:400;"><i style="width:18px">u</i><i style="width:18px"><b style="display:inline-block;width:15.5px;height:2px;background:#000;vertical-align:7.5px"></b></i><i style="width:18px">v</i><i style="width:18px">e</i><i style="width:18px">l</i><i style="width:18px">o</i><i style="width:18px">c</i><i style="width:18px">i</i><i style="width:18px">t</i><i style="width:18px">y</i></div>
<div class="t" style="left:577.50px;top:109.86px;font-size:24.5px;line-height:24.5px;font-weight:400;"><i style="width:18px">a</i><i style="width:18px">d</i><i style="width:18px">j</i><i style="width:18px">7</i><i style="width:18px">0</i><i style="width:18px">0</i><i style="width:18px">p</i><i style="width:18px">a</i></div>
<div class="t" style="left:180.00px;top:140.86px;font-size:24.5px;line-height:24.5px;font-weight:400;"><i style="width:18px">m</i><i style="width:18px"></i><i style="width:18px">s</i></div>
<div class="t" style="left:397.50px;top:141.06px;font-size:24.5px;line-height:24.5px;font-weight:400;"><i style="width:18px">1</i><i style="width:18px">5</i><i style="width:18px">0</i><i style="width:18px">0</i><i style="width:18px">.</i><i style="width:18px">2</i><i style="width:18px">D</i><i style="width:18px">A</i><i style="width:18px">Y</i><i style="width:18px">&nbsp;</i><i style="width:18px">0</i><i style="width:18px">7</i><i style="width:18px"></i><i style="width:18px">0</i><i style="width:18px">0</i><i style="width:18px"></i><i style="width:18px">0</i><i style="width:18px">9</i></div>
<div class="t" style="left:181.90px;top:174.02px;font-size:12.5px;line-height:12.5px;font-weight:700;"><i style="width:9px">U</i><i style="width:9px">&nbsp;</i><i style="width:9px">Y</i><i style="width:9px">S</i><i style="width:9px">3</i><i style="width:9px">2</i><i style="width:9px">&nbsp;</i><i style="width:9px">T</i><i style="width:9px">S</i><i style="width:9px">E</i><i style="width:9px">Q</i><i style="width:9px">&nbsp;</i><i style="width:9px">S</i><i style="width:9px">U</i><i style="width:9px">B</i><i style="width:9px">&nbsp;</i><i style="width:9px">Y</i><i style="width:9px">S</i><i style="width:9px">5</i></div>
<div class="t" style="left:424.50px;top:173.72px;font-size:12.5px;line-height:12.5px;font-weight:700;"><i style="width:9px">#</i><i style="width:9px">1</i><i style="width:9px"><b style="display:inline-block;width:8px;height:2px;background:#000;vertical-align:3px"></b></i><i style="width:9px">1</i><i style="width:9px">0</i><i style="width:9px">8</i><i style="width:9px">0</i><i style="width:9px">2</i><i style="width:9px">1</i></div>
<div class="t" style="left:104.50px;top:192.66px;font-size:18px;line-height:18px;font-weight:400;"><i style="width:14px;transform:scaleX(1.1)">1</i><i style="width:14px;transform:scaleX(1.1)">6</i><i style="width:14px;transform:scaleX(1.1)">0</i><i style="width:14px;transform:scaleX(1.1)">0</i></div>
<div class="t" style="left:104.50px;top:246.66px;font-size:18px;line-height:18px;font-weight:400;"><i style="width:14px;transform:scaleX(1.1)">1</i><i style="width:14px;transform:scaleX(1.1)">5</i><i style="width:14px;transform:scaleX(1.1)">8</i><i style="width:14px;transform:scaleX(1.1)">0</i></div>
<div class="t" style="left:104.50px;top:300.66px;font-size:18px;line-height:18px;font-weight:400;"><i style="width:14px;transform:scaleX(1.1)">1</i><i style="width:14px;transform:scaleX(1.1)">5</i><i style="width:14px;transform:scaleX(1.1)">6</i><i style="width:14px;transform:scaleX(1.1)">0</i></div>
<div class="t" style="left:104.50px;top:354.66px;font-size:18px;line-height:18px;font-weight:400;"><i style="width:14px;transform:scaleX(1.1)">1</i><i style="width:14px;transform:scaleX(1.1)">5</i><i style="width:14px;transform:scaleX(1.1)">4</i><i style="width:14px;transform:scaleX(1.1)">0</i></div>
<div class="t" style="left:104.50px;top:408.66px;font-size:18px;line-height:18px;font-weight:400;"><i style="width:14px;transform:scaleX(1.1)">1</i><i style="width:14px;transform:scaleX(1.1)">5</i><i style="width:14px;transform:scaleX(1.1)">2</i><i style="width:14px;transform:scaleX(1.1)">0</i></div>
<div class="t" style="left:104.50px;top:462.66px;font-size:18px;line-height:18px;font-weight:400;"><i style="width:14px;transform:scaleX(1.1)">1</i><i style="width:14px;transform:scaleX(1.1)">5</i><i style="width:14px;transform:scaleX(1.1)">0</i><i style="width:14px;transform:scaleX(1.1)">0</i></div>
<div class="t" style="left:174.50px;top:492.16px;font-size:18px;line-height:18px;font-weight:400;"><i style="width:14px;transform:scaleX(1.12)">0</i></div>
<div class="t" style="left:219.50px;top:492.16px;font-size:18px;line-height:18px;font-weight:400;"><i style="width:14px;transform:scaleX(1.12)">3</i></div>
<div class="t" style="left:264.50px;top:492.16px;font-size:18px;line-height:18px;font-weight:400;"><i style="width:14px;transform:scaleX(1.12)">6</i></div>
<div class="t" style="left:309.50px;top:492.16px;font-size:18px;line-height:18px;font-weight:400;"><i style="width:14px;transform:scaleX(1.12)">9</i></div>
<div class="t" style="left:347.50px;top:492.16px;font-size:18px;line-height:18px;font-weight:400;"><i style="width:14px;transform:scaleX(1.12)">1</i><i style="width:14px;transform:scaleX(1.12)">2</i></div>
<div class="t" style="left:392.50px;top:492.16px;font-size:18px;line-height:18px;font-weight:400;"><i style="width:14px;transform:scaleX(1.12)">1</i><i style="width:14px;transform:scaleX(1.12)">5</i></div>
<div class="t" style="left:437.50px;top:492.16px;font-size:18px;line-height:18px;font-weight:400;"><i style="width:14px;transform:scaleX(1.12)">1</i><i style="width:14px;transform:scaleX(1.12)">8</i></div>
<div class="t" style="left:482.50px;top:492.16px;font-size:18px;line-height:18px;font-weight:400;"><i style="width:14px;transform:scaleX(1.12)">2</i><i style="width:14px;transform:scaleX(1.12)">1</i></div>
<div class="t" style="left:527.50px;top:492.16px;font-size:18px;line-height:18px;font-weight:400;"><i style="width:14px;transform:scaleX(1.12)">2</i><i style="width:14px;transform:scaleX(1.12)">4</i></div>
<div class="t" style="left:572.50px;top:492.16px;font-size:18px;line-height:18px;font-weight:400;"><i style="width:14px;transform:scaleX(1.12)">2</i><i style="width:14px;transform:scaleX(1.12)">7</i></div>
<div class="t" style="left:617.50px;top:492.16px;font-size:18px;line-height:18px;font-weight:400;"><i style="width:14px;transform:scaleX(1.12)">3</i><i style="width:14px;transform:scaleX(1.12)">0</i></div>
<div class="t" style="left:662.50px;top:492.16px;font-size:18px;line-height:18px;font-weight:400;"><i style="width:14px;transform:scaleX(1.12)">3</i><i style="width:14px;transform:scaleX(1.12)">3</i></div>
<div class="t" style="left:707.50px;top:492.16px;font-size:18px;line-height:18px;font-weight:400;"><i style="width:14px;transform:scaleX(1.12)">3</i><i style="width:14px;transform:scaleX(1.12)">6</i></div>
<div class="t" style="left:666.60px;top:514.76px;font-size:18px;line-height:18px;font-weight:400;"><i style="width:13.8px">(</i><i style="width:13.8px">x</i><i style="width:13.8px">1</i><i style="width:13.8px">0</i><i style="width:13.8px">)</i></div>
<div class="t" style="left:390.65px;top:537.76px;font-size:18px;line-height:18px;font-weight:400;"><i style="width:13.5px">l</i><i style="width:13.5px">o</i><i style="width:13.5px">n</i><i style="width:13.5px">g</i><i style="width:13.5px">i</i><i style="width:13.5px">t</i><i style="width:13.5px">u</i><i style="width:13.5px">d</i><i style="width:13.5px">e</i></div>
<div class="t" style="left:80.5px;top:357.5px;font-size:18px;line-height:18px;transform:rotate(-90deg);transform-origin:0 0"><i style="width:13.75px">D</i><i style="width:13.75px">A</i><i style="width:13.75px">Y</i></div>
<div class="t" style="left:739.50px;top:197.34px;font-size:12px;line-height:12px;font-weight:400;"><i style="width:9px">l</i><i style="width:9px">a</i><i style="width:9px">t</i><i style="width:9px">=</i><i style="width:9px">1</i><i style="width:9px">.</i><i style="width:9px">3</i><i style="width:9px">9</i><i style="width:9px">5</i><i style="width:9px">3</i></div>
<div class="t" style="left:739.50px;top:216.04px;font-size:12px;line-height:12px;font-weight:400;"><i style="width:9px">T</i><i style="width:9px">I</i><i style="width:9px">M</i><i style="width:9px">E</i><i style="width:9px">s</i><i style="width:9px">e</i><i style="width:9px">q</i><i style="width:9px">u</i><i style="width:9px">e</i><i style="width:9px">n</i><i style="width:9px">c</i><i style="width:9px">e</i></div>
<div class="t" style="left:739.50px;top:234.74px;font-size:12px;line-height:12px;font-weight:400;"><i style="width:9px">(</i><i style="width:9px">g</i><i style="width:9px">t</i><i style="width:9px">s</i><i style="width:9px">u</i><i style="width:9px">b</i><i style="width:9px">)</i></div>
<div class="t" style="left:739.50px;top:253.44px;font-size:12px;line-height:12px;font-weight:400;"><i style="width:9px">C</i><i style="width:9px">S</i><i style="width:9px">I</i><i style="width:9px">G</i><i style="width:9px">1</i><i style="width:9px">6</i><i style="width:9px">.</i><i style="width:9px">P</i><i style="width:9px">=</i><i style="width:9px">0</i><i style="width:9px">.</i><i style="width:9px">8</i><i style="width:9px">3</i></div>
<div class="t" style="left:739.50px;top:346.94px;font-size:12px;line-height:12px;font-weight:400;"><i style="width:9px">2</i><i style="width:9px">0</i><i style="width:9px">0</i><i style="width:9px">7</i><i style="width:9px">0</i><i style="width:9px">0</i><i style="width:9px">0</i><i style="width:9px">9</i><i style="width:9px">0</i><i style="width:9px">6</i><i style="width:9px">0</i><i style="width:9px">0</i><i style="width:9px">0</i><i style="width:9px">0</i></div>
<div class="t" style="left:739.50px;top:365.64px;font-size:12px;line-height:12px;font-weight:400;"><i style="width:9px">G</i><i style="width:9px">L</i><i style="width:9px">O</i><i style="width:9px">N</i><i style="width:9px">1</i><i style="width:9px">2</i><i style="width:9px">8</i></div>
<div class="t" style="left:739.50px;top:384.34px;font-size:12px;line-height:12px;font-weight:400;"><i style="width:9px">(</i><i style="width:9px">1</i><i style="width:9px">,</i><i style="width:9px">1</i><i style="width:9px">2</i><i style="width:9px">9</i><i style="width:9px">)</i></div>
<div class="t" style="left:739.50px;top:403.04px;font-size:12px;line-height:12px;font-weight:400;"><i style="width:9px">@</i><i style="width:9px">E</i><i style="width:9px">X</i><i style="width:9px">T</i><i style="width:9px">A</i><i style="width:9px">X</i><i style="width:9px">0</i><i style="width:9px">1</i></div>
<div class="t" style="left:739.50px;top:421.74px;font-size:12px;line-height:12px;font-weight:400;"><i style="width:9px">(</i><i style="width:9px">1</i><i style="width:9px">,</i><i style="width:9px">4</i><i style="width:9px">0</i><i style="width:9px">0</i><i style="width:9px">)</i></div>
<div class="t" style="left:739.50px;top:440.44px;font-size:12px;line-height:12px;font-weight:400;"><i style="width:9px"><b style="display:inline-block;width:8px;height:1px;background:#000;vertical-align:3.5px"></b></i><i style="width:9px">9</i><i style="width:9px">9</i><i style="width:9px">9</i><i style="width:9px">.</i></div>
<div class="t" style="left:739.50px;top:459.14px;font-size:12px;line-height:12px;font-weight:400;"><i style="width:9px"><b style="display:inline-block;width:8px;height:1px;background:#000;vertical-align:3.5px"></b></i><i style="width:9px">9</i><i style="width:9px">9</i><i style="width:9px">9</i><i style="width:9px">.</i></div>
<div class="t" style="left:739.50px;top:477.84px;font-size:12px;line-height:12px;font-weight:400;"><i style="width:9px"><b style="display:inline-block;width:8px;height:1px;background:#000;vertical-align:3.5px"></b></i><i style="width:9px">9</i><i style="width:9px">9</i><i style="width:9px">9</i><i style="width:9px">.</i></div>
<div class="t" style="left:739.50px;top:496.54px;font-size:12px;line-height:12px;font-weight:400;"><i style="width:9px"><b style="display:inline-block;width:8px;height:1px;background:#000;vertical-align:3.5px"></b></i><i style="width:9px">9</i><i style="width:9px">9</i><i style="width:9px">9</i><i style="width:9px">.</i></div>
<div class="t" style="left:739.50px;top:515.24px;font-size:12px;line-height:12px;font-weight:400;"><i style="width:9px">2</i><i style="width:9px">0</i><i style="width:9px">0</i><i style="width:9px">3</i><i style="width:9px">1</i><i style="width:9px">0</i><i style="width:9px">1</i><i style="width:9px">2</i><i style="width:9px">&nbsp;</i><i style="width:9px">1</i><i style="width:9px">4</i><i style="width:9px">5</i><i style="width:9px">3</i><i style="width:9px">5</i><i style="width:9px">2</i></div>
<div class="t" style="left:739.50px;top:533.94px;font-size:12px;line-height:12px;font-weight:400;"><i style="width:9px">y</i><i style="width:9px">u</i><i style="width:9px">k</i><i style="width:9px">i</i><i style="width:9px">k</i><i style="width:9px">o</i></div>
<div class="t" style="left:40.00px;top:610.83px;font-size:10px;line-height:10px;font-weight:700;"><i style="width:7px"><b style="display:inline-block;width:5px;height:2px;background:#000;vertical-align:2.5px"></b></i><i style="width:7px" class="inf">∞</i></div>
<div class="t" style="left:93.50px;top:610.83px;font-size:10px;line-height:10px;font-weight:700;"><i style="width:7px"><b style="display:inline-block;width:5px;height:2px;background:#000;vertical-align:2.5px"></b></i><i style="width:7px">6</i><i style="width:7px">.</i><i style="width:7px">0</i><i style="width:7px">0</i></div>
<div class="t" style="left:161.00px;top:610.83px;font-size:10px;line-height:10px;font-weight:700;"><i style="width:7px">2</i><i style="width:7px">.</i><i style="width:7px">0</i><i style="width:7px">0</i></div>
<div class="t" style="left:267.00px;top:610.83px;font-size:10px;line-height:10px;font-weight:700;"><i style="width:7px" class="inf">∞</i></div>
</body></html>
